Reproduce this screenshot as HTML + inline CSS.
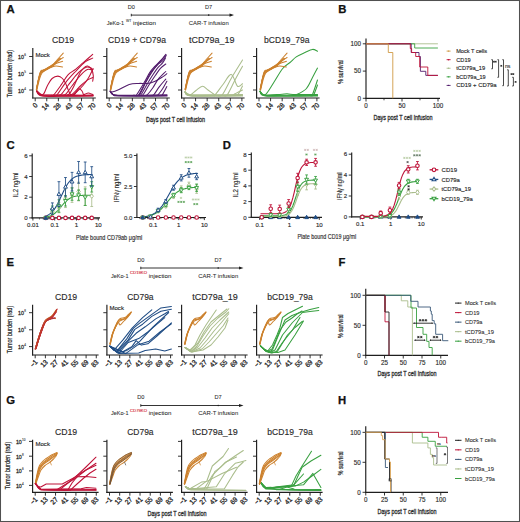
<!DOCTYPE html>
<html><head><meta charset="utf-8"><style>html,body{margin:0;padding:0;background:#fff;overflow:hidden;}svg{display:block;}text{font-family:"Liberation Sans",sans-serif;}</style></head><body>
<svg width="520" height="522" viewBox="0 0 520 522" font-family='"Liberation Sans", sans-serif'>
<rect x="0.5" y="0.5" width="519" height="521" fill="#fff" stroke="#505050" stroke-width="1.05"/>
<text x="6.4" y="13.3" font-size="11.3" fill="#111" stroke="#111" stroke-width="0.25" font-weight="bold">A</text>
<text x="338.3" y="13.4" font-size="11.3" fill="#111" stroke="#111" stroke-width="0.25" font-weight="bold">B</text>
<text x="6.5" y="149.4" font-size="11.3" fill="#111" stroke="#111" stroke-width="0.25" font-weight="bold">C</text>
<text x="222.7" y="149.4" font-size="11.3" fill="#111" stroke="#111" stroke-width="0.25" font-weight="bold">D</text>
<text x="6.5" y="266.4" font-size="11.3" fill="#111" stroke="#111" stroke-width="0.25" font-weight="bold">E</text>
<text x="338.5" y="266.4" font-size="11.3" fill="#111" stroke="#111" stroke-width="0.25" font-weight="bold">F</text>
<text x="6.3" y="403.6" font-size="11.3" fill="#111" stroke="#111" stroke-width="0.25" font-weight="bold">G</text>
<text x="338" y="403.8" font-size="11.3" fill="#111" stroke="#111" stroke-width="0.25" font-weight="bold">H</text>
<line x1="131.3" y1="15.1" x2="231" y2="15.1" stroke="#1e1e1e" stroke-width="0.9"/>
<line x1="131.3" y1="13.8" x2="131.3" y2="16.4" stroke="#1e1e1e" stroke-width="0.9"/>
<circle cx="208.7" cy="15.1" r="0.8" fill="#1e1e1e"/>
<path d="M229.5 13.5 L234 15.1 L229.5 16.7 Z" fill="#1e1e1e"/>
<text x="131.4" y="8.7" font-size="5.6" fill="#2a2a2a" stroke="#2a2a2a" stroke-width="0.06" text-anchor="middle" textLength="7.2" lengthAdjust="spacingAndGlyphs">D0</text>
<text x="208.6" y="8.7" font-size="5.6" fill="#2a2a2a" stroke="#2a2a2a" stroke-width="0.06" text-anchor="middle" textLength="7.2" lengthAdjust="spacingAndGlyphs">D7</text>
<text x="106.7" y="25" font-size="5.8" fill="#2a2a2a" stroke="#2a2a2a" stroke-width="0.06" textLength="17.5" lengthAdjust="spacingAndGlyphs">JeKo-1</text>
<text x="126" y="21.5" font-size="3.9" fill="#2a2a2a" stroke="#2a2a2a" stroke-width="0.06" textLength="5.4" lengthAdjust="spacingAndGlyphs">WT</text>
<text x="133" y="25" font-size="5.8" fill="#2a2a2a" stroke="#2a2a2a" stroke-width="0.06" textLength="22.9" lengthAdjust="spacingAndGlyphs">injection</text>
<text x="188.7" y="25" font-size="5.8" fill="#2a2a2a" stroke="#2a2a2a" stroke-width="0.06" textLength="40" lengthAdjust="spacingAndGlyphs">CAR-T infusion</text>
<line x1="140.8" y1="268" x2="240.5" y2="268" stroke="#1e1e1e" stroke-width="0.9"/>
<line x1="140.8" y1="266.7" x2="140.8" y2="269.3" stroke="#1e1e1e" stroke-width="0.9"/>
<circle cx="218.2" cy="268" r="0.8" fill="#1e1e1e"/>
<path d="M239 266.4 L243.5 268 L239 269.6 Z" fill="#1e1e1e"/>
<text x="140.9" y="261.6" font-size="5.6" fill="#2a2a2a" stroke="#2a2a2a" stroke-width="0.06" text-anchor="middle" textLength="7.2" lengthAdjust="spacingAndGlyphs">D0</text>
<text x="218.1" y="261.6" font-size="5.6" fill="#2a2a2a" stroke="#2a2a2a" stroke-width="0.06" text-anchor="middle" textLength="7.2" lengthAdjust="spacingAndGlyphs">D7</text>
<text x="111" y="277.9" font-size="5.8" fill="#2a2a2a" stroke="#2a2a2a" stroke-width="0.06" textLength="17.5" lengthAdjust="spacingAndGlyphs">JeKo-1</text>
<text x="130" y="274.4" font-size="4" fill="#D42A3A" stroke="#D42A3A" stroke-width="0.12" textLength="17" lengthAdjust="spacingAndGlyphs">CD19KO</text>
<text x="148.75" y="277.9" font-size="5.8" fill="#2a2a2a" stroke="#2a2a2a" stroke-width="0.06" textLength="22.6" lengthAdjust="spacingAndGlyphs">injection</text>
<text x="198.2" y="277.9" font-size="5.8" fill="#2a2a2a" stroke="#2a2a2a" stroke-width="0.06" textLength="40" lengthAdjust="spacingAndGlyphs">CAR-T infusion</text>
<line x1="140.8" y1="405.5" x2="240.5" y2="405.5" stroke="#1e1e1e" stroke-width="0.9"/>
<line x1="140.8" y1="404.2" x2="140.8" y2="406.8" stroke="#1e1e1e" stroke-width="0.9"/>
<circle cx="218.2" cy="405.5" r="0.8" fill="#1e1e1e"/>
<path d="M239 403.9 L243.5 405.5 L239 407.1 Z" fill="#1e1e1e"/>
<text x="140.9" y="399.1" font-size="5.6" fill="#2a2a2a" stroke="#2a2a2a" stroke-width="0.06" text-anchor="middle" textLength="7.2" lengthAdjust="spacingAndGlyphs">D0</text>
<text x="218.1" y="399.1" font-size="5.6" fill="#2a2a2a" stroke="#2a2a2a" stroke-width="0.06" text-anchor="middle" textLength="7.2" lengthAdjust="spacingAndGlyphs">D7</text>
<text x="111" y="415.4" font-size="5.8" fill="#2a2a2a" stroke="#2a2a2a" stroke-width="0.06" textLength="17.5" lengthAdjust="spacingAndGlyphs">JeKo-1</text>
<text x="130" y="411.9" font-size="4" fill="#D42A3A" stroke="#D42A3A" stroke-width="0.12" textLength="17" lengthAdjust="spacingAndGlyphs">CD79KO</text>
<text x="148.75" y="415.4" font-size="5.8" fill="#2a2a2a" stroke="#2a2a2a" stroke-width="0.06" textLength="22.6" lengthAdjust="spacingAndGlyphs">injection</text>
<text x="198.2" y="415.4" font-size="5.8" fill="#2a2a2a" stroke="#2a2a2a" stroke-width="0.06" textLength="40" lengthAdjust="spacingAndGlyphs">CAR-T infusion</text>
<line x1="32.8" y1="48" x2="32.8" y2="98.55" stroke="#1e1e1e" stroke-width="1.15"/>
<line x1="29.2" y1="56.5" x2="32.8" y2="56.5" stroke="#1e1e1e" stroke-width="0.9"/>
<line x1="29.2" y1="73.3" x2="32.8" y2="73.3" stroke="#1e1e1e" stroke-width="0.9"/>
<line x1="29.2" y1="90" x2="32.8" y2="90" stroke="#1e1e1e" stroke-width="0.9"/>
<line x1="32.25" y1="98" x2="95.8" y2="98" stroke="#1e1e1e" stroke-width="1.15"/>
<line x1="35.2" y1="98" x2="35.2" y2="101.3" stroke="#1e1e1e" stroke-width="0.9"/>
<text x="38.1" y="105.6" font-size="7" fill="#2a2a2a" stroke="#2a2a2a" stroke-width="0.3" text-anchor="end" textLength="3.6" lengthAdjust="spacingAndGlyphs" transform="rotate(-45 38.1 105.6)">0</text>
<line x1="46.78" y1="98" x2="46.78" y2="101.3" stroke="#1e1e1e" stroke-width="0.9"/>
<text x="49.68" y="105.6" font-size="7" fill="#2a2a2a" stroke="#2a2a2a" stroke-width="0.3" text-anchor="end" textLength="7.2" lengthAdjust="spacingAndGlyphs" transform="rotate(-45 49.68 105.6)">14</text>
<line x1="58.36" y1="98" x2="58.36" y2="101.3" stroke="#1e1e1e" stroke-width="0.9"/>
<text x="61.26" y="105.6" font-size="7" fill="#2a2a2a" stroke="#2a2a2a" stroke-width="0.3" text-anchor="end" textLength="7.2" lengthAdjust="spacingAndGlyphs" transform="rotate(-45 61.26 105.6)">28</text>
<line x1="69.94" y1="98" x2="69.94" y2="101.3" stroke="#1e1e1e" stroke-width="0.9"/>
<text x="72.84" y="105.6" font-size="7" fill="#2a2a2a" stroke="#2a2a2a" stroke-width="0.3" text-anchor="end" textLength="7.2" lengthAdjust="spacingAndGlyphs" transform="rotate(-45 72.84 105.6)">43</text>
<line x1="81.52" y1="98" x2="81.52" y2="101.3" stroke="#1e1e1e" stroke-width="0.9"/>
<text x="84.42" y="105.6" font-size="7" fill="#2a2a2a" stroke="#2a2a2a" stroke-width="0.3" text-anchor="end" textLength="7.2" lengthAdjust="spacingAndGlyphs" transform="rotate(-45 84.42 105.6)">57</text>
<line x1="93.1" y1="98" x2="93.1" y2="101.3" stroke="#1e1e1e" stroke-width="0.9"/>
<text x="96" y="105.6" font-size="7" fill="#2a2a2a" stroke="#2a2a2a" stroke-width="0.3" text-anchor="end" textLength="7.2" lengthAdjust="spacingAndGlyphs" transform="rotate(-45 96 105.6)">70</text>
<text x="63" y="43" font-size="8.5" fill="#2a2a2a" stroke="#2a2a2a" stroke-width="0.14" text-anchor="middle" textLength="22.2" lengthAdjust="spacingAndGlyphs">CD19</text>
<text x="18.1" y="59" font-size="6" fill="#2a2a2a" stroke="#2a2a2a" stroke-width="0.28" textLength="5.9" lengthAdjust="spacingAndGlyphs">10</text>
<text x="24.3" y="56" font-size="4" fill="#2a2a2a" stroke="#2a2a2a" stroke-width="0.1" textLength="1.7" lengthAdjust="spacingAndGlyphs">6</text>
<text x="18.1" y="75.8" font-size="6" fill="#2a2a2a" stroke="#2a2a2a" stroke-width="0.28" textLength="5.9" lengthAdjust="spacingAndGlyphs">10</text>
<text x="24.3" y="72.8" font-size="4" fill="#2a2a2a" stroke="#2a2a2a" stroke-width="0.1" textLength="1.7" lengthAdjust="spacingAndGlyphs">5</text>
<text x="18.1" y="92.5" font-size="6" fill="#2a2a2a" stroke="#2a2a2a" stroke-width="0.28" textLength="5.9" lengthAdjust="spacingAndGlyphs">10</text>
<text x="24.3" y="89.5" font-size="4" fill="#2a2a2a" stroke="#2a2a2a" stroke-width="0.1" textLength="1.7" lengthAdjust="spacingAndGlyphs">4</text>
<line x1="106.8" y1="48" x2="106.8" y2="98.55" stroke="#1e1e1e" stroke-width="1.15"/>
<line x1="103.2" y1="56.5" x2="106.8" y2="56.5" stroke="#1e1e1e" stroke-width="0.9"/>
<line x1="103.2" y1="73.3" x2="106.8" y2="73.3" stroke="#1e1e1e" stroke-width="0.9"/>
<line x1="103.2" y1="90" x2="106.8" y2="90" stroke="#1e1e1e" stroke-width="0.9"/>
<line x1="106.25" y1="98" x2="169.8" y2="98" stroke="#1e1e1e" stroke-width="1.15"/>
<line x1="109.2" y1="98" x2="109.2" y2="101.3" stroke="#1e1e1e" stroke-width="0.9"/>
<text x="112.1" y="105.6" font-size="7" fill="#2a2a2a" stroke="#2a2a2a" stroke-width="0.3" text-anchor="end" textLength="3.6" lengthAdjust="spacingAndGlyphs" transform="rotate(-45 112.1 105.6)">0</text>
<line x1="120.78" y1="98" x2="120.78" y2="101.3" stroke="#1e1e1e" stroke-width="0.9"/>
<text x="123.68" y="105.6" font-size="7" fill="#2a2a2a" stroke="#2a2a2a" stroke-width="0.3" text-anchor="end" textLength="7.2" lengthAdjust="spacingAndGlyphs" transform="rotate(-45 123.68 105.6)">14</text>
<line x1="132.36" y1="98" x2="132.36" y2="101.3" stroke="#1e1e1e" stroke-width="0.9"/>
<text x="135.26" y="105.6" font-size="7" fill="#2a2a2a" stroke="#2a2a2a" stroke-width="0.3" text-anchor="end" textLength="7.2" lengthAdjust="spacingAndGlyphs" transform="rotate(-45 135.26 105.6)">28</text>
<line x1="143.94" y1="98" x2="143.94" y2="101.3" stroke="#1e1e1e" stroke-width="0.9"/>
<text x="146.84" y="105.6" font-size="7" fill="#2a2a2a" stroke="#2a2a2a" stroke-width="0.3" text-anchor="end" textLength="7.2" lengthAdjust="spacingAndGlyphs" transform="rotate(-45 146.84 105.6)">43</text>
<line x1="155.52" y1="98" x2="155.52" y2="101.3" stroke="#1e1e1e" stroke-width="0.9"/>
<text x="158.42" y="105.6" font-size="7" fill="#2a2a2a" stroke="#2a2a2a" stroke-width="0.3" text-anchor="end" textLength="7.2" lengthAdjust="spacingAndGlyphs" transform="rotate(-45 158.42 105.6)">57</text>
<line x1="167.1" y1="98" x2="167.1" y2="101.3" stroke="#1e1e1e" stroke-width="0.9"/>
<text x="170" y="105.6" font-size="7" fill="#2a2a2a" stroke="#2a2a2a" stroke-width="0.3" text-anchor="end" textLength="7.2" lengthAdjust="spacingAndGlyphs" transform="rotate(-45 170 105.6)">70</text>
<text x="137" y="43" font-size="8.5" fill="#2a2a2a" stroke="#2a2a2a" stroke-width="0.14" text-anchor="middle" textLength="58" lengthAdjust="spacingAndGlyphs">CD19 + CD79a</text>
<line x1="181.6" y1="48" x2="181.6" y2="98.55" stroke="#1e1e1e" stroke-width="1.15"/>
<line x1="178" y1="56.5" x2="181.6" y2="56.5" stroke="#1e1e1e" stroke-width="0.9"/>
<line x1="178" y1="73.3" x2="181.6" y2="73.3" stroke="#1e1e1e" stroke-width="0.9"/>
<line x1="178" y1="90" x2="181.6" y2="90" stroke="#1e1e1e" stroke-width="0.9"/>
<line x1="181.05" y1="98" x2="244.6" y2="98" stroke="#1e1e1e" stroke-width="1.15"/>
<line x1="184" y1="98" x2="184" y2="101.3" stroke="#1e1e1e" stroke-width="0.9"/>
<text x="186.9" y="105.6" font-size="7" fill="#2a2a2a" stroke="#2a2a2a" stroke-width="0.3" text-anchor="end" textLength="3.6" lengthAdjust="spacingAndGlyphs" transform="rotate(-45 186.9 105.6)">0</text>
<line x1="195.58" y1="98" x2="195.58" y2="101.3" stroke="#1e1e1e" stroke-width="0.9"/>
<text x="198.48" y="105.6" font-size="7" fill="#2a2a2a" stroke="#2a2a2a" stroke-width="0.3" text-anchor="end" textLength="7.2" lengthAdjust="spacingAndGlyphs" transform="rotate(-45 198.48 105.6)">14</text>
<line x1="207.16" y1="98" x2="207.16" y2="101.3" stroke="#1e1e1e" stroke-width="0.9"/>
<text x="210.06" y="105.6" font-size="7" fill="#2a2a2a" stroke="#2a2a2a" stroke-width="0.3" text-anchor="end" textLength="7.2" lengthAdjust="spacingAndGlyphs" transform="rotate(-45 210.06 105.6)">28</text>
<line x1="218.74" y1="98" x2="218.74" y2="101.3" stroke="#1e1e1e" stroke-width="0.9"/>
<text x="221.64" y="105.6" font-size="7" fill="#2a2a2a" stroke="#2a2a2a" stroke-width="0.3" text-anchor="end" textLength="7.2" lengthAdjust="spacingAndGlyphs" transform="rotate(-45 221.64 105.6)">43</text>
<line x1="230.32" y1="98" x2="230.32" y2="101.3" stroke="#1e1e1e" stroke-width="0.9"/>
<text x="233.22" y="105.6" font-size="7" fill="#2a2a2a" stroke="#2a2a2a" stroke-width="0.3" text-anchor="end" textLength="7.2" lengthAdjust="spacingAndGlyphs" transform="rotate(-45 233.22 105.6)">57</text>
<line x1="241.9" y1="98" x2="241.9" y2="101.3" stroke="#1e1e1e" stroke-width="0.9"/>
<text x="244.8" y="105.6" font-size="7" fill="#2a2a2a" stroke="#2a2a2a" stroke-width="0.3" text-anchor="end" textLength="7.2" lengthAdjust="spacingAndGlyphs" transform="rotate(-45 244.8 105.6)">70</text>
<text x="211.8" y="43" font-size="8.5" fill="#2a2a2a" stroke="#2a2a2a" stroke-width="0.14" text-anchor="middle" textLength="45.5" lengthAdjust="spacingAndGlyphs">tCD79a_19</text>
<line x1="256.6" y1="48" x2="256.6" y2="98.55" stroke="#1e1e1e" stroke-width="1.15"/>
<line x1="253" y1="56.5" x2="256.6" y2="56.5" stroke="#1e1e1e" stroke-width="0.9"/>
<line x1="253" y1="73.3" x2="256.6" y2="73.3" stroke="#1e1e1e" stroke-width="0.9"/>
<line x1="253" y1="90" x2="256.6" y2="90" stroke="#1e1e1e" stroke-width="0.9"/>
<line x1="256.05" y1="98" x2="319.6" y2="98" stroke="#1e1e1e" stroke-width="1.15"/>
<line x1="259" y1="98" x2="259" y2="101.3" stroke="#1e1e1e" stroke-width="0.9"/>
<text x="261.9" y="105.6" font-size="7" fill="#2a2a2a" stroke="#2a2a2a" stroke-width="0.3" text-anchor="end" textLength="3.6" lengthAdjust="spacingAndGlyphs" transform="rotate(-45 261.9 105.6)">0</text>
<line x1="270.58" y1="98" x2="270.58" y2="101.3" stroke="#1e1e1e" stroke-width="0.9"/>
<text x="273.48" y="105.6" font-size="7" fill="#2a2a2a" stroke="#2a2a2a" stroke-width="0.3" text-anchor="end" textLength="7.2" lengthAdjust="spacingAndGlyphs" transform="rotate(-45 273.48 105.6)">14</text>
<line x1="282.16" y1="98" x2="282.16" y2="101.3" stroke="#1e1e1e" stroke-width="0.9"/>
<text x="285.06" y="105.6" font-size="7" fill="#2a2a2a" stroke="#2a2a2a" stroke-width="0.3" text-anchor="end" textLength="7.2" lengthAdjust="spacingAndGlyphs" transform="rotate(-45 285.06 105.6)">28</text>
<line x1="293.74" y1="98" x2="293.74" y2="101.3" stroke="#1e1e1e" stroke-width="0.9"/>
<text x="296.64" y="105.6" font-size="7" fill="#2a2a2a" stroke="#2a2a2a" stroke-width="0.3" text-anchor="end" textLength="7.2" lengthAdjust="spacingAndGlyphs" transform="rotate(-45 296.64 105.6)">43</text>
<line x1="305.32" y1="98" x2="305.32" y2="101.3" stroke="#1e1e1e" stroke-width="0.9"/>
<text x="308.22" y="105.6" font-size="7" fill="#2a2a2a" stroke="#2a2a2a" stroke-width="0.3" text-anchor="end" textLength="7.2" lengthAdjust="spacingAndGlyphs" transform="rotate(-45 308.22 105.6)">57</text>
<line x1="316.9" y1="98" x2="316.9" y2="101.3" stroke="#1e1e1e" stroke-width="0.9"/>
<text x="319.8" y="105.6" font-size="7" fill="#2a2a2a" stroke="#2a2a2a" stroke-width="0.3" text-anchor="end" textLength="7.2" lengthAdjust="spacingAndGlyphs" transform="rotate(-45 319.8 105.6)">70</text>
<text x="286.8" y="43" font-size="8.5" fill="#2a2a2a" stroke="#2a2a2a" stroke-width="0.14" text-anchor="middle" textLength="45.5" lengthAdjust="spacingAndGlyphs">bCD19_79a</text>
<text x="12.2" y="73.6" font-size="7.8" fill="#2a2a2a" stroke="#2a2a2a" stroke-width="0.25" text-anchor="middle" textLength="47.5" lengthAdjust="spacingAndGlyphs" transform="rotate(-90 12.2 73.6)">Tumor burden (rad)</text>
<text x="35.4" y="56.6" font-size="5.6" fill="#2a2a2a" stroke="#2a2a2a" stroke-width="0.14" textLength="14.4" lengthAdjust="spacingAndGlyphs">Mock</text>
<text x="146" y="122.3" font-size="7.4" fill="#2a2a2a" stroke="#2a2a2a" stroke-width="0.3" textLength="59" lengthAdjust="spacingAndGlyphs">Days post T cell infusion</text>
<line x1="32.6" y1="304.7" x2="32.6" y2="355.55" stroke="#1e1e1e" stroke-width="1.15"/>
<line x1="29" y1="312.7" x2="32.6" y2="312.7" stroke="#1e1e1e" stroke-width="0.9"/>
<line x1="29" y1="329.8" x2="32.6" y2="329.8" stroke="#1e1e1e" stroke-width="0.9"/>
<line x1="29" y1="346.6" x2="32.6" y2="346.6" stroke="#1e1e1e" stroke-width="0.9"/>
<line x1="32.05" y1="355" x2="98.6" y2="355" stroke="#1e1e1e" stroke-width="1.15"/>
<line x1="35.2" y1="355" x2="35.2" y2="358.3" stroke="#1e1e1e" stroke-width="0.9"/>
<text x="38.1" y="362.6" font-size="7" fill="#2a2a2a" stroke="#2a2a2a" stroke-width="0.3" text-anchor="end" textLength="7.2" lengthAdjust="spacingAndGlyphs" transform="rotate(-45 38.1 362.6)">−1</text>
<line x1="45.38" y1="355" x2="45.38" y2="358.3" stroke="#1e1e1e" stroke-width="0.9"/>
<text x="48.28" y="362.6" font-size="7" fill="#2a2a2a" stroke="#2a2a2a" stroke-width="0.3" text-anchor="end" textLength="7.2" lengthAdjust="spacingAndGlyphs" transform="rotate(-45 48.28 362.6)">13</text>
<line x1="55.56" y1="355" x2="55.56" y2="358.3" stroke="#1e1e1e" stroke-width="0.9"/>
<text x="58.46" y="362.6" font-size="7" fill="#2a2a2a" stroke="#2a2a2a" stroke-width="0.3" text-anchor="end" textLength="7.2" lengthAdjust="spacingAndGlyphs" transform="rotate(-45 58.46 362.6)">27</text>
<line x1="65.74" y1="355" x2="65.74" y2="358.3" stroke="#1e1e1e" stroke-width="0.9"/>
<text x="68.64" y="362.6" font-size="7" fill="#2a2a2a" stroke="#2a2a2a" stroke-width="0.3" text-anchor="end" textLength="7.2" lengthAdjust="spacingAndGlyphs" transform="rotate(-45 68.64 362.6)">41</text>
<line x1="75.92" y1="355" x2="75.92" y2="358.3" stroke="#1e1e1e" stroke-width="0.9"/>
<text x="78.82" y="362.6" font-size="7" fill="#2a2a2a" stroke="#2a2a2a" stroke-width="0.3" text-anchor="end" textLength="7.2" lengthAdjust="spacingAndGlyphs" transform="rotate(-45 78.82 362.6)">55</text>
<line x1="86.1" y1="355" x2="86.1" y2="358.3" stroke="#1e1e1e" stroke-width="0.9"/>
<text x="89" y="362.6" font-size="7" fill="#2a2a2a" stroke="#2a2a2a" stroke-width="0.3" text-anchor="end" textLength="7.2" lengthAdjust="spacingAndGlyphs" transform="rotate(-45 89 362.6)">69</text>
<line x1="96.28" y1="355" x2="96.28" y2="358.3" stroke="#1e1e1e" stroke-width="0.9"/>
<text x="99.18" y="362.6" font-size="7" fill="#2a2a2a" stroke="#2a2a2a" stroke-width="0.3" text-anchor="end" textLength="7.2" lengthAdjust="spacingAndGlyphs" transform="rotate(-45 99.18 362.6)">83</text>
<text x="66.1" y="299.7" font-size="8.5" fill="#2a2a2a" stroke="#2a2a2a" stroke-width="0.14" text-anchor="middle" textLength="22.2" lengthAdjust="spacingAndGlyphs">CD19</text>
<text x="18.1" y="315.2" font-size="6" fill="#2a2a2a" stroke="#2a2a2a" stroke-width="0.28" textLength="5.9" lengthAdjust="spacingAndGlyphs">10</text>
<text x="24.3" y="312.2" font-size="4" fill="#2a2a2a" stroke="#2a2a2a" stroke-width="0.1" textLength="1.7" lengthAdjust="spacingAndGlyphs">8</text>
<text x="18.1" y="332.3" font-size="6" fill="#2a2a2a" stroke="#2a2a2a" stroke-width="0.28" textLength="5.9" lengthAdjust="spacingAndGlyphs">10</text>
<text x="24.3" y="329.3" font-size="4" fill="#2a2a2a" stroke="#2a2a2a" stroke-width="0.1" textLength="1.7" lengthAdjust="spacingAndGlyphs">6</text>
<text x="18.1" y="349.1" font-size="6" fill="#2a2a2a" stroke="#2a2a2a" stroke-width="0.28" textLength="5.9" lengthAdjust="spacingAndGlyphs">10</text>
<text x="24.3" y="346.1" font-size="4" fill="#2a2a2a" stroke="#2a2a2a" stroke-width="0.1" textLength="1.7" lengthAdjust="spacingAndGlyphs">4</text>
<line x1="106.9" y1="304.7" x2="106.9" y2="355.55" stroke="#1e1e1e" stroke-width="1.15"/>
<line x1="103.3" y1="312.7" x2="106.9" y2="312.7" stroke="#1e1e1e" stroke-width="0.9"/>
<line x1="103.3" y1="329.8" x2="106.9" y2="329.8" stroke="#1e1e1e" stroke-width="0.9"/>
<line x1="103.3" y1="346.6" x2="106.9" y2="346.6" stroke="#1e1e1e" stroke-width="0.9"/>
<line x1="106.35" y1="355" x2="172.9" y2="355" stroke="#1e1e1e" stroke-width="1.15"/>
<line x1="109.5" y1="355" x2="109.5" y2="358.3" stroke="#1e1e1e" stroke-width="0.9"/>
<text x="112.4" y="362.6" font-size="7" fill="#2a2a2a" stroke="#2a2a2a" stroke-width="0.3" text-anchor="end" textLength="7.2" lengthAdjust="spacingAndGlyphs" transform="rotate(-45 112.4 362.6)">−1</text>
<line x1="119.68" y1="355" x2="119.68" y2="358.3" stroke="#1e1e1e" stroke-width="0.9"/>
<text x="122.58" y="362.6" font-size="7" fill="#2a2a2a" stroke="#2a2a2a" stroke-width="0.3" text-anchor="end" textLength="7.2" lengthAdjust="spacingAndGlyphs" transform="rotate(-45 122.58 362.6)">13</text>
<line x1="129.86" y1="355" x2="129.86" y2="358.3" stroke="#1e1e1e" stroke-width="0.9"/>
<text x="132.76" y="362.6" font-size="7" fill="#2a2a2a" stroke="#2a2a2a" stroke-width="0.3" text-anchor="end" textLength="7.2" lengthAdjust="spacingAndGlyphs" transform="rotate(-45 132.76 362.6)">27</text>
<line x1="140.04" y1="355" x2="140.04" y2="358.3" stroke="#1e1e1e" stroke-width="0.9"/>
<text x="142.94" y="362.6" font-size="7" fill="#2a2a2a" stroke="#2a2a2a" stroke-width="0.3" text-anchor="end" textLength="7.2" lengthAdjust="spacingAndGlyphs" transform="rotate(-45 142.94 362.6)">41</text>
<line x1="150.22" y1="355" x2="150.22" y2="358.3" stroke="#1e1e1e" stroke-width="0.9"/>
<text x="153.12" y="362.6" font-size="7" fill="#2a2a2a" stroke="#2a2a2a" stroke-width="0.3" text-anchor="end" textLength="7.2" lengthAdjust="spacingAndGlyphs" transform="rotate(-45 153.12 362.6)">55</text>
<line x1="160.4" y1="355" x2="160.4" y2="358.3" stroke="#1e1e1e" stroke-width="0.9"/>
<text x="163.3" y="362.6" font-size="7" fill="#2a2a2a" stroke="#2a2a2a" stroke-width="0.3" text-anchor="end" textLength="7.2" lengthAdjust="spacingAndGlyphs" transform="rotate(-45 163.3 362.6)">69</text>
<line x1="170.58" y1="355" x2="170.58" y2="358.3" stroke="#1e1e1e" stroke-width="0.9"/>
<text x="173.48" y="362.6" font-size="7" fill="#2a2a2a" stroke="#2a2a2a" stroke-width="0.3" text-anchor="end" textLength="7.2" lengthAdjust="spacingAndGlyphs" transform="rotate(-45 173.48 362.6)">83</text>
<text x="140.4" y="299.7" font-size="8.5" fill="#2a2a2a" stroke="#2a2a2a" stroke-width="0.14" text-anchor="middle" textLength="26.3" lengthAdjust="spacingAndGlyphs">CD79a</text>
<line x1="181.6" y1="304.7" x2="181.6" y2="355.55" stroke="#1e1e1e" stroke-width="1.15"/>
<line x1="178" y1="312.7" x2="181.6" y2="312.7" stroke="#1e1e1e" stroke-width="0.9"/>
<line x1="178" y1="329.8" x2="181.6" y2="329.8" stroke="#1e1e1e" stroke-width="0.9"/>
<line x1="178" y1="346.6" x2="181.6" y2="346.6" stroke="#1e1e1e" stroke-width="0.9"/>
<line x1="181.05" y1="355" x2="247.6" y2="355" stroke="#1e1e1e" stroke-width="1.15"/>
<line x1="184.2" y1="355" x2="184.2" y2="358.3" stroke="#1e1e1e" stroke-width="0.9"/>
<text x="187.1" y="362.6" font-size="7" fill="#2a2a2a" stroke="#2a2a2a" stroke-width="0.3" text-anchor="end" textLength="7.2" lengthAdjust="spacingAndGlyphs" transform="rotate(-45 187.1 362.6)">−1</text>
<line x1="194.38" y1="355" x2="194.38" y2="358.3" stroke="#1e1e1e" stroke-width="0.9"/>
<text x="197.28" y="362.6" font-size="7" fill="#2a2a2a" stroke="#2a2a2a" stroke-width="0.3" text-anchor="end" textLength="7.2" lengthAdjust="spacingAndGlyphs" transform="rotate(-45 197.28 362.6)">13</text>
<line x1="204.56" y1="355" x2="204.56" y2="358.3" stroke="#1e1e1e" stroke-width="0.9"/>
<text x="207.46" y="362.6" font-size="7" fill="#2a2a2a" stroke="#2a2a2a" stroke-width="0.3" text-anchor="end" textLength="7.2" lengthAdjust="spacingAndGlyphs" transform="rotate(-45 207.46 362.6)">27</text>
<line x1="214.74" y1="355" x2="214.74" y2="358.3" stroke="#1e1e1e" stroke-width="0.9"/>
<text x="217.64" y="362.6" font-size="7" fill="#2a2a2a" stroke="#2a2a2a" stroke-width="0.3" text-anchor="end" textLength="7.2" lengthAdjust="spacingAndGlyphs" transform="rotate(-45 217.64 362.6)">41</text>
<line x1="224.92" y1="355" x2="224.92" y2="358.3" stroke="#1e1e1e" stroke-width="0.9"/>
<text x="227.82" y="362.6" font-size="7" fill="#2a2a2a" stroke="#2a2a2a" stroke-width="0.3" text-anchor="end" textLength="7.2" lengthAdjust="spacingAndGlyphs" transform="rotate(-45 227.82 362.6)">55</text>
<line x1="235.1" y1="355" x2="235.1" y2="358.3" stroke="#1e1e1e" stroke-width="0.9"/>
<text x="238" y="362.6" font-size="7" fill="#2a2a2a" stroke="#2a2a2a" stroke-width="0.3" text-anchor="end" textLength="7.2" lengthAdjust="spacingAndGlyphs" transform="rotate(-45 238 362.6)">69</text>
<line x1="245.28" y1="355" x2="245.28" y2="358.3" stroke="#1e1e1e" stroke-width="0.9"/>
<text x="248.18" y="362.6" font-size="7" fill="#2a2a2a" stroke="#2a2a2a" stroke-width="0.3" text-anchor="end" textLength="7.2" lengthAdjust="spacingAndGlyphs" transform="rotate(-45 248.18 362.6)">83</text>
<text x="215.1" y="299.7" font-size="8.5" fill="#2a2a2a" stroke="#2a2a2a" stroke-width="0.14" text-anchor="middle" textLength="45.5" lengthAdjust="spacingAndGlyphs">tCD79a_19</text>
<line x1="256.6" y1="304.7" x2="256.6" y2="355.55" stroke="#1e1e1e" stroke-width="1.15"/>
<line x1="253" y1="312.7" x2="256.6" y2="312.7" stroke="#1e1e1e" stroke-width="0.9"/>
<line x1="253" y1="329.8" x2="256.6" y2="329.8" stroke="#1e1e1e" stroke-width="0.9"/>
<line x1="253" y1="346.6" x2="256.6" y2="346.6" stroke="#1e1e1e" stroke-width="0.9"/>
<line x1="256.05" y1="355" x2="322.6" y2="355" stroke="#1e1e1e" stroke-width="1.15"/>
<line x1="259.2" y1="355" x2="259.2" y2="358.3" stroke="#1e1e1e" stroke-width="0.9"/>
<text x="262.1" y="362.6" font-size="7" fill="#2a2a2a" stroke="#2a2a2a" stroke-width="0.3" text-anchor="end" textLength="7.2" lengthAdjust="spacingAndGlyphs" transform="rotate(-45 262.1 362.6)">−1</text>
<line x1="269.38" y1="355" x2="269.38" y2="358.3" stroke="#1e1e1e" stroke-width="0.9"/>
<text x="272.28" y="362.6" font-size="7" fill="#2a2a2a" stroke="#2a2a2a" stroke-width="0.3" text-anchor="end" textLength="7.2" lengthAdjust="spacingAndGlyphs" transform="rotate(-45 272.28 362.6)">13</text>
<line x1="279.56" y1="355" x2="279.56" y2="358.3" stroke="#1e1e1e" stroke-width="0.9"/>
<text x="282.46" y="362.6" font-size="7" fill="#2a2a2a" stroke="#2a2a2a" stroke-width="0.3" text-anchor="end" textLength="7.2" lengthAdjust="spacingAndGlyphs" transform="rotate(-45 282.46 362.6)">27</text>
<line x1="289.74" y1="355" x2="289.74" y2="358.3" stroke="#1e1e1e" stroke-width="0.9"/>
<text x="292.64" y="362.6" font-size="7" fill="#2a2a2a" stroke="#2a2a2a" stroke-width="0.3" text-anchor="end" textLength="7.2" lengthAdjust="spacingAndGlyphs" transform="rotate(-45 292.64 362.6)">41</text>
<line x1="299.92" y1="355" x2="299.92" y2="358.3" stroke="#1e1e1e" stroke-width="0.9"/>
<text x="302.82" y="362.6" font-size="7" fill="#2a2a2a" stroke="#2a2a2a" stroke-width="0.3" text-anchor="end" textLength="7.2" lengthAdjust="spacingAndGlyphs" transform="rotate(-45 302.82 362.6)">55</text>
<line x1="310.1" y1="355" x2="310.1" y2="358.3" stroke="#1e1e1e" stroke-width="0.9"/>
<text x="313" y="362.6" font-size="7" fill="#2a2a2a" stroke="#2a2a2a" stroke-width="0.3" text-anchor="end" textLength="7.2" lengthAdjust="spacingAndGlyphs" transform="rotate(-45 313 362.6)">69</text>
<line x1="320.28" y1="355" x2="320.28" y2="358.3" stroke="#1e1e1e" stroke-width="0.9"/>
<text x="323.18" y="362.6" font-size="7" fill="#2a2a2a" stroke="#2a2a2a" stroke-width="0.3" text-anchor="end" textLength="7.2" lengthAdjust="spacingAndGlyphs" transform="rotate(-45 323.18 362.6)">83</text>
<text x="290.1" y="299.7" font-size="8.5" fill="#2a2a2a" stroke="#2a2a2a" stroke-width="0.14" text-anchor="middle" textLength="45.5" lengthAdjust="spacingAndGlyphs">bCD19_79a</text>
<text x="12.4" y="329.5" font-size="7.8" fill="#2a2a2a" stroke="#2a2a2a" stroke-width="0.25" text-anchor="middle" textLength="47.5" lengthAdjust="spacingAndGlyphs" transform="rotate(-90 12.4 329.5)">Tumor burden (rad)</text>
<text x="109.5" y="309.8" font-size="5.6" fill="#2a2a2a" stroke="#2a2a2a" stroke-width="0.14" textLength="14.4" lengthAdjust="spacingAndGlyphs">Mock</text>
<line x1="32.6" y1="439.7" x2="32.6" y2="492.95" stroke="#1e1e1e" stroke-width="1.15"/>
<line x1="29" y1="441.4" x2="32.6" y2="441.4" stroke="#1e1e1e" stroke-width="0.9"/>
<line x1="29" y1="456.2" x2="32.6" y2="456.2" stroke="#1e1e1e" stroke-width="0.9"/>
<line x1="29" y1="470.9" x2="32.6" y2="470.9" stroke="#1e1e1e" stroke-width="0.9"/>
<line x1="29" y1="485.4" x2="32.6" y2="485.4" stroke="#1e1e1e" stroke-width="0.9"/>
<line x1="32.05" y1="492.4" x2="98.6" y2="492.4" stroke="#1e1e1e" stroke-width="1.15"/>
<line x1="35.2" y1="492.4" x2="35.2" y2="495.7" stroke="#1e1e1e" stroke-width="0.9"/>
<text x="38.1" y="500" font-size="7" fill="#2a2a2a" stroke="#2a2a2a" stroke-width="0.3" text-anchor="end" textLength="7.2" lengthAdjust="spacingAndGlyphs" transform="rotate(-45 38.1 500)">−1</text>
<line x1="45.38" y1="492.4" x2="45.38" y2="495.7" stroke="#1e1e1e" stroke-width="0.9"/>
<text x="48.28" y="500" font-size="7" fill="#2a2a2a" stroke="#2a2a2a" stroke-width="0.3" text-anchor="end" textLength="7.2" lengthAdjust="spacingAndGlyphs" transform="rotate(-45 48.28 500)">13</text>
<line x1="55.56" y1="492.4" x2="55.56" y2="495.7" stroke="#1e1e1e" stroke-width="0.9"/>
<text x="58.46" y="500" font-size="7" fill="#2a2a2a" stroke="#2a2a2a" stroke-width="0.3" text-anchor="end" textLength="7.2" lengthAdjust="spacingAndGlyphs" transform="rotate(-45 58.46 500)">27</text>
<line x1="65.74" y1="492.4" x2="65.74" y2="495.7" stroke="#1e1e1e" stroke-width="0.9"/>
<text x="68.64" y="500" font-size="7" fill="#2a2a2a" stroke="#2a2a2a" stroke-width="0.3" text-anchor="end" textLength="7.2" lengthAdjust="spacingAndGlyphs" transform="rotate(-45 68.64 500)">41</text>
<line x1="75.92" y1="492.4" x2="75.92" y2="495.7" stroke="#1e1e1e" stroke-width="0.9"/>
<text x="78.82" y="500" font-size="7" fill="#2a2a2a" stroke="#2a2a2a" stroke-width="0.3" text-anchor="end" textLength="7.2" lengthAdjust="spacingAndGlyphs" transform="rotate(-45 78.82 500)">55</text>
<line x1="86.1" y1="492.4" x2="86.1" y2="495.7" stroke="#1e1e1e" stroke-width="0.9"/>
<text x="89" y="500" font-size="7" fill="#2a2a2a" stroke="#2a2a2a" stroke-width="0.3" text-anchor="end" textLength="7.2" lengthAdjust="spacingAndGlyphs" transform="rotate(-45 89 500)">69</text>
<line x1="96.28" y1="492.4" x2="96.28" y2="495.7" stroke="#1e1e1e" stroke-width="0.9"/>
<text x="99.18" y="500" font-size="7" fill="#2a2a2a" stroke="#2a2a2a" stroke-width="0.3" text-anchor="end" textLength="7.2" lengthAdjust="spacingAndGlyphs" transform="rotate(-45 99.18 500)">83</text>
<text x="66.1" y="434.7" font-size="8.5" fill="#2a2a2a" stroke="#2a2a2a" stroke-width="0.14" text-anchor="middle" textLength="22.2" lengthAdjust="spacingAndGlyphs">CD19</text>
<text x="15.9" y="443.9" font-size="6" fill="#2a2a2a" stroke="#2a2a2a" stroke-width="0.28" textLength="5.9" lengthAdjust="spacingAndGlyphs">10</text>
<text x="22.1" y="440.9" font-size="4" fill="#2a2a2a" stroke="#2a2a2a" stroke-width="0.1" textLength="3.4" lengthAdjust="spacingAndGlyphs">10</text>
<text x="15.9" y="458.7" font-size="6" fill="#2a2a2a" stroke="#2a2a2a" stroke-width="0.28" textLength="5.9" lengthAdjust="spacingAndGlyphs">10</text>
<text x="22.1" y="455.7" font-size="4" fill="#2a2a2a" stroke="#2a2a2a" stroke-width="0.1" textLength="1.7" lengthAdjust="spacingAndGlyphs">8</text>
<text x="15.9" y="473.4" font-size="6" fill="#2a2a2a" stroke="#2a2a2a" stroke-width="0.28" textLength="5.9" lengthAdjust="spacingAndGlyphs">10</text>
<text x="22.1" y="470.4" font-size="4" fill="#2a2a2a" stroke="#2a2a2a" stroke-width="0.1" textLength="1.7" lengthAdjust="spacingAndGlyphs">6</text>
<text x="15.9" y="487.9" font-size="6" fill="#2a2a2a" stroke="#2a2a2a" stroke-width="0.28" textLength="5.9" lengthAdjust="spacingAndGlyphs">10</text>
<text x="22.1" y="484.9" font-size="4" fill="#2a2a2a" stroke="#2a2a2a" stroke-width="0.1" textLength="1.7" lengthAdjust="spacingAndGlyphs">4</text>
<line x1="106.9" y1="439.7" x2="106.9" y2="492.95" stroke="#1e1e1e" stroke-width="1.15"/>
<line x1="103.3" y1="441.4" x2="106.9" y2="441.4" stroke="#1e1e1e" stroke-width="0.9"/>
<line x1="103.3" y1="456.2" x2="106.9" y2="456.2" stroke="#1e1e1e" stroke-width="0.9"/>
<line x1="103.3" y1="470.9" x2="106.9" y2="470.9" stroke="#1e1e1e" stroke-width="0.9"/>
<line x1="103.3" y1="485.4" x2="106.9" y2="485.4" stroke="#1e1e1e" stroke-width="0.9"/>
<line x1="106.35" y1="492.4" x2="172.9" y2="492.4" stroke="#1e1e1e" stroke-width="1.15"/>
<line x1="109.5" y1="492.4" x2="109.5" y2="495.7" stroke="#1e1e1e" stroke-width="0.9"/>
<text x="112.4" y="500" font-size="7" fill="#2a2a2a" stroke="#2a2a2a" stroke-width="0.3" text-anchor="end" textLength="7.2" lengthAdjust="spacingAndGlyphs" transform="rotate(-45 112.4 500)">−1</text>
<line x1="119.68" y1="492.4" x2="119.68" y2="495.7" stroke="#1e1e1e" stroke-width="0.9"/>
<text x="122.58" y="500" font-size="7" fill="#2a2a2a" stroke="#2a2a2a" stroke-width="0.3" text-anchor="end" textLength="7.2" lengthAdjust="spacingAndGlyphs" transform="rotate(-45 122.58 500)">13</text>
<line x1="129.86" y1="492.4" x2="129.86" y2="495.7" stroke="#1e1e1e" stroke-width="0.9"/>
<text x="132.76" y="500" font-size="7" fill="#2a2a2a" stroke="#2a2a2a" stroke-width="0.3" text-anchor="end" textLength="7.2" lengthAdjust="spacingAndGlyphs" transform="rotate(-45 132.76 500)">27</text>
<line x1="140.04" y1="492.4" x2="140.04" y2="495.7" stroke="#1e1e1e" stroke-width="0.9"/>
<text x="142.94" y="500" font-size="7" fill="#2a2a2a" stroke="#2a2a2a" stroke-width="0.3" text-anchor="end" textLength="7.2" lengthAdjust="spacingAndGlyphs" transform="rotate(-45 142.94 500)">41</text>
<line x1="150.22" y1="492.4" x2="150.22" y2="495.7" stroke="#1e1e1e" stroke-width="0.9"/>
<text x="153.12" y="500" font-size="7" fill="#2a2a2a" stroke="#2a2a2a" stroke-width="0.3" text-anchor="end" textLength="7.2" lengthAdjust="spacingAndGlyphs" transform="rotate(-45 153.12 500)">55</text>
<line x1="160.4" y1="492.4" x2="160.4" y2="495.7" stroke="#1e1e1e" stroke-width="0.9"/>
<text x="163.3" y="500" font-size="7" fill="#2a2a2a" stroke="#2a2a2a" stroke-width="0.3" text-anchor="end" textLength="7.2" lengthAdjust="spacingAndGlyphs" transform="rotate(-45 163.3 500)">69</text>
<line x1="170.58" y1="492.4" x2="170.58" y2="495.7" stroke="#1e1e1e" stroke-width="0.9"/>
<text x="173.48" y="500" font-size="7" fill="#2a2a2a" stroke="#2a2a2a" stroke-width="0.3" text-anchor="end" textLength="7.2" lengthAdjust="spacingAndGlyphs" transform="rotate(-45 173.48 500)">83</text>
<text x="140.4" y="434.7" font-size="8.5" fill="#2a2a2a" stroke="#2a2a2a" stroke-width="0.14" text-anchor="middle" textLength="26.3" lengthAdjust="spacingAndGlyphs">CD79a</text>
<line x1="181.6" y1="439.7" x2="181.6" y2="492.95" stroke="#1e1e1e" stroke-width="1.15"/>
<line x1="178" y1="441.4" x2="181.6" y2="441.4" stroke="#1e1e1e" stroke-width="0.9"/>
<line x1="178" y1="456.2" x2="181.6" y2="456.2" stroke="#1e1e1e" stroke-width="0.9"/>
<line x1="178" y1="470.9" x2="181.6" y2="470.9" stroke="#1e1e1e" stroke-width="0.9"/>
<line x1="178" y1="485.4" x2="181.6" y2="485.4" stroke="#1e1e1e" stroke-width="0.9"/>
<line x1="181.05" y1="492.4" x2="247.6" y2="492.4" stroke="#1e1e1e" stroke-width="1.15"/>
<line x1="184.2" y1="492.4" x2="184.2" y2="495.7" stroke="#1e1e1e" stroke-width="0.9"/>
<text x="187.1" y="500" font-size="7" fill="#2a2a2a" stroke="#2a2a2a" stroke-width="0.3" text-anchor="end" textLength="7.2" lengthAdjust="spacingAndGlyphs" transform="rotate(-45 187.1 500)">−1</text>
<line x1="194.38" y1="492.4" x2="194.38" y2="495.7" stroke="#1e1e1e" stroke-width="0.9"/>
<text x="197.28" y="500" font-size="7" fill="#2a2a2a" stroke="#2a2a2a" stroke-width="0.3" text-anchor="end" textLength="7.2" lengthAdjust="spacingAndGlyphs" transform="rotate(-45 197.28 500)">13</text>
<line x1="204.56" y1="492.4" x2="204.56" y2="495.7" stroke="#1e1e1e" stroke-width="0.9"/>
<text x="207.46" y="500" font-size="7" fill="#2a2a2a" stroke="#2a2a2a" stroke-width="0.3" text-anchor="end" textLength="7.2" lengthAdjust="spacingAndGlyphs" transform="rotate(-45 207.46 500)">27</text>
<line x1="214.74" y1="492.4" x2="214.74" y2="495.7" stroke="#1e1e1e" stroke-width="0.9"/>
<text x="217.64" y="500" font-size="7" fill="#2a2a2a" stroke="#2a2a2a" stroke-width="0.3" text-anchor="end" textLength="7.2" lengthAdjust="spacingAndGlyphs" transform="rotate(-45 217.64 500)">41</text>
<line x1="224.92" y1="492.4" x2="224.92" y2="495.7" stroke="#1e1e1e" stroke-width="0.9"/>
<text x="227.82" y="500" font-size="7" fill="#2a2a2a" stroke="#2a2a2a" stroke-width="0.3" text-anchor="end" textLength="7.2" lengthAdjust="spacingAndGlyphs" transform="rotate(-45 227.82 500)">55</text>
<line x1="235.1" y1="492.4" x2="235.1" y2="495.7" stroke="#1e1e1e" stroke-width="0.9"/>
<text x="238" y="500" font-size="7" fill="#2a2a2a" stroke="#2a2a2a" stroke-width="0.3" text-anchor="end" textLength="7.2" lengthAdjust="spacingAndGlyphs" transform="rotate(-45 238 500)">69</text>
<line x1="245.28" y1="492.4" x2="245.28" y2="495.7" stroke="#1e1e1e" stroke-width="0.9"/>
<text x="248.18" y="500" font-size="7" fill="#2a2a2a" stroke="#2a2a2a" stroke-width="0.3" text-anchor="end" textLength="7.2" lengthAdjust="spacingAndGlyphs" transform="rotate(-45 248.18 500)">83</text>
<text x="215.1" y="434.7" font-size="8.5" fill="#2a2a2a" stroke="#2a2a2a" stroke-width="0.14" text-anchor="middle" textLength="45.5" lengthAdjust="spacingAndGlyphs">tCD79a_19</text>
<line x1="256.6" y1="439.7" x2="256.6" y2="492.95" stroke="#1e1e1e" stroke-width="1.15"/>
<line x1="253" y1="441.4" x2="256.6" y2="441.4" stroke="#1e1e1e" stroke-width="0.9"/>
<line x1="253" y1="456.2" x2="256.6" y2="456.2" stroke="#1e1e1e" stroke-width="0.9"/>
<line x1="253" y1="470.9" x2="256.6" y2="470.9" stroke="#1e1e1e" stroke-width="0.9"/>
<line x1="253" y1="485.4" x2="256.6" y2="485.4" stroke="#1e1e1e" stroke-width="0.9"/>
<line x1="256.05" y1="492.4" x2="322.6" y2="492.4" stroke="#1e1e1e" stroke-width="1.15"/>
<line x1="259.2" y1="492.4" x2="259.2" y2="495.7" stroke="#1e1e1e" stroke-width="0.9"/>
<text x="262.1" y="500" font-size="7" fill="#2a2a2a" stroke="#2a2a2a" stroke-width="0.3" text-anchor="end" textLength="7.2" lengthAdjust="spacingAndGlyphs" transform="rotate(-45 262.1 500)">−1</text>
<line x1="269.38" y1="492.4" x2="269.38" y2="495.7" stroke="#1e1e1e" stroke-width="0.9"/>
<text x="272.28" y="500" font-size="7" fill="#2a2a2a" stroke="#2a2a2a" stroke-width="0.3" text-anchor="end" textLength="7.2" lengthAdjust="spacingAndGlyphs" transform="rotate(-45 272.28 500)">13</text>
<line x1="279.56" y1="492.4" x2="279.56" y2="495.7" stroke="#1e1e1e" stroke-width="0.9"/>
<text x="282.46" y="500" font-size="7" fill="#2a2a2a" stroke="#2a2a2a" stroke-width="0.3" text-anchor="end" textLength="7.2" lengthAdjust="spacingAndGlyphs" transform="rotate(-45 282.46 500)">27</text>
<line x1="289.74" y1="492.4" x2="289.74" y2="495.7" stroke="#1e1e1e" stroke-width="0.9"/>
<text x="292.64" y="500" font-size="7" fill="#2a2a2a" stroke="#2a2a2a" stroke-width="0.3" text-anchor="end" textLength="7.2" lengthAdjust="spacingAndGlyphs" transform="rotate(-45 292.64 500)">41</text>
<line x1="299.92" y1="492.4" x2="299.92" y2="495.7" stroke="#1e1e1e" stroke-width="0.9"/>
<text x="302.82" y="500" font-size="7" fill="#2a2a2a" stroke="#2a2a2a" stroke-width="0.3" text-anchor="end" textLength="7.2" lengthAdjust="spacingAndGlyphs" transform="rotate(-45 302.82 500)">55</text>
<line x1="310.1" y1="492.4" x2="310.1" y2="495.7" stroke="#1e1e1e" stroke-width="0.9"/>
<text x="313" y="500" font-size="7" fill="#2a2a2a" stroke="#2a2a2a" stroke-width="0.3" text-anchor="end" textLength="7.2" lengthAdjust="spacingAndGlyphs" transform="rotate(-45 313 500)">69</text>
<line x1="320.28" y1="492.4" x2="320.28" y2="495.7" stroke="#1e1e1e" stroke-width="0.9"/>
<text x="323.18" y="500" font-size="7" fill="#2a2a2a" stroke="#2a2a2a" stroke-width="0.3" text-anchor="end" textLength="7.2" lengthAdjust="spacingAndGlyphs" transform="rotate(-45 323.18 500)">83</text>
<text x="290.1" y="434.7" font-size="8.5" fill="#2a2a2a" stroke="#2a2a2a" stroke-width="0.14" text-anchor="middle" textLength="45.5" lengthAdjust="spacingAndGlyphs">bCD19_79a</text>
<text x="9.9" y="465.5" font-size="7.8" fill="#2a2a2a" stroke="#2a2a2a" stroke-width="0.25" text-anchor="middle" textLength="47.5" lengthAdjust="spacingAndGlyphs" transform="rotate(-90 9.9 465.5)">Tumor burden (rad)</text>
<text x="35.5" y="446.4" font-size="5.6" fill="#2a2a2a" stroke="#2a2a2a" stroke-width="0.14" textLength="14.4" lengthAdjust="spacingAndGlyphs">Mock</text>
<text x="147.5" y="515.6" font-size="7.4" fill="#2a2a2a" stroke="#2a2a2a" stroke-width="0.3" textLength="59" lengthAdjust="spacingAndGlyphs">Days post T cell infusion</text>
<path d="M36.5 90.5C37.25 91.25 39.42 94.2 41 95C42.58 95.8 37.33 95.23 46 95.3C54.67 95.37 85.17 95.38 93 95.4" fill="none" stroke="#BE1238" stroke-width="1.05" stroke-linejoin="round" stroke-linecap="round"/>
<path d="M36.5 90.8C37.33 91.6 37.58 94.75 41.5 95.6C45.42 96.45 51.42 95.87 60 95.9C68.58 95.93 87.5 95.82 93 95.8" fill="none" stroke="#BE1238" stroke-width="1.05" stroke-linejoin="round" stroke-linecap="round"/>
<path d="M36.5 91C37.42 91.83 36.42 95.13 42 96C47.58 96.87 61.5 96.18 70 96.2C78.5 96.22 89.17 96.12 93 96.1" fill="none" stroke="#BE1238" stroke-width="1.05" stroke-linejoin="round" stroke-linecap="round"/>
<path d="M36.5 90.5C37.25 91.22 37.92 94.05 41 94.8C44.08 95.55 48.5 94.93 55 95C61.5 95.07 73.67 95.22 80 95.2C86.33 95.18 90.83 94.95 93 94.9" fill="none" stroke="#BE1238" stroke-width="1.05" stroke-linejoin="round" stroke-linecap="round"/>
<path d="M36.5 90.5C37.57 91.18 41.07 95.45 42.9 94.6C44.73 93.75 45.97 88.08 47.5 85.4C49.03 82.72 50.37 80.05 52.1 78.5C53.83 76.95 56.17 76.1 57.9 76.1C59.63 76.1 61.15 77.15 62.5 78.5C63.85 79.85 65.03 82.28 66 84.2C66.97 86.12 67.53 88.27 68.3 90C69.07 91.73 69.48 93.73 70.6 94.6C71.72 95.47 74.27 95.1 75 95.2" fill="none" stroke="#BE1238" stroke-width="1.05" stroke-linejoin="round" stroke-linecap="round"/>
<path d="M51 95.4C51.5 95.25 52.25 96.33 54 94.5C55.75 92.67 59.17 87.68 61.5 84.4C63.83 81.12 65.67 77.3 68 74.8C70.33 72.3 73 71.38 75.5 69.4C78 67.42 80.13 65.42 83 62.9C85.87 60.38 91.08 55.73 92.7 54.3" fill="none" stroke="#BE1238" stroke-width="1.05" stroke-linejoin="round" stroke-linecap="round"/>
<path d="M54 95.4C54.53 95.25 55.23 96.68 57.2 94.5C59.17 92.32 62.75 86.13 65.8 82.3C68.85 78.47 72.27 74.92 75.5 71.5C78.73 68.08 82.33 64.03 85.2 61.8C88.07 59.57 91.45 58.72 92.7 58.1" fill="none" stroke="#BE1238" stroke-width="1.05" stroke-linejoin="round" stroke-linecap="round"/>
<path d="M58 95.4C58.58 95.18 59.83 95.75 61.5 94.1C63.17 92.45 65.67 88.55 68 85.5C70.33 82.45 73.35 78.3 75.5 75.8C77.65 73.3 79.1 71.93 80.9 70.5C82.7 69.07 84.68 67.65 86.3 67.2C87.92 66.75 89.53 67.43 90.6 67.8C91.67 68.17 92.35 69.13 92.7 69.4" fill="none" stroke="#BE1238" stroke-width="1.05" stroke-linejoin="round" stroke-linecap="round"/>
<path d="M62 95.4C62.63 95.18 64.08 95.75 65.8 94.1C67.52 92.45 69.78 88.72 72.3 85.5C74.82 82.28 78.4 77.48 80.9 74.8C83.4 72.12 85.52 70.22 87.3 69.4C89.08 68.58 90.6 70 91.6 69.9C92.6 69.8 93.02 68.98 93.3 68.8" fill="none" stroke="#BE1238" stroke-width="1.05" stroke-linejoin="round" stroke-linecap="round"/>
<path d="M72 95.4C72.58 95.02 73.67 94.75 75.5 93.1C77.33 91.45 80.85 88.02 83 85.5C85.15 82.98 86.78 80.68 88.4 78C90.02 75.32 91.98 70.83 92.7 69.4" fill="none" stroke="#BE1238" stroke-width="1.05" stroke-linejoin="round" stroke-linecap="round"/>
<path d="M69 95.4C69.55 95.18 70.32 95.75 72.3 94.1C74.28 92.45 78.4 87.83 80.9 85.5C83.4 83.17 85.33 81.43 87.3 80.1C89.27 78.77 91.8 77.93 92.7 77.5" fill="none" stroke="#BE1238" stroke-width="1.05" stroke-linejoin="round" stroke-linecap="round"/>
<path d="M73 95.4C73.42 95.02 74.53 94.2 75.5 93.1C76.47 92 77.72 89.15 78.8 88.8C79.88 88.45 81.22 89.97 82 91C82.78 92.03 83.25 94.33 83.5 95" fill="none" stroke="#BE1238" stroke-width="1.05" stroke-linejoin="round" stroke-linecap="round"/>
<path d="M83 95.4C83.37 95.18 84.3 94.5 85.2 94.1C86.1 93.7 87.33 93 88.4 93C89.47 93 90.83 93.77 91.6 94.1C92.37 94.43 92.77 94.85 93 95" fill="none" stroke="#BE1238" stroke-width="1.05" stroke-linejoin="round" stroke-linecap="round"/>
<path d="M67 95.4C67.5 95 68.83 94.57 70 93C71.17 91.43 72.18 89.58 74 86C75.82 82.42 78.68 74.82 80.9 71.5C83.12 68.18 85.52 66.45 87.3 66.1C89.08 65.75 90.6 67.78 91.6 69.4C92.6 71.02 93.12 73.83 93.3 75.8C93.48 77.77 92.8 80.3 92.7 81.2" fill="none" stroke="#BE1238" stroke-width="1.05" stroke-linejoin="round" stroke-linecap="round"/>
<path d="M36.4 89.4C36.75 87.83 37.77 83.03 38.5 80C39.23 76.97 40 72.88 40.75 71.25C41.5 69.62 41.96 70.73 43 70.2C44.04 69.67 45.4 68.97 47 68.1C48.6 67.23 50.93 66.35 52.6 65C54.27 63.65 55.23 61.98 57 60C58.77 58.02 62.21 54.25 63.25 53.1" fill="none" stroke="#CC812D" stroke-width="1.05" stroke-linejoin="round" stroke-linecap="round"/>
<path d="M36.4 89.6C36.8 87.83 38.03 81.93 38.8 79C39.57 76.07 39.97 73.58 41 72C42.03 70.42 43.5 70.42 45 69.5C46.5 68.58 48.33 67.58 50 66.5C51.67 65.42 53.58 64 55 63C56.42 62 57.12 61.42 58.5 60.5C59.88 59.58 62.46 58 63.25 57.5" fill="none" stroke="#CC812D" stroke-width="1.05" stroke-linejoin="round" stroke-linecap="round"/>
<path d="M36.6 89.8C37 87.83 38.18 80.88 39 78C39.82 75.12 40.33 73.92 41.5 72.5C42.67 71.08 44.42 70.5 46 69.5C47.58 68.5 49.33 67.5 51 66.5C52.67 65.5 54.07 64.37 56 63.5C57.93 62.63 61.5 61.67 62.6 61.3" fill="none" stroke="#CC812D" stroke-width="1.05" stroke-linejoin="round" stroke-linecap="round"/>
<path d="M36.8 90C37.25 88.17 38.63 81.83 39.5 79C40.37 76.17 40.75 74.58 42 73C43.25 71.42 45.33 70.5 47 69.5C48.67 68.5 50.5 67.58 52 67C53.5 66.42 54.23 66.02 56 66C57.77 65.98 61.5 66.75 62.6 66.9" fill="none" stroke="#CC812D" stroke-width="1.05" stroke-linejoin="round" stroke-linecap="round"/>
<path d="M36.4 89C36.67 87.67 37.32 83.83 38 81C38.68 78.17 39.42 73.87 40.5 72C41.58 70.13 43.25 70.38 44.5 69.8C45.75 69.22 46.58 69.22 48 68.5C49.42 67.78 51.5 66.75 53 65.5C54.5 64.25 55.83 62.25 57 61C58.17 59.75 59.5 58.5 60 58" fill="none" stroke="#CC812D" stroke-width="1.05" stroke-linejoin="round" stroke-linecap="round"/>
<path d="M36.6 89.2C36.93 87.58 37.95 82.2 38.6 79.5C39.25 76.8 39.77 74.33 40.5 73C41.23 71.67 41.83 72.2 43 71.5C44.17 70.8 45.83 69.75 47.5 68.8C49.17 67.85 51.33 67.02 53 65.8C54.67 64.58 56.17 62.72 57.5 61.5C58.83 60.28 60.42 59 61 58.5" fill="none" stroke="#CC812D" stroke-width="1.05" stroke-linejoin="round" stroke-linecap="round"/>
<path d="M110.2 91.2C110.67 91.75 111.78 93.77 113 94.5C114.22 95.23 113 95.38 117.5 95.6C122 95.82 131.75 95.82 140 95.8C148.25 95.78 162.5 95.55 167 95.5" fill="none" stroke="#521C6C" stroke-width="1.05" stroke-linejoin="round" stroke-linecap="round"/>
<path d="M110.2 91.4C110.75 92 112.2 94.23 113.5 95C114.8 95.77 111.92 95.82 118 96C124.08 96.18 141.83 96.1 150 96.1C158.17 96.1 164.17 96.02 167 96" fill="none" stroke="#521C6C" stroke-width="1.05" stroke-linejoin="round" stroke-linecap="round"/>
<path d="M110.2 91C110.58 91.53 111.2 93.48 112.5 94.2C113.8 94.92 112.58 95.13 118 95.3C123.42 95.47 136.83 95.28 145 95.2C153.17 95.12 163.33 94.87 167 94.8" fill="none" stroke="#521C6C" stroke-width="1.05" stroke-linejoin="round" stroke-linecap="round"/>
<path d="M110.2 91.2C110.5 91.33 110.62 92.23 112 92C113.38 91.77 115.63 91.07 118.5 89.8C121.37 88.53 125.8 85.47 129.2 84.4C132.6 83.33 135.85 83.57 138.9 83.4C141.95 83.23 144.8 83.77 147.5 83.4C150.2 83.03 152.58 82.28 155.1 81.2C157.62 80.12 160.63 78.15 162.6 76.9C164.57 75.65 166.18 74.23 166.9 73.7" fill="none" stroke="#521C6C" stroke-width="1.05" stroke-linejoin="round" stroke-linecap="round"/>
<path d="M110.2 91.2C110.83 91.83 110.7 94.28 114 95C117.3 95.72 126.58 95.47 130 95.5C133.42 95.53 133.37 95.37 134.5 95.2C135.63 95.03 135.17 96.65 136.8 94.5C138.43 92.35 142.15 85.95 144.3 82.3C146.45 78.65 147.9 75.3 149.7 72.6C151.5 69.9 153.13 68.25 155.1 66.1C157.07 63.95 159.72 61.67 161.5 59.7C163.28 57.73 165.08 55.2 165.8 54.3" fill="none" stroke="#521C6C" stroke-width="1.05" stroke-linejoin="round" stroke-linecap="round"/>
<path d="M136 95.5C136.48 95.33 137.33 96.7 138.9 94.5C140.47 92.3 143.42 85.95 145.4 82.3C147.38 78.65 148.83 75.47 150.8 72.6C152.77 69.73 155.23 67.07 157.2 65.1C159.17 63.13 161.17 62.23 162.6 60.8C164.03 59.37 165.27 57.22 165.8 56.5" fill="none" stroke="#521C6C" stroke-width="1.05" stroke-linejoin="round" stroke-linecap="round"/>
<path d="M138 95.5C138.52 95.33 139.52 96.52 141.1 94.5C142.68 92.48 145.53 86.68 147.5 83.4C149.47 80.12 151.1 77.5 152.9 74.8C154.7 72.1 156.68 69.18 158.3 67.2C159.92 65.22 161.4 64.43 162.6 62.9C163.8 61.37 165.02 58.82 165.5 58" fill="none" stroke="#521C6C" stroke-width="1.05" stroke-linejoin="round" stroke-linecap="round"/>
<path d="M140 95.5C140.53 95.33 141.77 96.17 143.2 94.5C144.63 92.83 146.62 88.62 148.6 85.5C150.58 82.38 153.13 78.67 155.1 75.8C157.07 72.93 158.62 70.27 160.4 68.3C162.18 66.33 164.9 64.72 165.8 64" fill="none" stroke="#521C6C" stroke-width="1.05" stroke-linejoin="round" stroke-linecap="round"/>
<path d="M137 95.5C137.5 95.25 138.5 96.25 140 94C141.5 91.75 144 85.67 146 82C148 78.33 150 75 152 72C154 69 156.17 66.25 158 64C159.83 61.75 161.58 60 163 58.5C164.42 57 165.92 55.58 166.5 55" fill="none" stroke="#521C6C" stroke-width="1.05" stroke-linejoin="round" stroke-linecap="round"/>
<path d="M145 95.5C145.42 95.33 146.18 95.8 147.5 94.5C148.82 93.2 151.1 90.27 152.9 87.7C154.7 85.13 156.15 81.8 158.3 79.1C160.45 76.4 164.55 72.77 165.8 71.5" fill="none" stroke="#521C6C" stroke-width="1.05" stroke-linejoin="round" stroke-linecap="round"/>
<path d="M152 95.5C152.33 95.33 152.77 95.98 154 94.5C155.23 93.02 157.43 89.17 159.4 86.6C161.37 84.03 164.73 80.35 165.8 79.1" fill="none" stroke="#521C6C" stroke-width="1.05" stroke-linejoin="round" stroke-linecap="round"/>
<path d="M156.5 95.5C156.8 95.33 157.28 95.62 158.3 94.5C159.32 93.38 161.17 91.02 162.6 88.8C164.03 86.58 166.18 82.47 166.9 81.2" fill="none" stroke="#521C6C" stroke-width="1.05" stroke-linejoin="round" stroke-linecap="round"/>
<path d="M161 95.5C161.27 95.33 161.62 95.98 162.6 94.5C163.58 93.02 166.18 87.92 166.9 86.6" fill="none" stroke="#521C6C" stroke-width="1.05" stroke-linejoin="round" stroke-linecap="round"/>
<path d="M110.4 89.4C110.75 87.83 111.78 83.03 112.5 80C113.22 76.97 114 72.88 114.75 71.25C115.5 69.62 115.96 70.73 117 70.2C118.04 69.67 119.4 68.97 121 68.1C122.6 67.23 124.93 66.35 126.6 65C128.27 63.65 129.22 61.98 131 60C132.78 58.02 136.21 54.25 137.25 53.1" fill="none" stroke="#CC812D" stroke-width="1.05" stroke-linejoin="round" stroke-linecap="round"/>
<path d="M110.4 89.6C110.8 87.83 112.03 81.93 112.8 79C113.57 76.07 113.97 73.58 115 72C116.03 70.42 117.5 70.42 119 69.5C120.5 68.58 122.33 67.58 124 66.5C125.67 65.42 127.58 64 129 63C130.42 62 131.12 61.42 132.5 60.5C133.88 59.58 136.46 58 137.25 57.5" fill="none" stroke="#CC812D" stroke-width="1.05" stroke-linejoin="round" stroke-linecap="round"/>
<path d="M110.6 89.8C111 87.83 112.18 80.88 113 78C113.82 75.12 114.33 73.92 115.5 72.5C116.67 71.08 118.42 70.5 120 69.5C121.58 68.5 123.33 67.5 125 66.5C126.67 65.5 128.07 64.37 130 63.5C131.93 62.63 135.5 61.67 136.6 61.3" fill="none" stroke="#CC812D" stroke-width="1.05" stroke-linejoin="round" stroke-linecap="round"/>
<path d="M110.8 90C111.25 88.17 112.63 81.83 113.5 79C114.37 76.17 114.75 74.58 116 73C117.25 71.42 119.33 70.5 121 69.5C122.67 68.5 124.5 67.58 126 67C127.5 66.42 128.23 66.02 130 66C131.77 65.98 135.5 66.75 136.6 66.9" fill="none" stroke="#CC812D" stroke-width="1.05" stroke-linejoin="round" stroke-linecap="round"/>
<path d="M110.4 89C110.67 87.67 111.32 83.83 112 81C112.68 78.17 113.42 73.87 114.5 72C115.58 70.13 117.25 70.38 118.5 69.8C119.75 69.22 120.58 69.22 122 68.5C123.42 67.78 125.5 66.75 127 65.5C128.5 64.25 129.83 62.25 131 61C132.17 59.75 133.5 58.5 134 58" fill="none" stroke="#CC812D" stroke-width="1.05" stroke-linejoin="round" stroke-linecap="round"/>
<path d="M110.6 89.2C110.93 87.58 111.95 82.2 112.6 79.5C113.25 76.8 113.77 74.33 114.5 73C115.23 71.67 115.83 72.2 117 71.5C118.17 70.8 119.83 69.75 121.5 68.8C123.17 67.85 125.33 67.02 127 65.8C128.67 64.58 130.17 62.72 131.5 61.5C132.83 60.28 134.42 59 135 58.5" fill="none" stroke="#CC812D" stroke-width="1.05" stroke-linejoin="round" stroke-linecap="round"/>
<path d="M185 91.9C185.83 92.52 185 94.95 190 95.6C195 96.25 206.25 95.8 215 95.8C223.75 95.8 237.92 95.63 242.5 95.6" fill="none" stroke="#AABD8C" stroke-width="1.05" stroke-linejoin="round" stroke-linecap="round"/>
<path d="M185 92.1C185.83 92.62 184.17 94.68 190 95.2C195.83 95.72 211.25 95.22 220 95.2C228.75 95.18 238.75 95.12 242.5 95.1" fill="none" stroke="#AABD8C" stroke-width="1.05" stroke-linejoin="round" stroke-linecap="round"/>
<path d="M185 91.9C185.92 92.58 183.83 95.3 190.5 96C197.17 96.7 216.33 96.1 225 96.1C233.67 96.1 239.58 96.02 242.5 96" fill="none" stroke="#AABD8C" stroke-width="1.05" stroke-linejoin="round" stroke-linecap="round"/>
<path d="M185 91.7C185.75 92.18 185.33 94.08 189.5 94.6C193.67 95.12 201.17 94.8 210 94.8C218.83 94.8 237.08 94.63 242.5 94.6" fill="none" stroke="#AABD8C" stroke-width="1.05" stroke-linejoin="round" stroke-linecap="round"/>
<path d="M185 92C185.83 92.5 188.17 95.25 190 95C191.83 94.75 193.92 91.96 196 90.5C198.08 89.04 200.5 86.33 202.5 86.25C204.5 86.17 205.92 88.54 208 90C210.08 91.46 213.83 94.17 215 95" fill="none" stroke="#AABD8C" stroke-width="1.05" stroke-linejoin="round" stroke-linecap="round"/>
<path d="M185 92C185.83 92.58 185.5 94.92 190 95.5C194.5 96.08 207.83 95.58 212 95.5C216.17 95.42 213.17 96.83 215 95C216.83 93.17 220.29 87.93 223 84.5C225.71 81.07 228.83 74.11 231.25 74.4C233.67 74.69 235.62 84.69 237.5 86.25C239.38 87.81 241.67 84.17 242.5 83.75" fill="none" stroke="#AABD8C" stroke-width="1.05" stroke-linejoin="round" stroke-linecap="round"/>
<path d="M218 95.5C218.75 95.33 220.17 97.58 222.5 94.5C224.83 91.42 228.67 82.75 232 77C235.33 71.25 240.75 62.83 242.5 60" fill="none" stroke="#AABD8C" stroke-width="1.05" stroke-linejoin="round" stroke-linecap="round"/>
<path d="M224 95.5C224.58 95.33 225.67 97.08 227.5 94.5C229.33 91.92 232.5 84.71 235 80C237.5 75.29 241.25 68.54 242.5 66.25" fill="none" stroke="#AABD8C" stroke-width="1.05" stroke-linejoin="round" stroke-linecap="round"/>
<path d="M233 95.5C233.33 95.21 233.42 94.67 235 93.75C236.58 92.83 241.25 90.62 242.5 90" fill="none" stroke="#AABD8C" stroke-width="1.05" stroke-linejoin="round" stroke-linecap="round"/>
<path d="M237 95.5C237.33 95.08 238.08 94.58 239 93C239.92 91.42 241.92 87.17 242.5 86" fill="none" stroke="#AABD8C" stroke-width="1.05" stroke-linejoin="round" stroke-linecap="round"/>
<path d="M185.2 89.4C185.55 87.83 186.58 83.03 187.3 80C188.03 76.97 188.8 72.88 189.55 71.25C190.3 69.62 190.76 70.73 191.8 70.2C192.84 69.67 194.2 68.97 195.8 68.1C197.4 67.23 199.73 66.35 201.4 65C203.07 63.65 204.03 61.98 205.8 60C207.58 58.02 211.01 54.25 212.05 53.1" fill="none" stroke="#CC812D" stroke-width="1.05" stroke-linejoin="round" stroke-linecap="round"/>
<path d="M185.2 89.6C185.6 87.83 186.83 81.93 187.6 79C188.37 76.07 188.77 73.58 189.8 72C190.83 70.42 192.3 70.42 193.8 69.5C195.3 68.58 197.13 67.58 198.8 66.5C200.47 65.42 202.38 64 203.8 63C205.22 62 205.93 61.42 207.3 60.5C208.68 59.58 211.26 58 212.05 57.5" fill="none" stroke="#CC812D" stroke-width="1.05" stroke-linejoin="round" stroke-linecap="round"/>
<path d="M185.4 89.8C185.8 87.83 186.98 80.88 187.8 78C188.62 75.12 189.13 73.92 190.3 72.5C191.47 71.08 193.22 70.5 194.8 69.5C196.38 68.5 198.13 67.5 199.8 66.5C201.47 65.5 202.87 64.37 204.8 63.5C206.73 62.63 210.3 61.67 211.4 61.3" fill="none" stroke="#CC812D" stroke-width="1.05" stroke-linejoin="round" stroke-linecap="round"/>
<path d="M185.6 90C186.05 88.17 187.43 81.83 188.3 79C189.17 76.17 189.55 74.58 190.8 73C192.05 71.42 194.13 70.5 195.8 69.5C197.47 68.5 199.3 67.58 200.8 67C202.3 66.42 203.03 66.02 204.8 66C206.57 65.98 210.3 66.75 211.4 66.9" fill="none" stroke="#CC812D" stroke-width="1.05" stroke-linejoin="round" stroke-linecap="round"/>
<path d="M185.2 89C185.47 87.67 186.12 83.83 186.8 81C187.48 78.17 188.22 73.87 189.3 72C190.38 70.13 192.05 70.38 193.3 69.8C194.55 69.22 195.38 69.22 196.8 68.5C198.22 67.78 200.3 66.75 201.8 65.5C203.3 64.25 204.63 62.25 205.8 61C206.97 59.75 208.3 58.5 208.8 58" fill="none" stroke="#CC812D" stroke-width="1.05" stroke-linejoin="round" stroke-linecap="round"/>
<path d="M185.4 89.2C185.73 87.58 186.75 82.2 187.4 79.5C188.05 76.8 188.57 74.33 189.3 73C190.03 71.67 190.63 72.2 191.8 71.5C192.97 70.8 194.63 69.75 196.3 68.8C197.97 67.85 200.13 67.02 201.8 65.8C203.47 64.58 204.97 62.72 206.3 61.5C207.63 60.28 209.22 59 209.8 58.5" fill="none" stroke="#CC812D" stroke-width="1.05" stroke-linejoin="round" stroke-linecap="round"/>
<path d="M260 91.25C260.83 91.97 260 94.86 265 95.6C270 96.34 281.25 95.7 290 95.7C298.75 95.7 312.92 95.62 317.5 95.6" fill="none" stroke="#38A040" stroke-width="1.05" stroke-linejoin="round" stroke-linecap="round"/>
<path d="M260 91.5C260.92 92.25 258.83 95.23 265.5 96C272.17 96.77 291.33 96.1 300 96.1C308.67 96.1 314.58 96.02 317.5 96" fill="none" stroke="#38A040" stroke-width="1.05" stroke-linejoin="round" stroke-linecap="round"/>
<path d="M260 91C260.75 91.7 260.33 94.5 264.5 95.2C268.67 95.9 276.17 95.23 285 95.2C293.83 95.17 312.08 95.03 317.5 95" fill="none" stroke="#38A040" stroke-width="1.05" stroke-linejoin="round" stroke-linecap="round"/>
<path d="M260 91.3C260.67 91.88 260.67 94.27 264 94.8C267.33 95.33 276.17 94.67 280 94.5C283.83 94.33 284.83 93.8 287 93.8C289.17 93.8 287.92 94.37 293 94.5C298.08 94.63 313.42 94.58 317.5 94.6" fill="none" stroke="#38A040" stroke-width="1.05" stroke-linejoin="round" stroke-linecap="round"/>
<path d="M260 91.25C260.83 91.88 262.71 96.46 265 95C267.29 93.54 270.83 86.88 273.75 82.5C276.67 78.12 279.79 72.08 282.5 68.75C285.21 65.42 287.71 64.47 290 62.5C292.29 60.52 293.75 58.57 296.25 56.9C298.75 55.23 302.29 53.75 305 52.5C307.71 51.25 310.42 49.61 312.5 49.4C314.58 49.19 316.67 50.94 317.5 51.25" fill="none" stroke="#38A040" stroke-width="1.05" stroke-linejoin="round" stroke-linecap="round"/>
<path d="M292 95.5C292.71 95.38 293.88 95.92 296.25 94.8C298.62 93.67 303.54 91.63 306.25 88.75C308.96 85.87 310.62 80.94 312.5 77.5C314.38 74.06 316.67 69.67 317.5 68.1" fill="none" stroke="#38A040" stroke-width="1.05" stroke-linejoin="round" stroke-linecap="round"/>
<path d="M310 95.5C310.42 95.32 311.25 96.98 312.5 94.4C313.75 91.82 316.67 82.4 317.5 80" fill="none" stroke="#38A040" stroke-width="1.05" stroke-linejoin="round" stroke-linecap="round"/>
<path d="M311.5 95.5C311.88 95.38 312.75 96.55 313.75 94.8C314.75 93.05 316.88 86.63 317.5 85" fill="none" stroke="#38A040" stroke-width="1.05" stroke-linejoin="round" stroke-linecap="round"/>
<path d="M260.2 89.4C260.55 87.83 261.57 83.03 262.3 80C263.03 76.97 263.8 72.88 264.55 71.25C265.3 69.62 265.76 70.73 266.8 70.2C267.84 69.67 269.2 68.97 270.8 68.1C272.4 67.23 274.73 66.35 276.4 65C278.07 63.65 279.03 61.98 280.8 60C282.57 58.02 286.01 54.25 287.05 53.1" fill="none" stroke="#CC812D" stroke-width="1.05" stroke-linejoin="round" stroke-linecap="round"/>
<path d="M260.2 89.6C260.6 87.83 261.83 81.93 262.6 79C263.37 76.07 263.77 73.58 264.8 72C265.83 70.42 267.3 70.42 268.8 69.5C270.3 68.58 272.13 67.58 273.8 66.5C275.47 65.42 277.38 64 278.8 63C280.22 62 280.93 61.42 282.3 60.5C283.68 59.58 286.26 58 287.05 57.5" fill="none" stroke="#CC812D" stroke-width="1.05" stroke-linejoin="round" stroke-linecap="round"/>
<path d="M260.4 89.8C260.8 87.83 261.98 80.88 262.8 78C263.62 75.12 264.13 73.92 265.3 72.5C266.47 71.08 268.22 70.5 269.8 69.5C271.38 68.5 273.13 67.5 274.8 66.5C276.47 65.5 277.87 64.37 279.8 63.5C281.73 62.63 285.3 61.67 286.4 61.3" fill="none" stroke="#CC812D" stroke-width="1.05" stroke-linejoin="round" stroke-linecap="round"/>
<path d="M260.6 90C261.05 88.17 262.43 81.83 263.3 79C264.17 76.17 264.55 74.58 265.8 73C267.05 71.42 269.13 70.5 270.8 69.5C272.47 68.5 274.3 67.58 275.8 67C277.3 66.42 278.03 66.02 279.8 66C281.57 65.98 285.3 66.75 286.4 66.9" fill="none" stroke="#CC812D" stroke-width="1.05" stroke-linejoin="round" stroke-linecap="round"/>
<path d="M260.2 89C260.47 87.67 261.12 83.83 261.8 81C262.48 78.17 263.22 73.87 264.3 72C265.38 70.13 267.05 70.38 268.3 69.8C269.55 69.22 270.38 69.22 271.8 68.5C273.22 67.78 275.3 66.75 276.8 65.5C278.3 64.25 279.63 62.25 280.8 61C281.97 59.75 283.3 58.5 283.8 58" fill="none" stroke="#CC812D" stroke-width="1.05" stroke-linejoin="round" stroke-linecap="round"/>
<path d="M260.4 89.2C260.73 87.58 261.75 82.2 262.4 79.5C263.05 76.8 263.57 74.33 264.3 73C265.03 71.67 265.63 72.2 266.8 71.5C267.97 70.8 269.63 69.75 271.3 68.8C272.97 67.85 275.13 67.02 276.8 65.8C278.47 64.58 279.97 62.72 281.3 61.5C282.63 60.28 284.22 59 284.8 58.5" fill="none" stroke="#CC812D" stroke-width="1.05" stroke-linejoin="round" stroke-linecap="round"/>
<path d="M35.4 348.6C35.92 346.83 37.47 341.27 38.5 338C39.53 334.73 40.45 331.95 41.6 329C42.75 326.05 43.8 322.22 45.4 320.3C47 318.38 49.43 319.08 51.2 317.5C52.97 315.92 55.2 311.92 56 310.8" fill="none" stroke="#BE1238" stroke-width="1.1" stroke-linejoin="round" stroke-linecap="round"/>
<path d="M35.9 348.8C36.42 347.03 37.97 341.47 39 338.2C40.03 334.93 40.95 332.15 42.1 329.2C43.25 326.25 44.3 322.42 45.9 320.5C47.5 318.58 49.93 319.28 51.7 317.7C53.47 316.12 55.7 312.12 56.5 311" fill="none" stroke="#CC812D" stroke-width="1" stroke-linejoin="round" stroke-linecap="round"/>
<path d="M35.6 348.2C36.13 346.42 37.73 340.78 38.8 337.5C39.87 334.22 40.83 331.25 42 328.5C43.17 325.75 44.3 322.72 45.8 321C47.3 319.28 49.33 319.7 51 318.2C52.67 316.7 55 313.03 55.8 312" fill="none" stroke="#CC812D" stroke-width="1.1" stroke-linejoin="round" stroke-linecap="round"/>
<path d="M36.1 348.4C36.63 346.62 38.23 340.98 39.3 337.7C40.37 334.42 41.33 331.45 42.5 328.7C43.67 325.95 44.8 322.92 46.3 321.2C47.8 319.48 49.83 319.9 51.5 318.4C53.17 316.9 55.5 313.23 56.3 312.2" fill="none" stroke="#BE1238" stroke-width="1" stroke-linejoin="round" stroke-linecap="round"/>
<path d="M35.3 349C35.8 347.33 37.3 342.17 38.3 339C39.3 335.83 40.22 332.83 41.3 330C42.38 327.17 43.35 323.92 44.8 322C46.25 320.08 48.3 319.1 50 318.5C51.7 317.9 54.17 318.42 55 318.4" fill="none" stroke="#BE1238" stroke-width="1.1" stroke-linejoin="round" stroke-linecap="round"/>
<path d="M35.8 349.2C36.3 347.53 37.8 342.37 38.8 339.2C39.8 336.03 40.72 333.03 41.8 330.2C42.88 327.37 43.85 324.12 45.3 322.2C46.75 320.28 48.8 319.3 50.5 318.7C52.2 318.1 54.67 318.62 55.5 318.6" fill="none" stroke="#CC812D" stroke-width="1" stroke-linejoin="round" stroke-linecap="round"/>
<path d="M35.5 348.5C36.02 346.83 37.55 341.67 38.6 338.5C39.65 335.33 40.65 332.5 41.8 329.5C42.95 326.5 43.88 322.67 45.5 320.5C47.12 318.33 49.67 318.33 51.5 316.5C53.33 314.67 55.67 310.67 56.5 309.5" fill="none" stroke="#CC812D" stroke-width="1.1" stroke-linejoin="round" stroke-linecap="round"/>
<path d="M36 348.7C36.52 347.03 38.05 341.87 39.1 338.7C40.15 335.53 41.15 332.7 42.3 329.7C43.45 326.7 44.38 322.87 46 320.7C47.62 318.53 50.17 318.53 52 316.7C53.83 314.87 56.17 310.87 57 309.7" fill="none" stroke="#BE1238" stroke-width="1" stroke-linejoin="round" stroke-linecap="round"/>
<path d="M35.2 349.2C35.7 347.58 37.23 342.57 38.2 339.5C39.17 336.43 39.95 333.63 41 330.8C42.05 327.97 43.17 324.37 44.5 322.5C45.83 320.63 47.22 320.38 49 319.6C50.78 318.82 54.17 318.1 55.2 317.8" fill="none" stroke="#B0303A" stroke-width="1.1" stroke-linejoin="round" stroke-linecap="round"/>
<path d="M35.7 348C36.25 346.17 37.9 340.33 39 337C40.1 333.67 41.13 330.83 42.3 328C43.47 325.17 44.38 322 46 320C47.62 318 50.28 317.5 52 316C53.72 314.5 55.58 311.83 56.3 311" fill="none" stroke="#C35A2A" stroke-width="1.1" stroke-linejoin="round" stroke-linecap="round"/>
<path d="M36 348C36.58 346 38.33 339.58 39.5 336C40.67 332.42 41.83 329.08 43 326.5C44.17 323.92 45.33 321.92 46.5 320.5C47.67 319.08 48.92 318.83 50 318C51.08 317.17 51.83 317 53 315.5C54.17 314 56.33 310.08 57 309" fill="none" stroke="#C0302A" stroke-width="1" stroke-linejoin="round" stroke-linecap="round"/>
<path d="M109.8 346.2L113.8 350.4L123 339.9L132.1 328.1L142.6 317.7L151.8 309.8" fill="none" stroke="#1F4C84" stroke-width="1.05" stroke-linejoin="round" stroke-linecap="round"/>
<path d="M109.8 346.2L116.5 351.7L126.9 338.6L133.5 328.1L140 322.9L149.1 316.4L160.9 307.9L171.4 306.6" fill="none" stroke="#1F4C84" stroke-width="1.05" stroke-linejoin="round" stroke-linecap="round"/>
<path d="M109.8 346.2L116.5 352.2L128.2 339.9L134.8 329.4L142.6 324.2L151.8 316.4L160.9 311.2L171.4 309.2" fill="none" stroke="#1F4C84" stroke-width="1.05" stroke-linejoin="round" stroke-linecap="round"/>
<path d="M109.8 346.2L117.8 352.5L128.2 341.2L136.1 333.3L145.2 326.8L155.7 318.9L164.8 313.8L168.5 311.5" fill="none" stroke="#1F4C84" stroke-width="1.05" stroke-linejoin="round" stroke-linecap="round"/>
<path d="M109.8 346.2L119 353L128.2 342.5L138.7 338.6L147.8 332L157 324.2L164.8 317.7" fill="none" stroke="#1F4C84" stroke-width="1.05" stroke-linejoin="round" stroke-linecap="round"/>
<path d="M109.8 346.2L123 351.7L132.1 346.4L136.1 340.6L141.3 345.1L147.8 343.8L157 336L171.4 322.9" fill="none" stroke="#1F4C84" stroke-width="1.05" stroke-linejoin="round" stroke-linecap="round"/>
<path d="M109.8 346.2L117.8 353L126.9 350.4L133.5 346.4L140 341.2L153.1 326.8L168.7 312.5" fill="none" stroke="#1F4C84" stroke-width="1.05" stroke-linejoin="round" stroke-linecap="round"/>
<path d="M109.8 346.2L119 353.6L138.7 353L145.2 350.4L155.7 349.1L164.8 351L171.4 349.1" fill="none" stroke="#1F4C84" stroke-width="1.05" stroke-linejoin="round" stroke-linecap="round"/>
<path d="M109.8 346.2L125.6 353.6L137.4 345.1L149.1 341.2L160 332L171.4 323.8" fill="none" stroke="#1F4C84" stroke-width="1.05" stroke-linejoin="round" stroke-linecap="round"/>
<path d="M110 343.75C110.33 342.29 111.17 337.81 112 335C112.83 332.19 114.08 329.07 115 326.9C115.92 324.73 116.67 323.36 117.5 322C118.33 320.64 118.75 319.5 120 318.75C121.25 318 123.67 318.12 125 317.5C126.33 316.88 126.96 315.93 128 315C129.04 314.07 130.71 312.42 131.25 311.9" fill="none" stroke="#CC812D" stroke-width="1.05" stroke-linejoin="round" stroke-linecap="round"/>
<path d="M110 344C110.42 342.33 111.58 336.83 112.5 334C113.42 331.17 114.58 329.17 115.5 327C116.42 324.83 117.08 322.25 118 321C118.92 319.75 119.75 319.92 121 319.5C122.25 319.08 124.25 319.17 125.5 318.5C126.75 317.83 127.54 316.53 128.5 315.5C129.46 314.47 130.79 312.83 131.25 312.3" fill="none" stroke="#CC812D" stroke-width="1.05" stroke-linejoin="round" stroke-linecap="round"/>
<path d="M110.2 344.2C110.63 342.42 111.87 336.45 112.8 333.5C113.73 330.55 114.85 328.33 115.8 326.5C116.75 324.67 117.8 322.75 118.5 322.5C119.2 322.25 119.08 325.25 120 325C120.92 324.75 122.75 322.25 124 321C125.25 319.75 126.33 318.87 127.5 317.5C128.67 316.13 130.42 313.58 131 312.8" fill="none" stroke="#CC812D" stroke-width="1.05" stroke-linejoin="round" stroke-linecap="round"/>
<path d="M110.3 344.5C110.75 342.58 112.05 336.08 113 333C113.95 329.92 115 327.92 116 326C117 324.08 118 322.5 119 321.5C120 320.5 120.83 320.58 122 320C123.17 319.42 124.58 319.08 126 318C127.42 316.92 129.75 314.25 130.5 313.5" fill="none" stroke="#CC812D" stroke-width="1.05" stroke-linejoin="round" stroke-linecap="round"/>
<path d="M185 347.5L190 351L195 345L200 335L206 325L216.25 310" fill="none" stroke="#AABD8C" stroke-width="1.05" stroke-linejoin="round" stroke-linecap="round"/>
<path d="M185 347.5L191 351.5L197 346L203 336L210 326L218 318L226 312L228.75 308.75" fill="none" stroke="#AABD8C" stroke-width="1.05" stroke-linejoin="round" stroke-linecap="round"/>
<path d="M185 347.5L191 351.5L198 347L205 338L212 328L220 320L228.75 312" fill="none" stroke="#AABD8C" stroke-width="1.05" stroke-linejoin="round" stroke-linecap="round"/>
<path d="M185 347.5L191 352L200 348L207 340L214 331L221 323L228.75 313.75" fill="none" stroke="#AABD8C" stroke-width="1.05" stroke-linejoin="round" stroke-linecap="round"/>
<path d="M185 347.5L192 352L202 349L209 342L216 334L223 326L228 318" fill="none" stroke="#AABD8C" stroke-width="1.05" stroke-linejoin="round" stroke-linecap="round"/>
<path d="M185 347.5L192 352L203 350L211 345L218 337L225 328L228 320" fill="none" stroke="#AABD8C" stroke-width="1.05" stroke-linejoin="round" stroke-linecap="round"/>
<path d="M185 347.5L190 350L198 343L204 332L211 322L222 313L227 309" fill="none" stroke="#AABD8C" stroke-width="1.05" stroke-linejoin="round" stroke-linecap="round"/>
<path d="M184.7 343.75C185.03 342.29 185.87 337.81 186.7 335C187.53 332.19 188.78 329.07 189.7 326.9C190.62 324.73 191.37 323.36 192.2 322C193.03 320.64 193.45 319.5 194.7 318.75C195.95 318 198.37 318.12 199.7 317.5C201.03 316.88 201.66 315.93 202.7 315C203.74 314.07 205.41 312.42 205.95 311.9" fill="none" stroke="#CC812D" stroke-width="1.05" stroke-linejoin="round" stroke-linecap="round"/>
<path d="M184.7 344C185.12 342.33 186.28 336.83 187.2 334C188.12 331.17 189.28 329.17 190.2 327C191.12 324.83 191.78 322.25 192.7 321C193.62 319.75 194.45 319.92 195.7 319.5C196.95 319.08 198.95 319.17 200.2 318.5C201.45 317.83 202.24 316.53 203.2 315.5C204.16 314.47 205.49 312.83 205.95 312.3" fill="none" stroke="#CC812D" stroke-width="1.05" stroke-linejoin="round" stroke-linecap="round"/>
<path d="M184.9 344.2C185.33 342.42 186.57 336.45 187.5 333.5C188.43 330.55 189.55 328.33 190.5 326.5C191.45 324.67 192.5 322.75 193.2 322.5C193.9 322.25 193.78 325.25 194.7 325C195.62 324.75 197.45 322.25 198.7 321C199.95 319.75 201.03 318.87 202.2 317.5C203.37 316.13 205.12 313.58 205.7 312.8" fill="none" stroke="#CC812D" stroke-width="1.05" stroke-linejoin="round" stroke-linecap="round"/>
<path d="M185 344.5C185.45 342.58 186.75 336.08 187.7 333C188.65 329.92 189.7 327.92 190.7 326C191.7 324.08 192.7 322.5 193.7 321.5C194.7 320.5 195.53 320.58 196.7 320C197.87 319.42 199.28 319.08 200.7 318C202.12 316.92 204.45 314.25 205.2 313.5" fill="none" stroke="#CC812D" stroke-width="1.05" stroke-linejoin="round" stroke-linecap="round"/>
<path d="M260.4 345.8L264 349.5L267.5 351.25L272.5 345L277 335L280 327.5L282.5 317.5L288 313.5L295 310L302.5 306.25" fill="none" stroke="#38A040" stroke-width="1.05" stroke-linejoin="round" stroke-linecap="round"/>
<path d="M260.4 345.8L265 350.5L269 352L272.5 350L277.5 337.5L285 320L292 315.5L300 312.5L310 309.5L318.75 307.5" fill="none" stroke="#38A040" stroke-width="1.05" stroke-linejoin="round" stroke-linecap="round"/>
<path d="M260.4 345.8L265 350.5L270 352.5L275 350L282.5 335L292.5 322.5L302.5 312.5L310 311.5L318.75 310.5" fill="none" stroke="#38A040" stroke-width="1.05" stroke-linejoin="round" stroke-linecap="round"/>
<path d="M260.4 345.8L266 351L271 352.8L276 352L282.5 342.5L292.5 330L300 317.5" fill="none" stroke="#38A040" stroke-width="1.05" stroke-linejoin="round" stroke-linecap="round"/>
<path d="M260.4 345.8L266 351.5L272 353L277.5 351.25L287.5 335L295 327.5L302.5 321.25" fill="none" stroke="#38A040" stroke-width="1.05" stroke-linejoin="round" stroke-linecap="round"/>
<path d="M260.4 345.8L265 350L270 352L278 352.5L285 350L295 335L303.5 321" fill="none" stroke="#38A040" stroke-width="1.05" stroke-linejoin="round" stroke-linecap="round"/>
<path d="M260.4 345.8L264 349L268 351L272 349L276 340L280 330L286 322L292 318L297 314L302 311" fill="none" stroke="#38A040" stroke-width="1.05" stroke-linejoin="round" stroke-linecap="round"/>
<path d="M259.7 343.75C260.03 342.29 260.87 337.81 261.7 335C262.53 332.19 263.78 329.07 264.7 326.9C265.62 324.73 266.37 323.36 267.2 322C268.03 320.64 268.45 319.5 269.7 318.75C270.95 318 273.37 318.12 274.7 317.5C276.03 316.88 276.66 315.93 277.7 315C278.74 314.07 280.41 312.42 280.95 311.9" fill="none" stroke="#CC812D" stroke-width="1.05" stroke-linejoin="round" stroke-linecap="round"/>
<path d="M259.7 344C260.12 342.33 261.28 336.83 262.2 334C263.12 331.17 264.28 329.17 265.2 327C266.12 324.83 266.78 322.25 267.7 321C268.62 319.75 269.45 319.92 270.7 319.5C271.95 319.08 273.95 319.17 275.2 318.5C276.45 317.83 277.24 316.53 278.2 315.5C279.16 314.47 280.49 312.83 280.95 312.3" fill="none" stroke="#CC812D" stroke-width="1.05" stroke-linejoin="round" stroke-linecap="round"/>
<path d="M259.9 344.2C260.33 342.42 261.57 336.45 262.5 333.5C263.43 330.55 264.55 328.33 265.5 326.5C266.45 324.67 267.5 322.75 268.2 322.5C268.9 322.25 268.78 325.25 269.7 325C270.62 324.75 272.45 322.25 273.7 321C274.95 319.75 276.03 318.87 277.2 317.5C278.37 316.13 280.12 313.58 280.7 312.8" fill="none" stroke="#CC812D" stroke-width="1.05" stroke-linejoin="round" stroke-linecap="round"/>
<path d="M260 344.5C260.45 342.58 261.75 336.08 262.7 333C263.65 329.92 264.7 327.92 265.7 326C266.7 324.08 267.7 322.5 268.7 321.5C269.7 320.5 270.53 320.58 271.7 320C272.87 319.42 274.28 319.08 275.7 318C277.12 316.92 279.45 314.25 280.2 313.5" fill="none" stroke="#CC812D" stroke-width="1.05" stroke-linejoin="round" stroke-linecap="round"/>
<path d="M35.3 483.5C35.67 481.58 36.8 475 37.5 472C38.2 469 38.58 467.33 39.5 465.5C40.42 463.67 41.83 462.2 43 461C44.17 459.8 45.08 459.3 46.5 458.3C47.92 457.3 49.75 455.95 51.5 455C53.25 454.05 56.08 453 57 452.6" fill="none" stroke="#CC812D" stroke-width="1.05" stroke-linejoin="round" stroke-linecap="round"/>
<path d="M35.4 483.8C35.8 482 37.03 475.88 37.8 473C38.57 470.12 39.05 468.33 40 466.5C40.95 464.67 42.33 463.17 43.5 462C44.67 460.83 45.58 460.5 47 459.5C48.42 458.5 50.33 457.03 52 456C53.67 454.97 56.17 453.75 57 453.3" fill="none" stroke="#CC812D" stroke-width="1.05" stroke-linejoin="round" stroke-linecap="round"/>
<path d="M35.5 484.1C35.95 482.5 37.35 477.18 38.2 474.5C39.05 471.82 39.63 469.78 40.6 468C41.57 466.22 42.77 464.97 44 463.8C45.23 462.63 46.58 462 48 461C49.42 460 51 458.93 52.5 457.8C54 456.67 56.25 454.8 57 454.2" fill="none" stroke="#CC812D" stroke-width="1.05" stroke-linejoin="round" stroke-linecap="round"/>
<path d="M35.6 484.4C36.1 483 37.7 478.4 38.6 476C39.5 473.6 39.93 471.75 41 470C42.07 468.25 43.67 466.7 45 465.5C46.33 464.3 47.67 463.8 49 462.8C50.33 461.8 51.75 460.72 53 459.5C54.25 458.28 55.92 456.17 56.5 455.5" fill="none" stroke="#CC812D" stroke-width="1.05" stroke-linejoin="round" stroke-linecap="round"/>
<path d="M35.4 483.9C35.83 482.17 37.18 476.32 38 473.5C38.82 470.68 39.3 468.83 40.3 467C41.3 465.17 42.72 463.67 44 462.5C45.28 461.33 46.33 461.05 48 460C49.67 458.95 52.45 457.33 54 456.2C55.55 455.07 56.75 453.7 57.3 453.2" fill="none" stroke="#CC812D" stroke-width="1.05" stroke-linejoin="round" stroke-linecap="round"/>
<line x1="50.2" y1="461.9" x2="51.5" y2="465.3" stroke="#CC812D" stroke-width="0.7"/>
<path d="M35.4 483.5L38 487.5L40.8 489.5L60 489.8L96 490.3" fill="none" stroke="#BE1238" stroke-width="1.05" stroke-linejoin="round" stroke-linecap="round"/>
<path d="M35.4 483.8L38.5 488.2L41.2 490L70 490.2L96 489.9" fill="none" stroke="#BE1238" stroke-width="1.05" stroke-linejoin="round" stroke-linecap="round"/>
<path d="M35.4 483.2L38.2 487L41 489L80 489.3L96 489.5" fill="none" stroke="#BE1238" stroke-width="1.05" stroke-linejoin="round" stroke-linecap="round"/>
<path d="M35.4 483.5L38 486.5L40.8 487L46.2 484L62.3 484L75.8 476.7L86 467L96 457.2" fill="none" stroke="#BE1238" stroke-width="1.05" stroke-linejoin="round" stroke-linecap="round"/>
<path d="M35.4 483.5L40.8 489.5L56.9 489.8L66 484L75.8 478L86 470L96 463.3" fill="none" stroke="#BE1238" stroke-width="1.05" stroke-linejoin="round" stroke-linecap="round"/>
<path d="M35.4 483.5L40.8 489.5L59.6 489.8L68 483L77.1 475.4L86 470L96 465.3" fill="none" stroke="#BE1238" stroke-width="1.05" stroke-linejoin="round" stroke-linecap="round"/>
<path d="M35.4 483.5L40.8 489.5L67.7 490.2L72 483L77.1 476.7L86 476.5L96 477.4" fill="none" stroke="#BE1238" stroke-width="1.05" stroke-linejoin="round" stroke-linecap="round"/>
<path d="M35.4 483.5L40.8 489.5L70.4 490.2L77 484L83.8 478L90 473L96 469.3" fill="none" stroke="#BE1238" stroke-width="1.05" stroke-linejoin="round" stroke-linecap="round"/>
<path d="M35.4 483.5L40.8 489.5L81.1 488.8L86.5 487.5L96 488.2" fill="none" stroke="#BE1238" stroke-width="1.05" stroke-linejoin="round" stroke-linecap="round"/>
<path d="M109.6 483.5C109.97 481.58 111.1 475 111.8 472C112.5 469 112.88 467.33 113.8 465.5C114.72 463.67 116.13 462.2 117.3 461C118.47 459.8 119.38 459.3 120.8 458.3C122.22 457.3 124.05 455.95 125.8 455C127.55 454.05 130.38 453 131.3 452.6" fill="none" stroke="#CC812D" stroke-width="1.05" stroke-linejoin="round" stroke-linecap="round"/>
<path d="M109.7 483.8C110.1 482 111.33 475.88 112.1 473C112.87 470.12 113.35 468.33 114.3 466.5C115.25 464.67 116.63 463.17 117.8 462C118.97 460.83 119.88 460.5 121.3 459.5C122.72 458.5 124.63 457.03 126.3 456C127.97 454.97 130.47 453.75 131.3 453.3" fill="none" stroke="#CC812D" stroke-width="1.05" stroke-linejoin="round" stroke-linecap="round"/>
<path d="M109.8 484.1C110.25 482.5 111.65 477.18 112.5 474.5C113.35 471.82 113.93 469.78 114.9 468C115.87 466.22 117.07 464.97 118.3 463.8C119.53 462.63 120.88 462 122.3 461C123.72 460 125.3 458.93 126.8 457.8C128.3 456.67 130.55 454.8 131.3 454.2" fill="none" stroke="#CC812D" stroke-width="1.05" stroke-linejoin="round" stroke-linecap="round"/>
<path d="M109.9 484.4C110.4 483 112 478.4 112.9 476C113.8 473.6 114.23 471.75 115.3 470C116.37 468.25 117.97 466.7 119.3 465.5C120.63 464.3 121.97 463.8 123.3 462.8C124.63 461.8 126.05 460.72 127.3 459.5C128.55 458.28 130.22 456.17 130.8 455.5" fill="none" stroke="#CC812D" stroke-width="1.05" stroke-linejoin="round" stroke-linecap="round"/>
<path d="M109.7 483.9C110.13 482.17 111.48 476.32 112.3 473.5C113.12 470.68 113.6 468.83 114.6 467C115.6 465.17 117.02 463.67 118.3 462.5C119.58 461.33 120.63 461.05 122.3 460C123.97 458.95 126.75 457.33 128.3 456.2C129.85 455.07 131.05 453.7 131.6 453.2" fill="none" stroke="#CC812D" stroke-width="1.05" stroke-linejoin="round" stroke-linecap="round"/>
<path d="M109.9 483.3C110.27 481.38 111.4 474.8 112.1 471.8C112.8 468.8 113.18 467.13 114.1 465.3C115.02 463.47 116.43 462 117.6 460.8C118.77 459.6 119.68 459.1 121.1 458.1C122.52 457.1 124.35 455.75 126.1 454.8C127.85 453.85 130.68 452.8 131.6 452.4" fill="none" stroke="#5A4A40" stroke-width="0.6" stroke-linejoin="round" stroke-linecap="round"/>
<path d="M110 484.3C110.4 482.5 111.63 476.38 112.4 473.5C113.17 470.62 113.65 468.83 114.6 467C115.55 465.17 116.93 463.67 118.1 462.5C119.27 461.33 120.18 461 121.6 460C123.02 459 124.93 457.53 126.6 456.5C128.27 455.47 130.77 454.25 131.6 453.8" fill="none" stroke="#5A4A40" stroke-width="0.6" stroke-linejoin="round" stroke-linecap="round"/>
<path d="M110.1 483.9C110.55 482.3 111.95 476.98 112.8 474.3C113.65 471.62 114.23 469.58 115.2 467.8C116.17 466.02 117.37 464.77 118.6 463.6C119.83 462.43 121.18 461.8 122.6 460.8C124.02 459.8 125.6 458.73 127.1 457.6C128.6 456.47 130.85 454.6 131.6 454" fill="none" stroke="#5A4A40" stroke-width="0.6" stroke-linejoin="round" stroke-linecap="round"/>
<line x1="124.5" y1="461.9" x2="125.8" y2="465.3" stroke="#555" stroke-width="0.7"/>
<path d="M185.4 486.8L188 489L190.8 489.5L245.9 490.2" fill="none" stroke="#AABD8C" stroke-width="1.05" stroke-linejoin="round" stroke-linecap="round"/>
<path d="M185.4 486.8L188 489.2L191 490L245.9 490.6" fill="none" stroke="#AABD8C" stroke-width="1.05" stroke-linejoin="round" stroke-linecap="round"/>
<path d="M185.4 486.8L188 488.8L190.8 488.2L201.5 482.1L206.9 481.4L222 473.5L236.5 467.3" fill="none" stroke="#AABD8C" stroke-width="1.05" stroke-linejoin="round" stroke-linecap="round"/>
<path d="M185.4 486.8L190 489L196.2 488.8L206.9 480.8L212.3 466L223.1 456.5L228.5 448.5" fill="none" stroke="#AABD8C" stroke-width="1.05" stroke-linejoin="round" stroke-linecap="round"/>
<path d="M185.4 486.8L190 489L204.2 488.8L212.3 475.4L224.4 463.3L235 456L243.3 450.5" fill="none" stroke="#AABD8C" stroke-width="1.05" stroke-linejoin="round" stroke-linecap="round"/>
<path d="M185.4 486.8L190 489L206.9 488.8L215 471.3L220.4 467.3L226 462L236.5 457" fill="none" stroke="#AABD8C" stroke-width="1.05" stroke-linejoin="round" stroke-linecap="round"/>
<path d="M185.4 486.8L190 489L216.3 486.8L224.4 474L235.2 463.3L240.6 461.9L245.9 460.6" fill="none" stroke="#AABD8C" stroke-width="1.05" stroke-linejoin="round" stroke-linecap="round"/>
<path d="M185.4 486.8L190 489L224.4 488.8L232.5 475.4L238 467L243.3 462" fill="none" stroke="#AABD8C" stroke-width="1.05" stroke-linejoin="round" stroke-linecap="round"/>
<path d="M184.3 483.5C184.67 481.58 185.8 475 186.5 472C187.2 469 187.58 467.33 188.5 465.5C189.42 463.67 190.83 462.2 192 461C193.17 459.8 194.08 459.3 195.5 458.3C196.92 457.3 198.75 455.95 200.5 455C202.25 454.05 205.08 453 206 452.6" fill="none" stroke="#CC812D" stroke-width="1.05" stroke-linejoin="round" stroke-linecap="round"/>
<path d="M184.4 483.8C184.8 482 186.03 475.88 186.8 473C187.57 470.12 188.05 468.33 189 466.5C189.95 464.67 191.33 463.17 192.5 462C193.67 460.83 194.58 460.5 196 459.5C197.42 458.5 199.33 457.03 201 456C202.67 454.97 205.17 453.75 206 453.3" fill="none" stroke="#CC812D" stroke-width="1.05" stroke-linejoin="round" stroke-linecap="round"/>
<path d="M184.5 484.1C184.95 482.5 186.35 477.18 187.2 474.5C188.05 471.82 188.63 469.78 189.6 468C190.57 466.22 191.77 464.97 193 463.8C194.23 462.63 195.58 462 197 461C198.42 460 200 458.93 201.5 457.8C203 456.67 205.25 454.8 206 454.2" fill="none" stroke="#CC812D" stroke-width="1.05" stroke-linejoin="round" stroke-linecap="round"/>
<path d="M184.6 484.4C185.1 483 186.7 478.4 187.6 476C188.5 473.6 188.93 471.75 190 470C191.07 468.25 192.67 466.7 194 465.5C195.33 464.3 196.67 463.8 198 462.8C199.33 461.8 200.75 460.72 202 459.5C203.25 458.28 204.92 456.17 205.5 455.5" fill="none" stroke="#CC812D" stroke-width="1.05" stroke-linejoin="round" stroke-linecap="round"/>
<path d="M184.4 483.9C184.83 482.17 186.18 476.32 187 473.5C187.82 470.68 188.3 468.83 189.3 467C190.3 465.17 191.72 463.67 193 462.5C194.28 461.33 195.33 461.05 197 460C198.67 458.95 201.45 457.33 203 456.2C204.55 455.07 205.75 453.7 206.3 453.2" fill="none" stroke="#CC812D" stroke-width="1.05" stroke-linejoin="round" stroke-linecap="round"/>
<line x1="199.2" y1="461.9" x2="200.5" y2="465.3" stroke="#CC812D" stroke-width="0.7"/>
<path d="M260.4 482.1L263 486L265.8 488.2L290 489.8L320.9 490.2" fill="none" stroke="#38A040" stroke-width="1.05" stroke-linejoin="round" stroke-linecap="round"/>
<path d="M260.4 482.4L263 486.5L266 489L300 490.3L320.9 490.6" fill="none" stroke="#38A040" stroke-width="1.05" stroke-linejoin="round" stroke-linecap="round"/>
<path d="M260.4 481.8L263 485.5L265.8 487.5L271 487.3L276.5 489.8L320.9 489.6" fill="none" stroke="#38A040" stroke-width="1.05" stroke-linejoin="round" stroke-linecap="round"/>
<path d="M260.4 482.1L265.8 488.2L291.3 486.1L296 476L302.1 466L311.5 451.2" fill="none" stroke="#38A040" stroke-width="1.05" stroke-linejoin="round" stroke-linecap="round"/>
<path d="M260.4 482.1L265.8 488.2L294 484.8L298 476L302.1 467.3L311 461L320.9 455.2" fill="none" stroke="#38A040" stroke-width="1.05" stroke-linejoin="round" stroke-linecap="round"/>
<path d="M260.4 482.1L265.8 488.2L292.7 486.1L303.5 474" fill="none" stroke="#38A040" stroke-width="1.05" stroke-linejoin="round" stroke-linecap="round"/>
<path d="M260.4 482.1L265.8 488.2L295.4 486.1L303.5 482.1L312 476L320.9 469.3" fill="none" stroke="#38A040" stroke-width="1.05" stroke-linejoin="round" stroke-linecap="round"/>
<path d="M260.4 482.1L265.8 488.2L303.5 484.8L312.9 473.4L320.9 487.5" fill="none" stroke="#38A040" stroke-width="1.05" stroke-linejoin="round" stroke-linecap="round"/>
<path d="M280 489.3L287 486.9L294 489" fill="none" stroke="#38A040" stroke-width="1.05" stroke-linejoin="round" stroke-linecap="round"/>
<path d="M259.3 483.5C259.67 481.58 260.8 475 261.5 472C262.2 469 262.58 467.33 263.5 465.5C264.42 463.67 265.83 462.2 267 461C268.17 459.8 269.08 459.3 270.5 458.3C271.92 457.3 273.75 455.95 275.5 455C277.25 454.05 280.08 453 281 452.6" fill="none" stroke="#CC812D" stroke-width="1.05" stroke-linejoin="round" stroke-linecap="round"/>
<path d="M259.4 483.8C259.8 482 261.03 475.88 261.8 473C262.57 470.12 263.05 468.33 264 466.5C264.95 464.67 266.33 463.17 267.5 462C268.67 460.83 269.58 460.5 271 459.5C272.42 458.5 274.33 457.03 276 456C277.67 454.97 280.17 453.75 281 453.3" fill="none" stroke="#CC812D" stroke-width="1.05" stroke-linejoin="round" stroke-linecap="round"/>
<path d="M259.5 484.1C259.95 482.5 261.35 477.18 262.2 474.5C263.05 471.82 263.63 469.78 264.6 468C265.57 466.22 266.77 464.97 268 463.8C269.23 462.63 270.58 462 272 461C273.42 460 275 458.93 276.5 457.8C278 456.67 280.25 454.8 281 454.2" fill="none" stroke="#CC812D" stroke-width="1.05" stroke-linejoin="round" stroke-linecap="round"/>
<path d="M259.6 484.4C260.1 483 261.7 478.4 262.6 476C263.5 473.6 263.93 471.75 265 470C266.07 468.25 267.67 466.7 269 465.5C270.33 464.3 271.67 463.8 273 462.8C274.33 461.8 275.75 460.72 277 459.5C278.25 458.28 279.92 456.17 280.5 455.5" fill="none" stroke="#CC812D" stroke-width="1.05" stroke-linejoin="round" stroke-linecap="round"/>
<path d="M259.4 483.9C259.83 482.17 261.18 476.32 262 473.5C262.82 470.68 263.3 468.83 264.3 467C265.3 465.17 266.72 463.67 268 462.5C269.28 461.33 270.33 461.05 272 460C273.67 458.95 276.45 457.33 278 456.2C279.55 455.07 280.75 453.7 281.3 453.2" fill="none" stroke="#CC812D" stroke-width="1.05" stroke-linejoin="round" stroke-linecap="round"/>
<line x1="274.2" y1="461.9" x2="275.5" y2="465.3" stroke="#CC812D" stroke-width="0.7"/>
<line x1="366" y1="38.5" x2="366" y2="98.85" stroke="#1e1e1e" stroke-width="1.15"/>
<line x1="362.8" y1="43.8" x2="366" y2="43.8" stroke="#1e1e1e" stroke-width="0.9"/>
<text x="361.1" y="46.1" font-size="6.4" fill="#2a2a2a" stroke="#2a2a2a" stroke-width="0.14" text-anchor="end" textLength="10.5" lengthAdjust="spacingAndGlyphs">100</text>
<line x1="362.8" y1="71.1" x2="366" y2="71.1" stroke="#1e1e1e" stroke-width="0.9"/>
<text x="361.1" y="73.4" font-size="6.4" fill="#2a2a2a" stroke="#2a2a2a" stroke-width="0.14" text-anchor="end" textLength="7" lengthAdjust="spacingAndGlyphs">50</text>
<line x1="362.8" y1="98.3" x2="366" y2="98.3" stroke="#1e1e1e" stroke-width="0.9"/>
<text x="361.1" y="100.6" font-size="6.4" fill="#2a2a2a" stroke="#2a2a2a" stroke-width="0.14" text-anchor="end" textLength="3.5" lengthAdjust="spacingAndGlyphs">0</text>
<line x1="365.45" y1="98.3" x2="440" y2="98.3" stroke="#1e1e1e" stroke-width="1.15"/>
<line x1="366" y1="98.3" x2="366" y2="101.5" stroke="#1e1e1e" stroke-width="0.9"/>
<text x="366" y="107.9" font-size="6.4" fill="#2a2a2a" stroke="#2a2a2a" stroke-width="0.14" text-anchor="middle" textLength="3.5" lengthAdjust="spacingAndGlyphs">0</text>
<line x1="402" y1="98.3" x2="402" y2="101.5" stroke="#1e1e1e" stroke-width="0.9"/>
<text x="402" y="107.9" font-size="6.4" fill="#2a2a2a" stroke="#2a2a2a" stroke-width="0.14" text-anchor="middle" textLength="7" lengthAdjust="spacingAndGlyphs">50</text>
<line x1="438" y1="98.3" x2="438" y2="101.5" stroke="#1e1e1e" stroke-width="0.9"/>
<text x="438" y="107.9" font-size="6.4" fill="#2a2a2a" stroke="#2a2a2a" stroke-width="0.14" text-anchor="middle" textLength="10.5" lengthAdjust="spacingAndGlyphs">100</text>
<line x1="384" y1="98.3" x2="384" y2="100.3" stroke="#1e1e1e" stroke-width="0.8"/>
<line x1="420" y1="98.3" x2="420" y2="100.3" stroke="#1e1e1e" stroke-width="0.8"/>
<text x="343.4" y="72.05" font-size="7.8" fill="#2a2a2a" stroke="#2a2a2a" stroke-width="0.25" text-anchor="middle" textLength="23.6" lengthAdjust="spacingAndGlyphs" transform="rotate(-90 343.4 72.05)">% survival</text>
<text x="373.5" y="119.6" font-size="7.4" fill="#2a2a2a" stroke="#2a2a2a" stroke-width="0.3" textLength="59" lengthAdjust="spacingAndGlyphs">Days post T cell infusion</text>
<path d="M366 43.8H437.9V43.8" fill="none" stroke="#AABD8C" stroke-width="0.9"/>
<path d="M366 43.8H414.7V48H437.9V48" fill="none" stroke="#38A040" stroke-width="0.9"/>
<path d="M366 43.8H411.2V52.5H419V56.5H420.4V71.3H425.8V75.4H437.9V75.4" fill="none" stroke="#521C6C" stroke-width="0.9"/>
<path d="M366 43.8H410.3V48.5H411.6V52.5H415.7V56.5H419.7V67H427.8V75.4H437.9V75.4" fill="none" stroke="#BE1238" stroke-width="0.9"/>
<path d="M366 43.8H388.3V52.5H392.8V98.3" fill="none" stroke="#D09A45" stroke-width="0.9"/>
<line x1="446.6" y1="51.1" x2="450.6" y2="51.1" stroke="#D09A45" stroke-width="0.9"/>
<circle cx="448.6" cy="51.1" r="0.7" fill="#D09A45"/>
<text x="456.2" y="53.1" font-size="5.7" fill="#2a2a2a" stroke="#2a2a2a" stroke-width="0.14" textLength="31" lengthAdjust="spacingAndGlyphs">Mock T cells</text>
<line x1="446.6" y1="59.68" x2="450.6" y2="59.68" stroke="#BE1238" stroke-width="0.9"/>
<circle cx="448.6" cy="59.68" r="0.7" fill="#BE1238"/>
<text x="456.2" y="61.68" font-size="5.7" fill="#2a2a2a" stroke="#2a2a2a" stroke-width="0.14" textLength="14.5" lengthAdjust="spacingAndGlyphs">CD19</text>
<line x1="446.6" y1="68.26" x2="450.6" y2="68.26" stroke="#AABD8C" stroke-width="0.9"/>
<circle cx="448.6" cy="68.26" r="0.7" fill="#AABD8C"/>
<text x="456.2" y="70.26" font-size="5.7" fill="#2a2a2a" stroke="#2a2a2a" stroke-width="0.14" textLength="29" lengthAdjust="spacingAndGlyphs">tCD79a_19</text>
<line x1="446.6" y1="76.84" x2="450.6" y2="76.84" stroke="#38A040" stroke-width="0.9"/>
<circle cx="448.6" cy="76.84" r="0.7" fill="#38A040"/>
<text x="456.2" y="78.84" font-size="5.7" fill="#2a2a2a" stroke="#2a2a2a" stroke-width="0.14" textLength="29.5" lengthAdjust="spacingAndGlyphs">bCD79a_19</text>
<line x1="446.6" y1="85.42" x2="450.6" y2="85.42" stroke="#521C6C" stroke-width="0.9"/>
<circle cx="448.6" cy="85.42" r="0.7" fill="#521C6C"/>
<text x="456.2" y="87.42" font-size="5.7" fill="#2a2a2a" stroke="#2a2a2a" stroke-width="0.14" textLength="40.5" lengthAdjust="spacingAndGlyphs">CD19 + CD79a</text>
<path d="M491.3 59.7 H492.5 V68.8 H491.3" fill="none" stroke="#1e1e1e" stroke-width="0.8"/>
<path d="M497.4 59.7 H498.6 V77.3 H497.4" fill="none" stroke="#1e1e1e" stroke-width="0.8"/>
<path d="M502.3 59.7 H503.5 V85.7 H502.3" fill="none" stroke="#1e1e1e" stroke-width="0.8"/>
<path d="M507.1 69.8 H508.3 V86 H507.1" fill="none" stroke="#1e1e1e" stroke-width="0.8"/>
<path d="M512.2 77.3 H513.4 V86 H512.2" fill="none" stroke="#1e1e1e" stroke-width="0.8"/>
<text x="504.9" y="67.6" font-size="5.6" fill="#2a2a2a" stroke="#2a2a2a" stroke-width="0.1" textLength="5.6" lengthAdjust="spacingAndGlyphs">ns</text>
<line x1="365.75" y1="288.75" x2="365.75" y2="355.85" stroke="#1e1e1e" stroke-width="1.15"/>
<line x1="362.55" y1="295.3" x2="365.75" y2="295.3" stroke="#1e1e1e" stroke-width="0.9"/>
<text x="360.85" y="297.6" font-size="6.4" fill="#2a2a2a" stroke="#2a2a2a" stroke-width="0.14" text-anchor="end" textLength="10.5" lengthAdjust="spacingAndGlyphs">100</text>
<line x1="362.55" y1="325.3" x2="365.75" y2="325.3" stroke="#1e1e1e" stroke-width="0.9"/>
<text x="360.85" y="327.6" font-size="6.4" fill="#2a2a2a" stroke="#2a2a2a" stroke-width="0.14" text-anchor="end" textLength="7" lengthAdjust="spacingAndGlyphs">50</text>
<line x1="362.55" y1="355.3" x2="365.75" y2="355.3" stroke="#1e1e1e" stroke-width="0.9"/>
<text x="360.85" y="357.6" font-size="6.4" fill="#2a2a2a" stroke="#2a2a2a" stroke-width="0.14" text-anchor="end" textLength="3.5" lengthAdjust="spacingAndGlyphs">0</text>
<line x1="365.2" y1="355.3" x2="448" y2="355.3" stroke="#1e1e1e" stroke-width="1.15"/>
<line x1="365.75" y1="355.3" x2="365.75" y2="358.5" stroke="#1e1e1e" stroke-width="0.9"/>
<text x="365.75" y="364.9" font-size="6.4" fill="#2a2a2a" stroke="#2a2a2a" stroke-width="0.14" text-anchor="middle" textLength="3.5" lengthAdjust="spacingAndGlyphs">0</text>
<line x1="384.5" y1="355.3" x2="384.5" y2="358.5" stroke="#1e1e1e" stroke-width="0.9"/>
<text x="384.5" y="364.9" font-size="6.4" fill="#2a2a2a" stroke="#2a2a2a" stroke-width="0.14" text-anchor="middle" textLength="7" lengthAdjust="spacingAndGlyphs">25</text>
<line x1="403.25" y1="355.3" x2="403.25" y2="358.5" stroke="#1e1e1e" stroke-width="0.9"/>
<text x="403.25" y="364.9" font-size="6.4" fill="#2a2a2a" stroke="#2a2a2a" stroke-width="0.14" text-anchor="middle" textLength="7" lengthAdjust="spacingAndGlyphs">50</text>
<line x1="422" y1="355.3" x2="422" y2="358.5" stroke="#1e1e1e" stroke-width="0.9"/>
<text x="422" y="364.9" font-size="6.4" fill="#2a2a2a" stroke="#2a2a2a" stroke-width="0.14" text-anchor="middle" textLength="7" lengthAdjust="spacingAndGlyphs">75</text>
<line x1="440.75" y1="355.3" x2="440.75" y2="358.5" stroke="#1e1e1e" stroke-width="0.9"/>
<text x="440.75" y="364.9" font-size="6.4" fill="#2a2a2a" stroke="#2a2a2a" stroke-width="0.14" text-anchor="middle" textLength="10.5" lengthAdjust="spacingAndGlyphs">100</text>
<text x="343.4" y="326.3" font-size="7.8" fill="#2a2a2a" stroke="#2a2a2a" stroke-width="0.25" text-anchor="middle" textLength="23.6" lengthAdjust="spacingAndGlyphs" transform="rotate(-90 343.4 326.3)">% survival</text>
<text x="377.5" y="376.3" font-size="7.4" fill="#2a2a2a" stroke="#2a2a2a" stroke-width="0.3" textLength="59" lengthAdjust="spacingAndGlyphs">Days post T cell infusion</text>
<path d="M365.75 295.3H401.3V300.8H407.8V307H412.4V355.3" fill="none" stroke="#AABD8C" stroke-width="0.9"/>
<path d="M365.75 295.3H411V308H416.5V327.5H423V334.3H426.7V341.4H429V347.5H432.2V355.3" fill="none" stroke="#38A040" stroke-width="0.9"/>
<path d="M365.75 295.3H385V321.8H389V355.3" fill="none" stroke="#BE1238" stroke-width="0.9"/>
<path d="M365.75 295.3H410.75V301.3H418V307H430.4V311H431.3V314.2H432.2V320.6H434.2V323.8H435.7V334.3H442.6V340.7H448.3V340.7" fill="none" stroke="#3A5878" stroke-width="0.9"/>
<path d="M365.75 295.3H385V312H389V355.3" fill="none" stroke="#222" stroke-width="0.9"/>
<line x1="385" y1="295.3" x2="385" y2="312" stroke="#8A1A2A" stroke-width="0.9"/>
<line x1="413.7" y1="323.2" x2="432.5" y2="323.2" stroke="#111" stroke-width="0.85"/>
<path d="M412.9 323.2 l1.6 -0.9 v1.8z M433.3 323.2 l-1.6 -0.9 v1.8z" fill="#1e1e1e"/>
<line x1="414.8" y1="340.2" x2="424.9" y2="340.2" stroke="#111" stroke-width="0.85"/>
<path d="M414 340.2 l1.6 -0.9 v1.8z M425.7 340.2 l-1.6 -0.9 v1.8z" fill="#1e1e1e"/>
<line x1="430.2" y1="340.2" x2="440.8" y2="340.2" stroke="#111" stroke-width="0.85"/>
<path d="M429.4 340.2 l1.6 -0.9 v1.8z M441.6 340.2 l-1.6 -0.9 v1.8z" fill="#1e1e1e"/>
<line x1="455" y1="303.1" x2="461.5" y2="303.1" stroke="#222" stroke-width="1"/>
<circle cx="458.25" cy="303.1" r="0.6" fill="#222"/>
<text x="465" y="305.1" font-size="5.7" fill="#2a2a2a" stroke="#2a2a2a" stroke-width="0.08" textLength="31" lengthAdjust="spacingAndGlyphs">Mock T cells</text>
<line x1="455" y1="312.62" x2="461.5" y2="312.62" stroke="#BE1238" stroke-width="1"/>
<circle cx="458.25" cy="312.62" r="0.6" fill="#BE1238"/>
<text x="465" y="314.62" font-size="5.7" fill="#2a2a2a" stroke="#2a2a2a" stroke-width="0.08" textLength="14.5" lengthAdjust="spacingAndGlyphs">CD19</text>
<line x1="455" y1="322.14" x2="461.5" y2="322.14" stroke="#3A5878" stroke-width="1"/>
<circle cx="458.25" cy="322.14" r="0.6" fill="#3A5878"/>
<text x="465" y="324.14" font-size="5.7" fill="#2a2a2a" stroke="#2a2a2a" stroke-width="0.08" textLength="17.5" lengthAdjust="spacingAndGlyphs">CD79a</text>
<line x1="455" y1="331.66" x2="461.5" y2="331.66" stroke="#AABD8C" stroke-width="1"/>
<circle cx="458.25" cy="331.66" r="0.6" fill="#AABD8C"/>
<text x="465" y="333.66" font-size="5.7" fill="#2a2a2a" stroke="#2a2a2a" stroke-width="0.08" textLength="29" lengthAdjust="spacingAndGlyphs">tCD79a_19</text>
<line x1="455" y1="341.18" x2="461.5" y2="341.18" stroke="#38A040" stroke-width="1"/>
<circle cx="458.25" cy="341.18" r="0.6" fill="#38A040"/>
<text x="465" y="343.18" font-size="5.7" fill="#2a2a2a" stroke="#2a2a2a" stroke-width="0.08" textLength="30" lengthAdjust="spacingAndGlyphs">bCD19_79a</text>
<line x1="365.75" y1="426.25" x2="365.75" y2="492.85" stroke="#1e1e1e" stroke-width="1.15"/>
<line x1="362.55" y1="432.35" x2="365.75" y2="432.35" stroke="#1e1e1e" stroke-width="0.9"/>
<text x="360.85" y="434.65" font-size="6.4" fill="#2a2a2a" stroke="#2a2a2a" stroke-width="0.14" text-anchor="end" textLength="10.5" lengthAdjust="spacingAndGlyphs">100</text>
<line x1="362.55" y1="462.3" x2="365.75" y2="462.3" stroke="#1e1e1e" stroke-width="0.9"/>
<text x="360.85" y="464.6" font-size="6.4" fill="#2a2a2a" stroke="#2a2a2a" stroke-width="0.14" text-anchor="end" textLength="7" lengthAdjust="spacingAndGlyphs">50</text>
<line x1="362.55" y1="492.3" x2="365.75" y2="492.3" stroke="#1e1e1e" stroke-width="0.9"/>
<text x="360.85" y="494.6" font-size="6.4" fill="#2a2a2a" stroke="#2a2a2a" stroke-width="0.14" text-anchor="end" textLength="3.5" lengthAdjust="spacingAndGlyphs">0</text>
<line x1="365.2" y1="492.3" x2="448" y2="492.3" stroke="#1e1e1e" stroke-width="1.15"/>
<line x1="365.75" y1="492.3" x2="365.75" y2="495.5" stroke="#1e1e1e" stroke-width="0.9"/>
<text x="365.75" y="501.9" font-size="6.4" fill="#2a2a2a" stroke="#2a2a2a" stroke-width="0.14" text-anchor="middle" textLength="3.5" lengthAdjust="spacingAndGlyphs">0</text>
<line x1="384.5" y1="492.3" x2="384.5" y2="495.5" stroke="#1e1e1e" stroke-width="0.9"/>
<text x="384.5" y="501.9" font-size="6.4" fill="#2a2a2a" stroke="#2a2a2a" stroke-width="0.14" text-anchor="middle" textLength="7" lengthAdjust="spacingAndGlyphs">25</text>
<line x1="403.25" y1="492.3" x2="403.25" y2="495.5" stroke="#1e1e1e" stroke-width="0.9"/>
<text x="403.25" y="501.9" font-size="6.4" fill="#2a2a2a" stroke="#2a2a2a" stroke-width="0.14" text-anchor="middle" textLength="7" lengthAdjust="spacingAndGlyphs">50</text>
<line x1="422" y1="492.3" x2="422" y2="495.5" stroke="#1e1e1e" stroke-width="0.9"/>
<text x="422" y="501.9" font-size="6.4" fill="#2a2a2a" stroke="#2a2a2a" stroke-width="0.14" text-anchor="middle" textLength="7" lengthAdjust="spacingAndGlyphs">75</text>
<line x1="440.75" y1="492.3" x2="440.75" y2="495.5" stroke="#1e1e1e" stroke-width="0.9"/>
<text x="440.75" y="501.9" font-size="6.4" fill="#2a2a2a" stroke="#2a2a2a" stroke-width="0.14" text-anchor="middle" textLength="10.5" lengthAdjust="spacingAndGlyphs">100</text>
<text x="343.4" y="463.33" font-size="7.8" fill="#2a2a2a" stroke="#2a2a2a" stroke-width="0.25" text-anchor="middle" textLength="23.6" lengthAdjust="spacingAndGlyphs" transform="rotate(-90 343.4 463.33)">% survival</text>
<text x="377.5" y="513.6" font-size="7.4" fill="#2a2a2a" stroke="#2a2a2a" stroke-width="0.3" textLength="59" lengthAdjust="spacingAndGlyphs">Days post T cell infusion</text>
<path d="M365.75 432.35H412.4V443H427.9V447.9H430.4V454.4H432.3V457.7H433.6V465H447V465" fill="none" stroke="#AABD8C" stroke-width="0.9"/>
<path d="M365.75 432.35H422.2V437.25H427.9V441.3H435.25V446.25H447V446.25" fill="none" stroke="#38A040" stroke-width="0.9"/>
<path d="M365.75 432.35H438.5V437.25H441.8V437.25H446.7V443H447.5V443" fill="none" stroke="#BE1238" stroke-width="0.9"/>
<path d="M365.75 432.35H385.4V467.5H388V467.5" fill="none" stroke="#3A5878" stroke-width="0.9"/>
<path d="M365.75 432.35H384.6V459H389.5V480.5H391V492.2" fill="none" stroke="#222" stroke-width="0.9"/>
<path d="M365.75 432.35H381.3V435.6H382.6V439.7H385.2V459H389.5V462H390.5V492.2" fill="none" stroke="#D8A458" stroke-width="0.9"/>
<rect x="389" y="478.8" width="2.2" height="2.2" fill="none" stroke="#222" stroke-width="0.6"/>
<path d="M435.8 447.9 H437 V463.4 H435.8" fill="none" stroke="#1e1e1e" stroke-width="0.6"/>
<path d="M446.3 447 H447.5 V463.4 H446.3" fill="none" stroke="#1e1e1e" stroke-width="0.6"/>
<text x="433.8" y="456.6" font-size="3.6" fill="#2a2a2a" stroke="#2a2a2a" stroke-width="0.14" text-anchor="middle">ns</text>
<text x="439" y="445" font-size="3.2" fill="#2a2a2a" stroke="#2a2a2a" stroke-width="0.14" text-anchor="middle">ns</text>
<line x1="455" y1="440.3" x2="461.5" y2="440.3" stroke="#222" stroke-width="1"/>
<circle cx="458.25" cy="440.3" r="0.6" fill="#222"/>
<text x="465" y="442.3" font-size="5.7" fill="#2a2a2a" stroke="#2a2a2a" stroke-width="0.08" textLength="31" lengthAdjust="spacingAndGlyphs">Mock T cells</text>
<line x1="455" y1="449.85" x2="461.5" y2="449.85" stroke="#BE1238" stroke-width="1"/>
<circle cx="458.25" cy="449.85" r="0.6" fill="#BE1238"/>
<text x="465" y="451.85" font-size="5.7" fill="#2a2a2a" stroke="#2a2a2a" stroke-width="0.08" textLength="14.5" lengthAdjust="spacingAndGlyphs">CD19</text>
<line x1="455" y1="459.4" x2="461.5" y2="459.4" stroke="#3A5878" stroke-width="1"/>
<circle cx="458.25" cy="459.4" r="0.6" fill="#3A5878"/>
<text x="465" y="461.4" font-size="5.7" fill="#2a2a2a" stroke="#2a2a2a" stroke-width="0.08" textLength="17.5" lengthAdjust="spacingAndGlyphs">CD79a</text>
<line x1="455" y1="468.95" x2="461.5" y2="468.95" stroke="#AABD8C" stroke-width="1"/>
<circle cx="458.25" cy="468.95" r="0.6" fill="#AABD8C"/>
<text x="465" y="470.95" font-size="5.7" fill="#2a2a2a" stroke="#2a2a2a" stroke-width="0.08" textLength="29" lengthAdjust="spacingAndGlyphs">tCD79a_19</text>
<line x1="455" y1="478.5" x2="461.5" y2="478.5" stroke="#38A040" stroke-width="1"/>
<circle cx="458.25" cy="478.5" r="0.6" fill="#38A040"/>
<text x="465" y="480.5" font-size="5.7" fill="#2a2a2a" stroke="#2a2a2a" stroke-width="0.08" textLength="30" lengthAdjust="spacingAndGlyphs">bCD19_79a</text>
<line x1="32.2" y1="153.5" x2="32.2" y2="218.45" stroke="#1e1e1e" stroke-width="1.15"/>
<line x1="29.2" y1="217.9" x2="32.2" y2="217.9" stroke="#1e1e1e" stroke-width="0.9"/>
<text x="27.6" y="220.1" font-size="6.2" fill="#2a2a2a" stroke="#2a2a2a" stroke-width="0.14" text-anchor="end" textLength="3.4" lengthAdjust="spacingAndGlyphs">0</text>
<line x1="29.2" y1="197.2" x2="32.2" y2="197.2" stroke="#1e1e1e" stroke-width="0.9"/>
<text x="27.6" y="199.4" font-size="6.2" fill="#2a2a2a" stroke="#2a2a2a" stroke-width="0.14" text-anchor="end" textLength="3.4" lengthAdjust="spacingAndGlyphs">2</text>
<line x1="29.2" y1="176.5" x2="32.2" y2="176.5" stroke="#1e1e1e" stroke-width="0.9"/>
<text x="27.6" y="178.7" font-size="6.2" fill="#2a2a2a" stroke="#2a2a2a" stroke-width="0.14" text-anchor="end" textLength="3.4" lengthAdjust="spacingAndGlyphs">4</text>
<line x1="29.2" y1="155.8" x2="32.2" y2="155.8" stroke="#1e1e1e" stroke-width="0.9"/>
<text x="27.6" y="158" font-size="6.2" fill="#2a2a2a" stroke="#2a2a2a" stroke-width="0.14" text-anchor="end" textLength="3.4" lengthAdjust="spacingAndGlyphs">6</text>
<line x1="31.65" y1="217.9" x2="100" y2="217.9" stroke="#1e1e1e" stroke-width="1.15"/>
<line x1="32.9" y1="217.9" x2="32.9" y2="220.5" stroke="#1e1e1e" stroke-width="0.9"/>
<text x="32.9" y="227.3" font-size="6.2" fill="#2a2a2a" stroke="#2a2a2a" stroke-width="0.14" text-anchor="middle" textLength="11.7" lengthAdjust="spacingAndGlyphs">0.01</text>
<line x1="54.7" y1="217.9" x2="54.7" y2="220.5" stroke="#1e1e1e" stroke-width="0.9"/>
<text x="54.7" y="227.3" font-size="6.2" fill="#2a2a2a" stroke="#2a2a2a" stroke-width="0.14" text-anchor="middle" textLength="8.3" lengthAdjust="spacingAndGlyphs">0.1</text>
<line x1="76.5" y1="217.9" x2="76.5" y2="220.5" stroke="#1e1e1e" stroke-width="0.9"/>
<text x="76.5" y="227.3" font-size="6.2" fill="#2a2a2a" stroke="#2a2a2a" stroke-width="0.14" text-anchor="middle" textLength="3.4" lengthAdjust="spacingAndGlyphs">1</text>
<line x1="98.3" y1="217.9" x2="98.3" y2="220.5" stroke="#1e1e1e" stroke-width="0.9"/>
<text x="98.3" y="227.3" font-size="6.2" fill="#2a2a2a" stroke="#2a2a2a" stroke-width="0.14" text-anchor="middle" textLength="6.8" lengthAdjust="spacingAndGlyphs">10</text>
<line x1="39.46" y1="217.9" x2="39.46" y2="219.5" stroke="#1e1e1e" stroke-width="0.6"/>
<line x1="43.3" y1="217.9" x2="43.3" y2="219.5" stroke="#1e1e1e" stroke-width="0.6"/>
<line x1="46.02" y1="217.9" x2="46.02" y2="219.5" stroke="#1e1e1e" stroke-width="0.6"/>
<line x1="48.14" y1="217.9" x2="48.14" y2="219.5" stroke="#1e1e1e" stroke-width="0.6"/>
<line x1="49.86" y1="217.9" x2="49.86" y2="219.5" stroke="#1e1e1e" stroke-width="0.6"/>
<line x1="51.32" y1="217.9" x2="51.32" y2="219.5" stroke="#1e1e1e" stroke-width="0.6"/>
<line x1="52.59" y1="217.9" x2="52.59" y2="219.5" stroke="#1e1e1e" stroke-width="0.6"/>
<line x1="53.7" y1="217.9" x2="53.7" y2="219.5" stroke="#1e1e1e" stroke-width="0.6"/>
<line x1="61.26" y1="217.9" x2="61.26" y2="219.5" stroke="#1e1e1e" stroke-width="0.6"/>
<line x1="65.1" y1="217.9" x2="65.1" y2="219.5" stroke="#1e1e1e" stroke-width="0.6"/>
<line x1="67.82" y1="217.9" x2="67.82" y2="219.5" stroke="#1e1e1e" stroke-width="0.6"/>
<line x1="69.94" y1="217.9" x2="69.94" y2="219.5" stroke="#1e1e1e" stroke-width="0.6"/>
<line x1="71.66" y1="217.9" x2="71.66" y2="219.5" stroke="#1e1e1e" stroke-width="0.6"/>
<line x1="73.12" y1="217.9" x2="73.12" y2="219.5" stroke="#1e1e1e" stroke-width="0.6"/>
<line x1="74.39" y1="217.9" x2="74.39" y2="219.5" stroke="#1e1e1e" stroke-width="0.6"/>
<line x1="75.5" y1="217.9" x2="75.5" y2="219.5" stroke="#1e1e1e" stroke-width="0.6"/>
<line x1="83.06" y1="217.9" x2="83.06" y2="219.5" stroke="#1e1e1e" stroke-width="0.6"/>
<line x1="86.9" y1="217.9" x2="86.9" y2="219.5" stroke="#1e1e1e" stroke-width="0.6"/>
<line x1="89.62" y1="217.9" x2="89.62" y2="219.5" stroke="#1e1e1e" stroke-width="0.6"/>
<line x1="91.74" y1="217.9" x2="91.74" y2="219.5" stroke="#1e1e1e" stroke-width="0.6"/>
<line x1="93.46" y1="217.9" x2="93.46" y2="219.5" stroke="#1e1e1e" stroke-width="0.6"/>
<line x1="94.92" y1="217.9" x2="94.92" y2="219.5" stroke="#1e1e1e" stroke-width="0.6"/>
<line x1="96.19" y1="217.9" x2="96.19" y2="219.5" stroke="#1e1e1e" stroke-width="0.6"/>
<line x1="97.3" y1="217.9" x2="97.3" y2="219.5" stroke="#1e1e1e" stroke-width="0.6"/>
<text x="17.9" y="185" font-size="7" fill="#2a2a2a" stroke="#2a2a2a" stroke-width="0.12" text-anchor="middle" textLength="24.8" lengthAdjust="spacingAndGlyphs" transform="rotate(-90 17.9 185)">IL2 ng/ml</text>
<path d="M44.76 217.22L45.94 217.04L47.13 216.81L48.31 216.51L49.5 216.15L50.68 215.7L51.86 215.15L53.05 214.49L54.23 213.7L55.41 212.77L56.6 211.71L57.78 210.52L58.97 209.22L60.15 207.85L61.33 206.43L62.52 205.02L63.7 203.65L64.88 202.36L66.07 201.19L67.25 200.14L68.43 199.23L69.62 198.46L70.8 197.81L71.99 197.27L73.17 196.83L74.35 196.48L75.54 196.19L76.72 195.97L77.9 195.79L79.09 195.65L80.27 195.53L81.46 195.45L82.64 195.38L83.82 195.32L85.01 195.28L86.19 195.25L87.37 195.22L88.56 195.2L89.74 195.19L90.93 195.17L92.11 195.16" fill="none" stroke="#38A040" stroke-width="1.1" stroke-linejoin="round" stroke-linecap="round"/>
<path d="M44.76 216.37L45.94 215.98L47.13 215.49L48.31 214.89L49.5 214.15L50.68 213.26L51.86 212.18L53.05 210.89L54.23 209.38L55.41 207.63L56.6 205.66L57.78 203.46L58.97 201.09L60.15 198.58L61.33 196.01L62.52 193.44L63.7 190.95L64.88 188.6L66.07 186.43L67.25 184.48L68.43 182.76L69.62 181.28L70.8 180.01L71.99 178.96L73.17 178.08L74.35 177.36L75.54 176.77L76.72 176.3L77.9 175.92L79.09 175.61L80.27 175.37L81.46 175.17L82.64 175.02L83.82 174.89L85.01 174.8L86.19 174.72L87.37 174.66L88.56 174.61L89.74 174.57L90.93 174.54L92.11 174.52" fill="none" stroke="#1F4C84" stroke-width="1.1" stroke-linejoin="round" stroke-linecap="round"/>
<circle cx="45.8" cy="217.9" r="1.75" fill="#fff" stroke="#BE1238" stroke-width="1.09"/>
<circle cx="52.36" cy="217.9" r="1.75" fill="#fff" stroke="#BE1238" stroke-width="1.09"/>
<circle cx="58.93" cy="217.9" r="1.75" fill="#fff" stroke="#BE1238" stroke-width="1.09"/>
<circle cx="65.49" cy="217.9" r="1.75" fill="#fff" stroke="#BE1238" stroke-width="1.09"/>
<circle cx="72.05" cy="217.9" r="1.75" fill="#fff" stroke="#BE1238" stroke-width="1.09"/>
<circle cx="78.61" cy="217.9" r="1.75" fill="#fff" stroke="#BE1238" stroke-width="1.09"/>
<circle cx="85.18" cy="217.9" r="1.75" fill="#fff" stroke="#BE1238" stroke-width="1.09"/>
<circle cx="91.74" cy="217.9" r="1.75" fill="#fff" stroke="#BE1238" stroke-width="1.09"/>
<line x1="52.36" y1="208.59" x2="52.36" y2="214.8" stroke="#AABD8C" stroke-width="0.85"/>
<line x1="50.96" y1="208.59" x2="53.76" y2="208.59" stroke="#AABD8C" stroke-width="0.85"/>
<line x1="50.96" y1="214.8" x2="53.76" y2="214.8" stroke="#AABD8C" stroke-width="0.85"/>
<line x1="58.93" y1="202.38" x2="58.93" y2="212.72" stroke="#AABD8C" stroke-width="0.85"/>
<line x1="57.53" y1="202.38" x2="60.33" y2="202.38" stroke="#AABD8C" stroke-width="0.85"/>
<line x1="57.53" y1="212.72" x2="60.33" y2="212.72" stroke="#AABD8C" stroke-width="0.85"/>
<line x1="65.49" y1="188.92" x2="65.49" y2="207.55" stroke="#AABD8C" stroke-width="0.85"/>
<line x1="64.09" y1="188.92" x2="66.89" y2="188.92" stroke="#AABD8C" stroke-width="0.85"/>
<line x1="64.09" y1="207.55" x2="66.89" y2="207.55" stroke="#AABD8C" stroke-width="0.85"/>
<line x1="72.05" y1="187.88" x2="72.05" y2="202.38" stroke="#AABD8C" stroke-width="0.85"/>
<line x1="70.65" y1="187.88" x2="73.45" y2="187.88" stroke="#AABD8C" stroke-width="0.85"/>
<line x1="70.65" y1="202.38" x2="73.45" y2="202.38" stroke="#AABD8C" stroke-width="0.85"/>
<line x1="78.61" y1="182.19" x2="78.61" y2="200.82" stroke="#AABD8C" stroke-width="0.85"/>
<line x1="77.21" y1="182.19" x2="80.01" y2="182.19" stroke="#AABD8C" stroke-width="0.85"/>
<line x1="77.21" y1="200.82" x2="80.01" y2="200.82" stroke="#AABD8C" stroke-width="0.85"/>
<line x1="85.18" y1="186.85" x2="85.18" y2="205.48" stroke="#AABD8C" stroke-width="0.85"/>
<line x1="83.78" y1="186.85" x2="86.58" y2="186.85" stroke="#AABD8C" stroke-width="0.85"/>
<line x1="83.78" y1="205.48" x2="86.58" y2="205.48" stroke="#AABD8C" stroke-width="0.85"/>
<line x1="91.74" y1="185.81" x2="91.74" y2="206.52" stroke="#AABD8C" stroke-width="0.85"/>
<line x1="90.34" y1="185.81" x2="93.14" y2="185.81" stroke="#AABD8C" stroke-width="0.85"/>
<line x1="90.34" y1="206.52" x2="93.14" y2="206.52" stroke="#AABD8C" stroke-width="0.85"/>
<path d="M45.8 215.8L47.55 217.9L45.8 220L44.05 217.9Z" fill="#fff" stroke="#AABD8C" stroke-width="0.95"/>
<path d="M52.36 209.59L54.11 211.69L52.36 213.79L50.61 211.69Z" fill="#fff" stroke="#AABD8C" stroke-width="0.95"/>
<path d="M58.93 205.45L60.68 207.55L58.93 209.65L57.18 207.55Z" fill="#fff" stroke="#AABD8C" stroke-width="0.95"/>
<path d="M65.49 196.14L67.24 198.24L65.49 200.34L63.74 198.24Z" fill="#fff" stroke="#AABD8C" stroke-width="0.95"/>
<path d="M72.05 193.03L73.8 195.13L72.05 197.23L70.3 195.13Z" fill="#fff" stroke="#AABD8C" stroke-width="0.95"/>
<path d="M78.61 189.41L80.36 191.51L78.61 193.61L76.86 191.51Z" fill="#fff" stroke="#AABD8C" stroke-width="0.95"/>
<path d="M85.18 194.07L86.93 196.17L85.18 198.27L83.43 196.17Z" fill="#fff" stroke="#AABD8C" stroke-width="0.95"/>
<path d="M91.74 194.07L93.49 196.17L91.74 198.27L89.99 196.17Z" fill="#fff" stroke="#AABD8C" stroke-width="0.95"/>
<line x1="52.36" y1="206" x2="52.36" y2="214.28" stroke="#38A040" stroke-width="0.85"/>
<line x1="50.96" y1="206" x2="53.76" y2="206" stroke="#38A040" stroke-width="0.85"/>
<line x1="50.96" y1="214.28" x2="53.76" y2="214.28" stroke="#38A040" stroke-width="0.85"/>
<line x1="58.93" y1="199.79" x2="58.93" y2="212.21" stroke="#38A040" stroke-width="0.85"/>
<line x1="57.53" y1="199.79" x2="60.33" y2="199.79" stroke="#38A040" stroke-width="0.85"/>
<line x1="57.53" y1="212.21" x2="60.33" y2="212.21" stroke="#38A040" stroke-width="0.85"/>
<line x1="65.49" y1="195.65" x2="65.49" y2="206" stroke="#38A040" stroke-width="0.85"/>
<line x1="64.09" y1="195.65" x2="66.89" y2="195.65" stroke="#38A040" stroke-width="0.85"/>
<line x1="64.09" y1="206" x2="66.89" y2="206" stroke="#38A040" stroke-width="0.85"/>
<line x1="72.05" y1="187.89" x2="72.05" y2="200.31" stroke="#38A040" stroke-width="0.85"/>
<line x1="70.65" y1="187.89" x2="73.45" y2="187.89" stroke="#38A040" stroke-width="0.85"/>
<line x1="70.65" y1="200.31" x2="73.45" y2="200.31" stroke="#38A040" stroke-width="0.85"/>
<line x1="78.61" y1="189.96" x2="78.61" y2="200.31" stroke="#38A040" stroke-width="0.85"/>
<line x1="77.21" y1="189.96" x2="80.01" y2="189.96" stroke="#38A040" stroke-width="0.85"/>
<line x1="77.21" y1="200.31" x2="80.01" y2="200.31" stroke="#38A040" stroke-width="0.85"/>
<line x1="85.18" y1="188.92" x2="85.18" y2="205.48" stroke="#38A040" stroke-width="0.85"/>
<line x1="83.78" y1="188.92" x2="86.58" y2="188.92" stroke="#38A040" stroke-width="0.85"/>
<line x1="83.78" y1="205.48" x2="86.58" y2="205.48" stroke="#38A040" stroke-width="0.85"/>
<line x1="91.74" y1="181.68" x2="91.74" y2="192.03" stroke="#38A040" stroke-width="0.85"/>
<line x1="90.34" y1="181.68" x2="93.14" y2="181.68" stroke="#38A040" stroke-width="0.85"/>
<line x1="90.34" y1="192.03" x2="93.14" y2="192.03" stroke="#38A040" stroke-width="0.85"/>
<path d="M45.8 219.91L47.73 216.59L43.88 216.59Z" fill="#fff" stroke="#38A040" stroke-width="0.95"/>
<path d="M52.36 212.15L54.29 208.83L50.44 208.83Z" fill="#fff" stroke="#38A040" stroke-width="0.95"/>
<path d="M58.93 208.01L60.85 204.69L57 204.69Z" fill="#fff" stroke="#38A040" stroke-width="0.95"/>
<path d="M65.49 202.84L67.41 199.51L63.56 199.51Z" fill="#fff" stroke="#38A040" stroke-width="0.95"/>
<path d="M72.05 196.11L73.98 192.78L70.13 192.78Z" fill="#fff" stroke="#38A040" stroke-width="0.95"/>
<path d="M78.61 197.14L80.54 193.82L76.69 193.82Z" fill="#fff" stroke="#38A040" stroke-width="0.95"/>
<path d="M85.18 199.21L87.1 195.89L83.25 195.89Z" fill="#fff" stroke="#38A040" stroke-width="0.95"/>
<path d="M91.74 188.86L93.66 185.54L89.81 185.54Z" fill="#fff" stroke="#38A040" stroke-width="0.95"/>
<line x1="52.36" y1="202.89" x2="52.36" y2="214.28" stroke="#1F4C84" stroke-width="0.85"/>
<line x1="50.96" y1="202.89" x2="53.76" y2="202.89" stroke="#1F4C84" stroke-width="0.85"/>
<line x1="50.96" y1="214.28" x2="53.76" y2="214.28" stroke="#1F4C84" stroke-width="0.85"/>
<line x1="58.93" y1="181.68" x2="58.93" y2="206.52" stroke="#1F4C84" stroke-width="0.85"/>
<line x1="57.53" y1="181.68" x2="60.33" y2="181.68" stroke="#1F4C84" stroke-width="0.85"/>
<line x1="57.53" y1="206.52" x2="60.33" y2="206.52" stroke="#1F4C84" stroke-width="0.85"/>
<line x1="65.49" y1="177.54" x2="65.49" y2="196.17" stroke="#1F4C84" stroke-width="0.85"/>
<line x1="64.09" y1="177.54" x2="66.89" y2="177.54" stroke="#1F4C84" stroke-width="0.85"/>
<line x1="64.09" y1="196.17" x2="66.89" y2="196.17" stroke="#1F4C84" stroke-width="0.85"/>
<line x1="72.05" y1="172.36" x2="72.05" y2="190.99" stroke="#1F4C84" stroke-width="0.85"/>
<line x1="70.65" y1="172.36" x2="73.45" y2="172.36" stroke="#1F4C84" stroke-width="0.85"/>
<line x1="70.65" y1="190.99" x2="73.45" y2="190.99" stroke="#1F4C84" stroke-width="0.85"/>
<line x1="78.61" y1="161.49" x2="78.61" y2="183.23" stroke="#1F4C84" stroke-width="0.85"/>
<line x1="77.21" y1="161.49" x2="80.01" y2="161.49" stroke="#1F4C84" stroke-width="0.85"/>
<line x1="77.21" y1="183.23" x2="80.01" y2="183.23" stroke="#1F4C84" stroke-width="0.85"/>
<line x1="85.18" y1="162.01" x2="85.18" y2="182.71" stroke="#1F4C84" stroke-width="0.85"/>
<line x1="83.78" y1="162.01" x2="86.58" y2="162.01" stroke="#1F4C84" stroke-width="0.85"/>
<line x1="83.78" y1="182.71" x2="86.58" y2="182.71" stroke="#1F4C84" stroke-width="0.85"/>
<line x1="91.74" y1="166.67" x2="91.74" y2="186.33" stroke="#1F4C84" stroke-width="0.85"/>
<line x1="90.34" y1="166.67" x2="93.14" y2="166.67" stroke="#1F4C84" stroke-width="0.85"/>
<line x1="90.34" y1="186.33" x2="93.14" y2="186.33" stroke="#1F4C84" stroke-width="0.85"/>
<path d="M45.8 215.89L47.73 219.21L43.88 219.21Z" fill="#1F4C84" stroke="#1F4C84" stroke-width="0.95"/>
<path d="M52.36 206.57L54.29 209.9L50.44 209.9Z" fill="#fff" stroke="#1F4C84" stroke-width="0.95"/>
<path d="M58.93 192.08L60.85 195.41L57 195.41Z" fill="#fff" stroke="#1F4C84" stroke-width="0.95"/>
<path d="M65.49 184.84L67.41 188.16L63.56 188.16Z" fill="#fff" stroke="#1F4C84" stroke-width="0.95"/>
<path d="M72.05 179.66L73.98 182.99L70.13 182.99Z" fill="#fff" stroke="#1F4C84" stroke-width="0.95"/>
<path d="M78.61 170.35L80.54 173.67L76.69 173.67Z" fill="#fff" stroke="#1F4C84" stroke-width="0.95"/>
<path d="M85.18 170.35L87.1 173.67L83.25 173.67Z" fill="#fff" stroke="#1F4C84" stroke-width="0.95"/>
<path d="M91.74 174.49L93.66 177.81L89.81 177.81Z" fill="#fff" stroke="#1F4C84" stroke-width="0.95"/>
<line x1="136.9" y1="153.5" x2="136.9" y2="218.05" stroke="#1e1e1e" stroke-width="1.15"/>
<line x1="133.9" y1="217.5" x2="136.9" y2="217.5" stroke="#1e1e1e" stroke-width="0.9"/>
<text x="132.3" y="219.7" font-size="6.2" fill="#2a2a2a" stroke="#2a2a2a" stroke-width="0.14" text-anchor="end" textLength="8.3" lengthAdjust="spacingAndGlyphs">0.0</text>
<line x1="133.9" y1="186.5" x2="136.9" y2="186.5" stroke="#1e1e1e" stroke-width="0.9"/>
<text x="132.3" y="188.7" font-size="6.2" fill="#2a2a2a" stroke="#2a2a2a" stroke-width="0.14" text-anchor="end" textLength="8.3" lengthAdjust="spacingAndGlyphs">2.5</text>
<line x1="133.9" y1="155.5" x2="136.9" y2="155.5" stroke="#1e1e1e" stroke-width="0.9"/>
<text x="132.3" y="157.7" font-size="6.2" fill="#2a2a2a" stroke="#2a2a2a" stroke-width="0.14" text-anchor="end" textLength="8.3" lengthAdjust="spacingAndGlyphs">5.0</text>
<line x1="136.35" y1="217.5" x2="206" y2="217.5" stroke="#1e1e1e" stroke-width="1.15"/>
<line x1="153.15" y1="217.5" x2="153.15" y2="220.1" stroke="#1e1e1e" stroke-width="0.9"/>
<text x="153.15" y="226.9" font-size="6.2" fill="#2a2a2a" stroke="#2a2a2a" stroke-width="0.14" text-anchor="middle" textLength="8.3" lengthAdjust="spacingAndGlyphs">0.1</text>
<line x1="178.75" y1="217.5" x2="178.75" y2="220.1" stroke="#1e1e1e" stroke-width="0.9"/>
<text x="178.75" y="226.9" font-size="6.2" fill="#2a2a2a" stroke="#2a2a2a" stroke-width="0.14" text-anchor="middle" textLength="3.4" lengthAdjust="spacingAndGlyphs">1</text>
<line x1="204.35" y1="217.5" x2="204.35" y2="220.1" stroke="#1e1e1e" stroke-width="0.9"/>
<text x="204.35" y="226.9" font-size="6.2" fill="#2a2a2a" stroke="#2a2a2a" stroke-width="0.14" text-anchor="middle" textLength="6.8" lengthAdjust="spacingAndGlyphs">10</text>
<line x1="139.76" y1="217.5" x2="139.76" y2="219.1" stroke="#1e1e1e" stroke-width="0.6"/>
<line x1="142.96" y1="217.5" x2="142.96" y2="219.1" stroke="#1e1e1e" stroke-width="0.6"/>
<line x1="145.44" y1="217.5" x2="145.44" y2="219.1" stroke="#1e1e1e" stroke-width="0.6"/>
<line x1="147.47" y1="217.5" x2="147.47" y2="219.1" stroke="#1e1e1e" stroke-width="0.6"/>
<line x1="149.18" y1="217.5" x2="149.18" y2="219.1" stroke="#1e1e1e" stroke-width="0.6"/>
<line x1="150.67" y1="217.5" x2="150.67" y2="219.1" stroke="#1e1e1e" stroke-width="0.6"/>
<line x1="151.98" y1="217.5" x2="151.98" y2="219.1" stroke="#1e1e1e" stroke-width="0.6"/>
<line x1="160.86" y1="217.5" x2="160.86" y2="219.1" stroke="#1e1e1e" stroke-width="0.6"/>
<line x1="165.36" y1="217.5" x2="165.36" y2="219.1" stroke="#1e1e1e" stroke-width="0.6"/>
<line x1="168.56" y1="217.5" x2="168.56" y2="219.1" stroke="#1e1e1e" stroke-width="0.6"/>
<line x1="171.04" y1="217.5" x2="171.04" y2="219.1" stroke="#1e1e1e" stroke-width="0.6"/>
<line x1="173.07" y1="217.5" x2="173.07" y2="219.1" stroke="#1e1e1e" stroke-width="0.6"/>
<line x1="174.78" y1="217.5" x2="174.78" y2="219.1" stroke="#1e1e1e" stroke-width="0.6"/>
<line x1="176.27" y1="217.5" x2="176.27" y2="219.1" stroke="#1e1e1e" stroke-width="0.6"/>
<line x1="177.58" y1="217.5" x2="177.58" y2="219.1" stroke="#1e1e1e" stroke-width="0.6"/>
<line x1="186.46" y1="217.5" x2="186.46" y2="219.1" stroke="#1e1e1e" stroke-width="0.6"/>
<line x1="190.96" y1="217.5" x2="190.96" y2="219.1" stroke="#1e1e1e" stroke-width="0.6"/>
<line x1="194.16" y1="217.5" x2="194.16" y2="219.1" stroke="#1e1e1e" stroke-width="0.6"/>
<line x1="196.64" y1="217.5" x2="196.64" y2="219.1" stroke="#1e1e1e" stroke-width="0.6"/>
<line x1="198.67" y1="217.5" x2="198.67" y2="219.1" stroke="#1e1e1e" stroke-width="0.6"/>
<line x1="200.38" y1="217.5" x2="200.38" y2="219.1" stroke="#1e1e1e" stroke-width="0.6"/>
<line x1="201.87" y1="217.5" x2="201.87" y2="219.1" stroke="#1e1e1e" stroke-width="0.6"/>
<line x1="203.18" y1="217.5" x2="203.18" y2="219.1" stroke="#1e1e1e" stroke-width="0.6"/>
<text x="118.5" y="188" font-size="7" fill="#2a2a2a" stroke="#2a2a2a" stroke-width="0.12" text-anchor="middle" textLength="28.5" lengthAdjust="spacingAndGlyphs" transform="rotate(-90 118.5 188)">IFNγ ng/ml</text>
<path d="M145.44 216.61L146.73 216.41L148.03 216.17L149.32 215.88L150.61 215.53L151.9 215.1L153.19 214.6L154.48 214L155.77 213.3L157.06 212.49L158.35 211.55L159.64 210.49L160.93 209.3L162.23 207.99L163.52 206.57L164.81 205.07L166.1 203.51L167.39 201.93L168.68 200.35L169.97 198.82L171.26 197.35L172.55 195.99L173.84 194.73L175.13 193.6L176.43 192.6L177.72 191.72L179.01 190.97L180.3 190.32L181.59 189.77L182.88 189.3L184.17 188.92L185.46 188.59L186.75 188.33L188.04 188.11L189.33 187.93L190.63 187.78L191.92 187.66L193.21 187.56L194.5 187.47L195.79 187.41L197.08 187.35" fill="none" stroke="#38A040" stroke-width="1.1" stroke-linejoin="round" stroke-linecap="round"/>
<path d="M145.44 216.47L146.73 216.23L148.03 215.95L149.32 215.6L150.61 215.19L151.9 214.68L153.19 214.08L154.48 213.36L155.77 212.5L157.06 211.5L158.35 210.33L159.64 208.98L160.93 207.44L162.23 205.72L163.52 203.82L164.81 201.76L166.1 199.58L167.39 197.29L168.68 194.97L169.97 192.65L171.26 190.38L172.55 188.21L173.84 186.18L175.13 184.31L176.43 182.63L177.72 181.12L179.01 179.81L180.3 178.67L181.59 177.69L182.88 176.86L184.17 176.16L185.46 175.58L186.75 175.09L188.04 174.69L189.33 174.35L190.63 174.08L191.92 173.86L193.21 173.67L194.5 173.52L195.79 173.4L197.08 173.3" fill="none" stroke="#1F4C84" stroke-width="1.1" stroke-linejoin="round" stroke-linecap="round"/>
<circle cx="142.7" cy="217.5" r="1.75" fill="#fff" stroke="#BE1238" stroke-width="1.09"/>
<circle cx="150.41" cy="217.5" r="1.75" fill="#fff" stroke="#BE1238" stroke-width="1.09"/>
<circle cx="158.11" cy="217.5" r="1.75" fill="#fff" stroke="#BE1238" stroke-width="1.09"/>
<circle cx="165.82" cy="217.5" r="1.75" fill="#fff" stroke="#BE1238" stroke-width="1.09"/>
<circle cx="173.52" cy="217.5" r="1.75" fill="#fff" stroke="#BE1238" stroke-width="1.09"/>
<circle cx="181.23" cy="217.5" r="1.75" fill="#fff" stroke="#BE1238" stroke-width="1.09"/>
<circle cx="188.94" cy="217.5" r="1.75" fill="#fff" stroke="#BE1238" stroke-width="1.09"/>
<circle cx="196.64" cy="217.5" r="1.75" fill="#fff" stroke="#BE1238" stroke-width="1.09"/>
<line x1="150.41" y1="215.64" x2="150.41" y2="216.88" stroke="#AABD8C" stroke-width="0.85"/>
<line x1="149.01" y1="215.64" x2="151.81" y2="215.64" stroke="#AABD8C" stroke-width="0.85"/>
<line x1="149.01" y1="216.88" x2="151.81" y2="216.88" stroke="#AABD8C" stroke-width="0.85"/>
<line x1="158.11" y1="210.06" x2="158.11" y2="212.54" stroke="#AABD8C" stroke-width="0.85"/>
<line x1="156.71" y1="210.06" x2="159.51" y2="210.06" stroke="#AABD8C" stroke-width="0.85"/>
<line x1="156.71" y1="212.54" x2="159.51" y2="212.54" stroke="#AABD8C" stroke-width="0.85"/>
<line x1="165.82" y1="205.1" x2="165.82" y2="207.58" stroke="#AABD8C" stroke-width="0.85"/>
<line x1="164.42" y1="205.1" x2="167.22" y2="205.1" stroke="#AABD8C" stroke-width="0.85"/>
<line x1="164.42" y1="207.58" x2="167.22" y2="207.58" stroke="#AABD8C" stroke-width="0.85"/>
<line x1="173.52" y1="194.56" x2="173.52" y2="198.28" stroke="#AABD8C" stroke-width="0.85"/>
<line x1="172.12" y1="194.56" x2="174.92" y2="194.56" stroke="#AABD8C" stroke-width="0.85"/>
<line x1="172.12" y1="198.28" x2="174.92" y2="198.28" stroke="#AABD8C" stroke-width="0.85"/>
<line x1="181.23" y1="185.88" x2="181.23" y2="192.08" stroke="#AABD8C" stroke-width="0.85"/>
<line x1="179.83" y1="185.88" x2="182.63" y2="185.88" stroke="#AABD8C" stroke-width="0.85"/>
<line x1="179.83" y1="192.08" x2="182.63" y2="192.08" stroke="#AABD8C" stroke-width="0.85"/>
<line x1="188.94" y1="182.16" x2="188.94" y2="188.36" stroke="#AABD8C" stroke-width="0.85"/>
<line x1="187.54" y1="182.16" x2="190.34" y2="182.16" stroke="#AABD8C" stroke-width="0.85"/>
<line x1="187.54" y1="188.36" x2="190.34" y2="188.36" stroke="#AABD8C" stroke-width="0.85"/>
<line x1="196.64" y1="184.64" x2="196.64" y2="193.32" stroke="#AABD8C" stroke-width="0.85"/>
<line x1="195.24" y1="184.64" x2="198.04" y2="184.64" stroke="#AABD8C" stroke-width="0.85"/>
<line x1="195.24" y1="193.32" x2="198.04" y2="193.32" stroke="#AABD8C" stroke-width="0.85"/>
<path d="M142.7 215.4L144.45 217.5L142.7 219.6L140.95 217.5Z" fill="#fff" stroke="#AABD8C" stroke-width="0.95"/>
<path d="M150.41 214.16L152.16 216.26L150.41 218.36L148.66 216.26Z" fill="#fff" stroke="#AABD8C" stroke-width="0.95"/>
<path d="M158.11 209.2L159.86 211.3L158.11 213.4L156.36 211.3Z" fill="#fff" stroke="#AABD8C" stroke-width="0.95"/>
<path d="M165.82 204.24L167.57 206.34L165.82 208.44L164.07 206.34Z" fill="#fff" stroke="#AABD8C" stroke-width="0.95"/>
<path d="M173.52 194.32L175.27 196.42L173.52 198.52L171.77 196.42Z" fill="#fff" stroke="#AABD8C" stroke-width="0.95"/>
<path d="M181.23 186.88L182.98 188.98L181.23 191.08L179.48 188.98Z" fill="#fff" stroke="#AABD8C" stroke-width="0.95"/>
<path d="M188.94 183.16L190.69 185.26L188.94 187.36L187.19 185.26Z" fill="#fff" stroke="#AABD8C" stroke-width="0.95"/>
<path d="M196.64 186.88L198.39 188.98L196.64 191.08L194.89 188.98Z" fill="#fff" stroke="#AABD8C" stroke-width="0.95"/>
<line x1="150.41" y1="215.64" x2="150.41" y2="216.88" stroke="#38A040" stroke-width="0.85"/>
<line x1="149.01" y1="215.64" x2="151.81" y2="215.64" stroke="#38A040" stroke-width="0.85"/>
<line x1="149.01" y1="216.88" x2="151.81" y2="216.88" stroke="#38A040" stroke-width="0.85"/>
<line x1="158.11" y1="209.44" x2="158.11" y2="211.92" stroke="#38A040" stroke-width="0.85"/>
<line x1="156.71" y1="209.44" x2="159.51" y2="209.44" stroke="#38A040" stroke-width="0.85"/>
<line x1="156.71" y1="211.92" x2="159.51" y2="211.92" stroke="#38A040" stroke-width="0.85"/>
<line x1="165.82" y1="203.86" x2="165.82" y2="206.34" stroke="#38A040" stroke-width="0.85"/>
<line x1="164.42" y1="203.86" x2="167.22" y2="203.86" stroke="#38A040" stroke-width="0.85"/>
<line x1="164.42" y1="206.34" x2="167.22" y2="206.34" stroke="#38A040" stroke-width="0.85"/>
<line x1="173.52" y1="193.32" x2="173.52" y2="197.04" stroke="#38A040" stroke-width="0.85"/>
<line x1="172.12" y1="193.32" x2="174.92" y2="193.32" stroke="#38A040" stroke-width="0.85"/>
<line x1="172.12" y1="197.04" x2="174.92" y2="197.04" stroke="#38A040" stroke-width="0.85"/>
<line x1="181.23" y1="187.74" x2="181.23" y2="192.7" stroke="#38A040" stroke-width="0.85"/>
<line x1="179.83" y1="187.74" x2="182.63" y2="187.74" stroke="#38A040" stroke-width="0.85"/>
<line x1="179.83" y1="192.7" x2="182.63" y2="192.7" stroke="#38A040" stroke-width="0.85"/>
<line x1="188.94" y1="185.88" x2="188.94" y2="189.6" stroke="#38A040" stroke-width="0.85"/>
<line x1="187.54" y1="185.88" x2="190.34" y2="185.88" stroke="#38A040" stroke-width="0.85"/>
<line x1="187.54" y1="189.6" x2="190.34" y2="189.6" stroke="#38A040" stroke-width="0.85"/>
<line x1="196.64" y1="184.02" x2="196.64" y2="191.46" stroke="#38A040" stroke-width="0.85"/>
<line x1="195.24" y1="184.02" x2="198.04" y2="184.02" stroke="#38A040" stroke-width="0.85"/>
<line x1="195.24" y1="191.46" x2="198.04" y2="191.46" stroke="#38A040" stroke-width="0.85"/>
<path d="M142.7 219.51L144.62 216.19L140.77 216.19Z" fill="#fff" stroke="#38A040" stroke-width="0.95"/>
<path d="M150.41 218.27L152.33 214.95L148.48 214.95Z" fill="#fff" stroke="#38A040" stroke-width="0.95"/>
<path d="M158.11 212.69L160.04 209.37L156.19 209.37Z" fill="#fff" stroke="#38A040" stroke-width="0.95"/>
<path d="M165.82 207.11L167.74 203.79L163.89 203.79Z" fill="#fff" stroke="#38A040" stroke-width="0.95"/>
<path d="M173.52 197.19L175.45 193.87L171.6 193.87Z" fill="#fff" stroke="#38A040" stroke-width="0.95"/>
<path d="M181.23 192.23L183.16 188.91L179.31 188.91Z" fill="#fff" stroke="#38A040" stroke-width="0.95"/>
<path d="M188.94 189.75L190.86 186.43L187.01 186.43Z" fill="#fff" stroke="#38A040" stroke-width="0.95"/>
<path d="M196.64 189.75L198.57 186.43L194.72 186.43Z" fill="#fff" stroke="#38A040" stroke-width="0.95"/>
<line x1="150.41" y1="216.26" x2="150.41" y2="217.5" stroke="#1F4C84" stroke-width="0.85"/>
<line x1="149.01" y1="216.26" x2="151.81" y2="216.26" stroke="#1F4C84" stroke-width="0.85"/>
<line x1="149.01" y1="217.5" x2="151.81" y2="217.5" stroke="#1F4C84" stroke-width="0.85"/>
<line x1="158.11" y1="208.2" x2="158.11" y2="211.92" stroke="#1F4C84" stroke-width="0.85"/>
<line x1="156.71" y1="208.2" x2="159.51" y2="208.2" stroke="#1F4C84" stroke-width="0.85"/>
<line x1="156.71" y1="211.92" x2="159.51" y2="211.92" stroke="#1F4C84" stroke-width="0.85"/>
<line x1="165.82" y1="199.52" x2="165.82" y2="203.24" stroke="#1F4C84" stroke-width="0.85"/>
<line x1="164.42" y1="199.52" x2="167.22" y2="199.52" stroke="#1F4C84" stroke-width="0.85"/>
<line x1="164.42" y1="203.24" x2="167.22" y2="203.24" stroke="#1F4C84" stroke-width="0.85"/>
<line x1="173.52" y1="185.26" x2="173.52" y2="190.22" stroke="#1F4C84" stroke-width="0.85"/>
<line x1="172.12" y1="185.26" x2="174.92" y2="185.26" stroke="#1F4C84" stroke-width="0.85"/>
<line x1="172.12" y1="190.22" x2="174.92" y2="190.22" stroke="#1F4C84" stroke-width="0.85"/>
<line x1="181.23" y1="174.72" x2="181.23" y2="180.92" stroke="#1F4C84" stroke-width="0.85"/>
<line x1="179.83" y1="174.72" x2="182.63" y2="174.72" stroke="#1F4C84" stroke-width="0.85"/>
<line x1="179.83" y1="180.92" x2="182.63" y2="180.92" stroke="#1F4C84" stroke-width="0.85"/>
<line x1="188.94" y1="168.52" x2="188.94" y2="177.2" stroke="#1F4C84" stroke-width="0.85"/>
<line x1="187.54" y1="168.52" x2="190.34" y2="168.52" stroke="#1F4C84" stroke-width="0.85"/>
<line x1="187.54" y1="177.2" x2="190.34" y2="177.2" stroke="#1F4C84" stroke-width="0.85"/>
<line x1="196.64" y1="173.48" x2="196.64" y2="179.68" stroke="#1F4C84" stroke-width="0.85"/>
<line x1="195.24" y1="173.48" x2="198.04" y2="173.48" stroke="#1F4C84" stroke-width="0.85"/>
<line x1="195.24" y1="179.68" x2="198.04" y2="179.68" stroke="#1F4C84" stroke-width="0.85"/>
<path d="M142.7 215.49L144.62 218.81L140.77 218.81Z" fill="#1F4C84" stroke="#1F4C84" stroke-width="0.95"/>
<path d="M150.41 214.87L152.33 218.19L148.48 218.19Z" fill="#fff" stroke="#1F4C84" stroke-width="0.95"/>
<path d="M158.11 208.05L160.04 211.37L156.19 211.37Z" fill="#fff" stroke="#1F4C84" stroke-width="0.95"/>
<path d="M165.82 199.37L167.74 202.69L163.89 202.69Z" fill="#fff" stroke="#1F4C84" stroke-width="0.95"/>
<path d="M173.52 185.73L175.45 189.05L171.6 189.05Z" fill="#fff" stroke="#1F4C84" stroke-width="0.95"/>
<path d="M181.23 175.81L183.16 179.13L179.31 179.13Z" fill="#fff" stroke="#1F4C84" stroke-width="0.95"/>
<path d="M188.94 170.85L190.86 174.17L187.01 174.17Z" fill="#fff" stroke="#1F4C84" stroke-width="0.95"/>
<path d="M196.64 174.57L198.57 177.89L194.72 177.89Z" fill="#fff" stroke="#1F4C84" stroke-width="0.95"/>
<text x="76" y="239.6" font-size="7" fill="#2a2a2a" stroke="#2a2a2a" stroke-width="0.15" textLength="66.3" lengthAdjust="spacingAndGlyphs">Plate bound CD79ab μg/ml</text>
<line x1="251.3" y1="152.5" x2="251.3" y2="217.85" stroke="#1e1e1e" stroke-width="1.15"/>
<line x1="248.3" y1="217.3" x2="251.3" y2="217.3" stroke="#1e1e1e" stroke-width="0.9"/>
<text x="246.7" y="219.5" font-size="6.2" fill="#2a2a2a" stroke="#2a2a2a" stroke-width="0.14" text-anchor="end" textLength="3.4" lengthAdjust="spacingAndGlyphs">0</text>
<line x1="248.3" y1="201.6" x2="251.3" y2="201.6" stroke="#1e1e1e" stroke-width="0.9"/>
<text x="246.7" y="203.8" font-size="6.2" fill="#2a2a2a" stroke="#2a2a2a" stroke-width="0.14" text-anchor="end" textLength="3.4" lengthAdjust="spacingAndGlyphs">2</text>
<line x1="248.3" y1="185.9" x2="251.3" y2="185.9" stroke="#1e1e1e" stroke-width="0.9"/>
<text x="246.7" y="188.1" font-size="6.2" fill="#2a2a2a" stroke="#2a2a2a" stroke-width="0.14" text-anchor="end" textLength="3.4" lengthAdjust="spacingAndGlyphs">4</text>
<line x1="248.3" y1="170.2" x2="251.3" y2="170.2" stroke="#1e1e1e" stroke-width="0.9"/>
<text x="246.7" y="172.4" font-size="6.2" fill="#2a2a2a" stroke="#2a2a2a" stroke-width="0.14" text-anchor="end" textLength="3.4" lengthAdjust="spacingAndGlyphs">6</text>
<line x1="248.3" y1="154.5" x2="251.3" y2="154.5" stroke="#1e1e1e" stroke-width="0.9"/>
<text x="246.7" y="156.7" font-size="6.2" fill="#2a2a2a" stroke="#2a2a2a" stroke-width="0.14" text-anchor="end" textLength="3.4" lengthAdjust="spacingAndGlyphs">8</text>
<line x1="250.75" y1="217.3" x2="322" y2="217.3" stroke="#1e1e1e" stroke-width="1.15"/>
<line x1="259.7" y1="217.3" x2="259.7" y2="219.9" stroke="#1e1e1e" stroke-width="0.9"/>
<text x="259.7" y="226.7" font-size="6.2" fill="#2a2a2a" stroke="#2a2a2a" stroke-width="0.14" text-anchor="middle" textLength="8.3" lengthAdjust="spacingAndGlyphs">0.1</text>
<line x1="289.5" y1="217.3" x2="289.5" y2="219.9" stroke="#1e1e1e" stroke-width="0.9"/>
<text x="289.5" y="226.7" font-size="6.2" fill="#2a2a2a" stroke="#2a2a2a" stroke-width="0.14" text-anchor="middle" textLength="3.4" lengthAdjust="spacingAndGlyphs">1</text>
<line x1="319.3" y1="217.3" x2="319.3" y2="219.9" stroke="#1e1e1e" stroke-width="0.9"/>
<text x="319.3" y="226.7" font-size="6.2" fill="#2a2a2a" stroke="#2a2a2a" stroke-width="0.14" text-anchor="middle" textLength="6.8" lengthAdjust="spacingAndGlyphs">10</text>
<line x1="268.67" y1="217.3" x2="268.67" y2="218.9" stroke="#1e1e1e" stroke-width="0.6"/>
<line x1="273.92" y1="217.3" x2="273.92" y2="218.9" stroke="#1e1e1e" stroke-width="0.6"/>
<line x1="277.64" y1="217.3" x2="277.64" y2="218.9" stroke="#1e1e1e" stroke-width="0.6"/>
<line x1="280.53" y1="217.3" x2="280.53" y2="218.9" stroke="#1e1e1e" stroke-width="0.6"/>
<line x1="282.89" y1="217.3" x2="282.89" y2="218.9" stroke="#1e1e1e" stroke-width="0.6"/>
<line x1="284.88" y1="217.3" x2="284.88" y2="218.9" stroke="#1e1e1e" stroke-width="0.6"/>
<line x1="286.61" y1="217.3" x2="286.61" y2="218.9" stroke="#1e1e1e" stroke-width="0.6"/>
<line x1="288.14" y1="217.3" x2="288.14" y2="218.9" stroke="#1e1e1e" stroke-width="0.6"/>
<line x1="298.47" y1="217.3" x2="298.47" y2="218.9" stroke="#1e1e1e" stroke-width="0.6"/>
<line x1="303.72" y1="217.3" x2="303.72" y2="218.9" stroke="#1e1e1e" stroke-width="0.6"/>
<line x1="307.44" y1="217.3" x2="307.44" y2="218.9" stroke="#1e1e1e" stroke-width="0.6"/>
<line x1="310.33" y1="217.3" x2="310.33" y2="218.9" stroke="#1e1e1e" stroke-width="0.6"/>
<line x1="312.69" y1="217.3" x2="312.69" y2="218.9" stroke="#1e1e1e" stroke-width="0.6"/>
<line x1="314.68" y1="217.3" x2="314.68" y2="218.9" stroke="#1e1e1e" stroke-width="0.6"/>
<line x1="316.41" y1="217.3" x2="316.41" y2="218.9" stroke="#1e1e1e" stroke-width="0.6"/>
<line x1="317.94" y1="217.3" x2="317.94" y2="218.9" stroke="#1e1e1e" stroke-width="0.6"/>
<text x="237.5" y="185" font-size="7" fill="#2a2a2a" stroke="#2a2a2a" stroke-width="0.12" text-anchor="middle" textLength="25" lengthAdjust="spacingAndGlyphs" transform="rotate(-90 237.5 185)">IL2 ng/ml</text>
<path d="M260.93 216.51L262.32 216.51L263.71 216.51L265.09 216.51L266.48 216.51L267.87 216.51L269.26 216.51L270.64 216.51L272.03 216.51L273.42 216.5L274.8 216.5L276.19 216.49L277.58 216.47L278.96 216.44L280.35 216.39L281.74 216.31L283.12 216.19L284.51 215.99L285.9 215.67L287.29 215.17L288.67 214.39L290.06 213.21L291.45 211.47L292.83 209.05L294.22 205.91L295.61 202.19L296.99 198.24L298.38 194.48L299.77 191.28L301.16 188.79L302.54 186.99L303.93 185.76L305.32 184.95L306.7 184.43L308.09 184.1L309.48 183.89L310.86 183.76L312.25 183.68L313.64 183.63L315.03 183.6L316.41 183.58" fill="none" stroke="#AABD8C" stroke-width="1.1" stroke-linejoin="round" stroke-linecap="round"/>
<path d="M260.93 215.73L262.32 215.73L263.71 215.73L265.09 215.73L266.48 215.73L267.87 215.73L269.26 215.73L270.64 215.72L272.03 215.72L273.42 215.71L274.8 215.7L276.19 215.69L277.58 215.66L278.96 215.62L280.35 215.55L281.74 215.44L283.12 215.27L284.51 214.99L285.9 214.54L287.29 213.84L288.67 212.77L290.06 211.16L291.45 208.88L292.83 205.81L294.22 202.02L295.61 197.79L296.99 193.57L298.38 189.81L299.77 186.77L301.16 184.51L302.54 182.93L303.93 181.87L305.32 181.18L306.7 180.74L308.09 180.47L309.48 180.3L310.86 180.19L312.25 180.12L313.64 180.08L315.03 180.05L316.41 180.04" fill="none" stroke="#38A040" stroke-width="1.1" stroke-linejoin="round" stroke-linecap="round"/>
<path d="M260.93 213.77L262.32 213.77L263.71 213.77L265.09 213.77L266.48 213.77L267.87 213.76L269.26 213.76L270.64 213.76L272.03 213.75L273.42 213.74L274.8 213.72L276.19 213.7L277.58 213.65L278.96 213.58L280.35 213.47L281.74 213.29L283.12 213L284.51 212.53L285.9 211.8L287.29 210.65L288.67 208.91L290.06 206.33L291.45 202.71L292.83 197.97L294.22 192.27L295.61 186.11L296.99 180.17L298.38 175.04L299.77 171L301.16 168.06L302.54 166.03L303.93 164.69L305.32 163.82L306.7 163.27L308.09 162.92L309.48 162.7L310.86 162.57L312.25 162.49L313.64 162.43L315.03 162.4L316.41 162.38" fill="none" stroke="#BE1238" stroke-width="1.1" stroke-linejoin="round" stroke-linecap="round"/>
<path d="M261.75 215.29L263.68 218.61L259.83 218.61Z" fill="#1F4C84" stroke="#1F4C84" stroke-width="0.95"/>
<path d="M270.72 215.29L272.65 218.61L268.8 218.61Z" fill="#1F4C84" stroke="#1F4C84" stroke-width="0.95"/>
<path d="M279.69 215.29L281.62 218.61L277.77 218.61Z" fill="#1F4C84" stroke="#1F4C84" stroke-width="0.95"/>
<path d="M288.66 215.29L290.59 218.61L286.74 218.61Z" fill="#1F4C84" stroke="#1F4C84" stroke-width="0.95"/>
<path d="M297.64 215.29L299.56 218.61L295.71 218.61Z" fill="#1F4C84" stroke="#1F4C84" stroke-width="0.95"/>
<path d="M306.61 215.29L308.53 218.61L304.68 218.61Z" fill="#1F4C84" stroke="#1F4C84" stroke-width="0.95"/>
<path d="M315.58 215.29L317.5 218.61L313.65 218.61Z" fill="#1F4C84" stroke="#1F4C84" stroke-width="0.95"/>
<line x1="270.72" y1="214.16" x2="270.72" y2="217.3" stroke="#AABD8C" stroke-width="0.85"/>
<line x1="269.32" y1="214.16" x2="272.12" y2="214.16" stroke="#AABD8C" stroke-width="0.85"/>
<line x1="269.32" y1="217.3" x2="272.12" y2="217.3" stroke="#AABD8C" stroke-width="0.85"/>
<line x1="279.69" y1="214.16" x2="279.69" y2="217.3" stroke="#AABD8C" stroke-width="0.85"/>
<line x1="278.29" y1="214.16" x2="281.09" y2="214.16" stroke="#AABD8C" stroke-width="0.85"/>
<line x1="278.29" y1="217.3" x2="281.09" y2="217.3" stroke="#AABD8C" stroke-width="0.85"/>
<line x1="288.66" y1="209.45" x2="288.66" y2="214.16" stroke="#AABD8C" stroke-width="0.85"/>
<line x1="287.26" y1="209.45" x2="290.06" y2="209.45" stroke="#AABD8C" stroke-width="0.85"/>
<line x1="287.26" y1="214.16" x2="290.06" y2="214.16" stroke="#AABD8C" stroke-width="0.85"/>
<line x1="297.64" y1="184.33" x2="297.64" y2="195.32" stroke="#AABD8C" stroke-width="0.85"/>
<line x1="296.24" y1="184.33" x2="299.04" y2="184.33" stroke="#AABD8C" stroke-width="0.85"/>
<line x1="296.24" y1="195.32" x2="299.04" y2="195.32" stroke="#AABD8C" stroke-width="0.85"/>
<line x1="306.61" y1="178.84" x2="306.61" y2="189.83" stroke="#AABD8C" stroke-width="0.85"/>
<line x1="305.21" y1="178.84" x2="308.01" y2="178.84" stroke="#AABD8C" stroke-width="0.85"/>
<line x1="305.21" y1="189.83" x2="308.01" y2="189.83" stroke="#AABD8C" stroke-width="0.85"/>
<line x1="315.58" y1="179.62" x2="315.58" y2="189.04" stroke="#AABD8C" stroke-width="0.85"/>
<line x1="314.18" y1="179.62" x2="316.98" y2="179.62" stroke="#AABD8C" stroke-width="0.85"/>
<line x1="314.18" y1="189.04" x2="316.98" y2="189.04" stroke="#AABD8C" stroke-width="0.85"/>
<path d="M261.75 215.2L263.5 217.3L261.75 219.4L260 217.3Z" fill="#fff" stroke="#AABD8C" stroke-width="0.95"/>
<path d="M270.72 213.63L272.47 215.73L270.72 217.83L268.97 215.73Z" fill="#fff" stroke="#AABD8C" stroke-width="0.95"/>
<path d="M279.69 213.63L281.44 215.73L279.69 217.83L277.94 215.73Z" fill="#fff" stroke="#AABD8C" stroke-width="0.95"/>
<path d="M288.66 209.71L290.41 211.81L288.66 213.91L286.91 211.81Z" fill="#fff" stroke="#AABD8C" stroke-width="0.95"/>
<path d="M297.64 187.73L299.39 189.83L297.64 191.93L295.89 189.83Z" fill="#fff" stroke="#AABD8C" stroke-width="0.95"/>
<path d="M306.61 182.23L308.36 184.33L306.61 186.43L304.86 184.33Z" fill="#fff" stroke="#AABD8C" stroke-width="0.95"/>
<path d="M315.58 182.23L317.33 184.33L315.58 186.43L313.83 184.33Z" fill="#fff" stroke="#AABD8C" stroke-width="0.95"/>
<line x1="270.72" y1="213.38" x2="270.72" y2="216.52" stroke="#38A040" stroke-width="0.85"/>
<line x1="269.32" y1="213.38" x2="272.12" y2="213.38" stroke="#38A040" stroke-width="0.85"/>
<line x1="269.32" y1="216.52" x2="272.12" y2="216.52" stroke="#38A040" stroke-width="0.85"/>
<line x1="279.69" y1="213.38" x2="279.69" y2="216.52" stroke="#38A040" stroke-width="0.85"/>
<line x1="278.29" y1="213.38" x2="281.09" y2="213.38" stroke="#38A040" stroke-width="0.85"/>
<line x1="278.29" y1="216.52" x2="281.09" y2="216.52" stroke="#38A040" stroke-width="0.85"/>
<line x1="288.66" y1="206.31" x2="288.66" y2="212.59" stroke="#38A040" stroke-width="0.85"/>
<line x1="287.26" y1="206.31" x2="290.06" y2="206.31" stroke="#38A040" stroke-width="0.85"/>
<line x1="287.26" y1="212.59" x2="290.06" y2="212.59" stroke="#38A040" stroke-width="0.85"/>
<line x1="297.64" y1="181.98" x2="297.64" y2="191.4" stroke="#38A040" stroke-width="0.85"/>
<line x1="296.24" y1="181.98" x2="299.04" y2="181.98" stroke="#38A040" stroke-width="0.85"/>
<line x1="296.24" y1="191.4" x2="299.04" y2="191.4" stroke="#38A040" stroke-width="0.85"/>
<line x1="306.61" y1="174.91" x2="306.61" y2="184.33" stroke="#38A040" stroke-width="0.85"/>
<line x1="305.21" y1="174.91" x2="308.01" y2="174.91" stroke="#38A040" stroke-width="0.85"/>
<line x1="305.21" y1="184.33" x2="308.01" y2="184.33" stroke="#38A040" stroke-width="0.85"/>
<line x1="315.58" y1="176.48" x2="315.58" y2="184.33" stroke="#38A040" stroke-width="0.85"/>
<line x1="314.18" y1="176.48" x2="316.98" y2="176.48" stroke="#38A040" stroke-width="0.85"/>
<line x1="314.18" y1="184.33" x2="316.98" y2="184.33" stroke="#38A040" stroke-width="0.85"/>
<path d="M261.75 219.31L263.68 215.99L259.83 215.99Z" fill="#fff" stroke="#38A040" stroke-width="0.95"/>
<path d="M270.72 216.96L272.65 213.63L268.8 213.63Z" fill="#fff" stroke="#38A040" stroke-width="0.95"/>
<path d="M279.69 216.96L281.62 213.63L277.77 213.63Z" fill="#fff" stroke="#38A040" stroke-width="0.95"/>
<path d="M288.66 211.46L290.59 208.14L286.74 208.14Z" fill="#fff" stroke="#38A040" stroke-width="0.95"/>
<path d="M297.64 188.7L299.56 185.37L295.71 185.37Z" fill="#fff" stroke="#38A040" stroke-width="0.95"/>
<path d="M306.61 181.63L308.53 178.31L304.68 178.31Z" fill="#fff" stroke="#38A040" stroke-width="0.95"/>
<path d="M315.58 182.42L317.5 179.09L313.65 179.09Z" fill="#fff" stroke="#38A040" stroke-width="0.95"/>
<line x1="270.72" y1="204.74" x2="270.72" y2="212.59" stroke="#BE1238" stroke-width="0.85"/>
<line x1="269.32" y1="204.74" x2="272.12" y2="204.74" stroke="#BE1238" stroke-width="0.85"/>
<line x1="269.32" y1="212.59" x2="272.12" y2="212.59" stroke="#BE1238" stroke-width="0.85"/>
<line x1="279.69" y1="205.13" x2="279.69" y2="212.98" stroke="#BE1238" stroke-width="0.85"/>
<line x1="278.29" y1="205.13" x2="281.09" y2="205.13" stroke="#BE1238" stroke-width="0.85"/>
<line x1="278.29" y1="212.98" x2="281.09" y2="212.98" stroke="#BE1238" stroke-width="0.85"/>
<line x1="288.66" y1="199.56" x2="288.66" y2="207.41" stroke="#BE1238" stroke-width="0.85"/>
<line x1="287.26" y1="199.56" x2="290.06" y2="199.56" stroke="#BE1238" stroke-width="0.85"/>
<line x1="287.26" y1="207.41" x2="290.06" y2="207.41" stroke="#BE1238" stroke-width="0.85"/>
<line x1="297.64" y1="173.34" x2="297.64" y2="182.76" stroke="#BE1238" stroke-width="0.85"/>
<line x1="296.24" y1="173.34" x2="299.04" y2="173.34" stroke="#BE1238" stroke-width="0.85"/>
<line x1="296.24" y1="182.76" x2="299.04" y2="182.76" stroke="#BE1238" stroke-width="0.85"/>
<line x1="306.61" y1="159.21" x2="306.61" y2="165.49" stroke="#BE1238" stroke-width="0.85"/>
<line x1="305.21" y1="159.21" x2="308.01" y2="159.21" stroke="#BE1238" stroke-width="0.85"/>
<line x1="305.21" y1="165.49" x2="308.01" y2="165.49" stroke="#BE1238" stroke-width="0.85"/>
<line x1="315.58" y1="158.43" x2="315.58" y2="166.28" stroke="#BE1238" stroke-width="0.85"/>
<line x1="314.18" y1="158.43" x2="316.98" y2="158.43" stroke="#BE1238" stroke-width="0.85"/>
<line x1="314.18" y1="166.28" x2="316.98" y2="166.28" stroke="#BE1238" stroke-width="0.85"/>
<circle cx="261.75" cy="217.3" r="1.75" fill="#fff" stroke="#BE1238" stroke-width="1.09"/>
<circle cx="270.72" cy="208.67" r="1.75" fill="#fff" stroke="#BE1238" stroke-width="1.09"/>
<circle cx="279.69" cy="209.06" r="1.75" fill="#fff" stroke="#BE1238" stroke-width="1.09"/>
<circle cx="288.66" cy="203.48" r="1.75" fill="#fff" stroke="#BE1238" stroke-width="1.09"/>
<circle cx="297.64" cy="178.05" r="1.75" fill="#fff" stroke="#BE1238" stroke-width="1.09"/>
<circle cx="306.61" cy="162.35" r="1.75" fill="#fff" stroke="#BE1238" stroke-width="1.09"/>
<circle cx="315.58" cy="162.35" r="1.75" fill="#fff" stroke="#BE1238" stroke-width="1.09"/>
<text x="297.5" y="239.4" font-size="7" fill="#2a2a2a" stroke="#2a2a2a" stroke-width="0.15" textLength="58.8" lengthAdjust="spacingAndGlyphs">Plate bound CD19 μg/ml</text>
<line x1="351.7" y1="152.5" x2="351.7" y2="217.45" stroke="#1e1e1e" stroke-width="1.15"/>
<line x1="348.7" y1="216.9" x2="351.7" y2="216.9" stroke="#1e1e1e" stroke-width="0.9"/>
<text x="347.1" y="219.1" font-size="6.2" fill="#2a2a2a" stroke="#2a2a2a" stroke-width="0.14" text-anchor="end" textLength="3.4" lengthAdjust="spacingAndGlyphs">0</text>
<line x1="348.7" y1="196" x2="351.7" y2="196" stroke="#1e1e1e" stroke-width="0.9"/>
<text x="347.1" y="198.2" font-size="6.2" fill="#2a2a2a" stroke="#2a2a2a" stroke-width="0.14" text-anchor="end" textLength="3.4" lengthAdjust="spacingAndGlyphs">2</text>
<line x1="348.7" y1="175.1" x2="351.7" y2="175.1" stroke="#1e1e1e" stroke-width="0.9"/>
<text x="347.1" y="177.3" font-size="6.2" fill="#2a2a2a" stroke="#2a2a2a" stroke-width="0.14" text-anchor="end" textLength="3.4" lengthAdjust="spacingAndGlyphs">4</text>
<line x1="348.7" y1="154.2" x2="351.7" y2="154.2" stroke="#1e1e1e" stroke-width="0.9"/>
<text x="347.1" y="156.4" font-size="6.2" fill="#2a2a2a" stroke="#2a2a2a" stroke-width="0.14" text-anchor="end" textLength="3.4" lengthAdjust="spacingAndGlyphs">6</text>
<line x1="351.15" y1="216.9" x2="423" y2="216.9" stroke="#1e1e1e" stroke-width="1.15"/>
<line x1="360.25" y1="216.9" x2="360.25" y2="219.5" stroke="#1e1e1e" stroke-width="0.9"/>
<text x="360.25" y="226.3" font-size="6.2" fill="#2a2a2a" stroke="#2a2a2a" stroke-width="0.14" text-anchor="middle" textLength="8.3" lengthAdjust="spacingAndGlyphs">0.1</text>
<line x1="390.75" y1="216.9" x2="390.75" y2="219.5" stroke="#1e1e1e" stroke-width="0.9"/>
<text x="390.75" y="226.3" font-size="6.2" fill="#2a2a2a" stroke="#2a2a2a" stroke-width="0.14" text-anchor="middle" textLength="3.4" lengthAdjust="spacingAndGlyphs">1</text>
<line x1="421.25" y1="216.9" x2="421.25" y2="219.5" stroke="#1e1e1e" stroke-width="0.9"/>
<text x="421.25" y="226.3" font-size="6.2" fill="#2a2a2a" stroke="#2a2a2a" stroke-width="0.14" text-anchor="middle" textLength="6.8" lengthAdjust="spacingAndGlyphs">10</text>
<line x1="369.43" y1="216.9" x2="369.43" y2="218.5" stroke="#1e1e1e" stroke-width="0.6"/>
<line x1="374.8" y1="216.9" x2="374.8" y2="218.5" stroke="#1e1e1e" stroke-width="0.6"/>
<line x1="378.61" y1="216.9" x2="378.61" y2="218.5" stroke="#1e1e1e" stroke-width="0.6"/>
<line x1="381.57" y1="216.9" x2="381.57" y2="218.5" stroke="#1e1e1e" stroke-width="0.6"/>
<line x1="383.98" y1="216.9" x2="383.98" y2="218.5" stroke="#1e1e1e" stroke-width="0.6"/>
<line x1="386.03" y1="216.9" x2="386.03" y2="218.5" stroke="#1e1e1e" stroke-width="0.6"/>
<line x1="387.79" y1="216.9" x2="387.79" y2="218.5" stroke="#1e1e1e" stroke-width="0.6"/>
<line x1="389.35" y1="216.9" x2="389.35" y2="218.5" stroke="#1e1e1e" stroke-width="0.6"/>
<line x1="399.93" y1="216.9" x2="399.93" y2="218.5" stroke="#1e1e1e" stroke-width="0.6"/>
<line x1="405.3" y1="216.9" x2="405.3" y2="218.5" stroke="#1e1e1e" stroke-width="0.6"/>
<line x1="409.11" y1="216.9" x2="409.11" y2="218.5" stroke="#1e1e1e" stroke-width="0.6"/>
<line x1="412.07" y1="216.9" x2="412.07" y2="218.5" stroke="#1e1e1e" stroke-width="0.6"/>
<line x1="414.48" y1="216.9" x2="414.48" y2="218.5" stroke="#1e1e1e" stroke-width="0.6"/>
<line x1="416.53" y1="216.9" x2="416.53" y2="218.5" stroke="#1e1e1e" stroke-width="0.6"/>
<line x1="418.29" y1="216.9" x2="418.29" y2="218.5" stroke="#1e1e1e" stroke-width="0.6"/>
<line x1="419.85" y1="216.9" x2="419.85" y2="218.5" stroke="#1e1e1e" stroke-width="0.6"/>
<text x="342.5" y="186.3" font-size="7" fill="#2a2a2a" stroke="#2a2a2a" stroke-width="0.12" text-anchor="middle" textLength="27.5" lengthAdjust="spacingAndGlyphs" transform="rotate(-90 342.5 186.3)">IFNγ ng/ml</text>
<path d="M361.51 216.9L362.93 216.9L364.35 216.9L365.77 216.9L367.19 216.9L368.61 216.9L370.03 216.9L371.45 216.9L372.87 216.9L374.29 216.89L375.71 216.89L377.13 216.89L378.55 216.88L379.97 216.86L381.39 216.84L382.81 216.81L384.23 216.75L385.64 216.66L387.06 216.52L388.48 216.28L389.9 215.92L391.32 215.34L392.74 214.48L394.16 213.2L395.58 211.42L397 209.1L398.42 206.34L399.84 203.4L401.26 200.59L402.68 198.18L404.1 196.31L405.52 194.95L406.94 194.02L408.36 193.41L409.78 193.01L411.2 192.76L412.62 192.6L414.04 192.5L415.46 192.44L416.87 192.4L418.29 192.38" fill="none" stroke="#AABD8C" stroke-width="1.1" stroke-linejoin="round" stroke-linecap="round"/>
<path d="M361.51 216.9L362.93 216.9L364.35 216.9L365.77 216.9L367.19 216.9L368.61 216.9L370.03 216.89L371.45 216.89L372.87 216.88L374.29 216.88L375.71 216.86L377.13 216.84L378.55 216.82L379.97 216.77L381.39 216.7L382.81 216.6L384.23 216.43L385.64 216.19L387.06 215.82L388.48 215.27L389.9 214.46L391.32 213.29L392.74 211.64L394.16 209.41L395.58 206.57L397 203.18L398.42 199.44L399.84 195.68L401.26 192.21L402.68 189.27L404.1 186.95L405.52 185.22L406.94 183.97L408.36 183.11L409.78 182.52L411.2 182.13L412.62 181.87L414.04 181.7L415.46 181.58L416.87 181.51L418.29 181.46" fill="none" stroke="#38A040" stroke-width="1.1" stroke-linejoin="round" stroke-linecap="round"/>
<path d="M361.51 216.38L362.93 216.38L364.35 216.38L365.77 216.38L367.19 216.38L368.61 216.38L370.03 216.37L371.45 216.37L372.87 216.37L374.29 216.36L375.71 216.35L377.13 216.33L378.55 216.31L379.97 216.26L381.39 216.19L382.81 216.07L384.23 215.89L385.64 215.59L387.06 215.11L388.48 214.35L389.9 213.18L391.32 211.4L392.74 208.78L394.16 205.14L395.58 200.41L397 194.82L398.42 188.86L399.84 183.21L401.26 178.38L402.68 174.64L404.1 171.93L405.52 170.08L406.94 168.86L408.36 168.07L409.78 167.57L411.2 167.25L412.62 167.06L414.04 166.94L415.46 166.86L416.87 166.82L418.29 166.79" fill="none" stroke="#BE1238" stroke-width="1.1" stroke-linejoin="round" stroke-linecap="round"/>
<path d="M362.35 214.89L364.28 218.21L360.43 218.21Z" fill="#1F4C84" stroke="#1F4C84" stroke-width="0.95"/>
<path d="M371.53 214.89L373.46 218.21L369.61 218.21Z" fill="#1F4C84" stroke="#1F4C84" stroke-width="0.95"/>
<path d="M380.71 214.89L382.64 218.21L378.79 218.21Z" fill="#1F4C84" stroke="#1F4C84" stroke-width="0.95"/>
<path d="M389.9 214.89L391.82 218.21L387.97 218.21Z" fill="#1F4C84" stroke="#1F4C84" stroke-width="0.95"/>
<path d="M399.08 214.89L401 218.21L397.15 218.21Z" fill="#1F4C84" stroke="#1F4C84" stroke-width="0.95"/>
<path d="M408.26 214.89L410.18 218.21L406.33 218.21Z" fill="#1F4C84" stroke="#1F4C84" stroke-width="0.95"/>
<path d="M417.44 214.89L419.36 218.21L415.51 218.21Z" fill="#1F4C84" stroke="#1F4C84" stroke-width="0.95"/>
<line x1="399.08" y1="192.87" x2="399.08" y2="199.14" stroke="#AABD8C" stroke-width="0.85"/>
<line x1="397.68" y1="192.87" x2="400.48" y2="192.87" stroke="#AABD8C" stroke-width="0.85"/>
<line x1="397.68" y1="199.14" x2="400.48" y2="199.14" stroke="#AABD8C" stroke-width="0.85"/>
<line x1="408.26" y1="190.25" x2="408.26" y2="194.43" stroke="#AABD8C" stroke-width="0.85"/>
<line x1="406.86" y1="190.25" x2="409.66" y2="190.25" stroke="#AABD8C" stroke-width="0.85"/>
<line x1="406.86" y1="194.43" x2="409.66" y2="194.43" stroke="#AABD8C" stroke-width="0.85"/>
<line x1="417.44" y1="190.25" x2="417.44" y2="194.43" stroke="#AABD8C" stroke-width="0.85"/>
<line x1="416.04" y1="190.25" x2="418.84" y2="190.25" stroke="#AABD8C" stroke-width="0.85"/>
<line x1="416.04" y1="194.43" x2="418.84" y2="194.43" stroke="#AABD8C" stroke-width="0.85"/>
<path d="M362.35 214.8L364.1 216.9L362.35 219L360.6 216.9Z" fill="#fff" stroke="#AABD8C" stroke-width="0.95"/>
<path d="M371.53 214.8L373.28 216.9L371.53 219L369.78 216.9Z" fill="#fff" stroke="#AABD8C" stroke-width="0.95"/>
<path d="M380.71 214.8L382.46 216.9L380.71 219L378.96 216.9Z" fill="#fff" stroke="#AABD8C" stroke-width="0.95"/>
<path d="M389.9 214.28L391.65 216.38L389.9 218.48L388.15 216.38Z" fill="#fff" stroke="#AABD8C" stroke-width="0.95"/>
<path d="M399.08 193.9L400.83 196L399.08 198.1L397.33 196Z" fill="#fff" stroke="#AABD8C" stroke-width="0.95"/>
<path d="M408.26 190.24L410.01 192.34L408.26 194.44L406.51 192.34Z" fill="#fff" stroke="#AABD8C" stroke-width="0.95"/>
<path d="M417.44 190.24L419.19 192.34L417.44 194.44L415.69 192.34Z" fill="#fff" stroke="#AABD8C" stroke-width="0.95"/>
<line x1="389.9" y1="214.81" x2="389.9" y2="216.9" stroke="#38A040" stroke-width="0.85"/>
<line x1="388.5" y1="214.81" x2="391.3" y2="214.81" stroke="#38A040" stroke-width="0.85"/>
<line x1="388.5" y1="216.9" x2="391.3" y2="216.9" stroke="#38A040" stroke-width="0.85"/>
<line x1="399.08" y1="189.21" x2="399.08" y2="195.48" stroke="#38A040" stroke-width="0.85"/>
<line x1="397.68" y1="189.21" x2="400.48" y2="189.21" stroke="#38A040" stroke-width="0.85"/>
<line x1="397.68" y1="195.48" x2="400.48" y2="195.48" stroke="#38A040" stroke-width="0.85"/>
<line x1="408.26" y1="179.28" x2="408.26" y2="183.46" stroke="#38A040" stroke-width="0.85"/>
<line x1="406.86" y1="179.28" x2="409.66" y2="179.28" stroke="#38A040" stroke-width="0.85"/>
<line x1="406.86" y1="183.46" x2="409.66" y2="183.46" stroke="#38A040" stroke-width="0.85"/>
<line x1="417.44" y1="179.28" x2="417.44" y2="183.46" stroke="#38A040" stroke-width="0.85"/>
<line x1="416.04" y1="179.28" x2="418.84" y2="179.28" stroke="#38A040" stroke-width="0.85"/>
<line x1="416.04" y1="183.46" x2="418.84" y2="183.46" stroke="#38A040" stroke-width="0.85"/>
<path d="M362.35 218.91L364.28 215.59L360.43 215.59Z" fill="#fff" stroke="#38A040" stroke-width="0.95"/>
<path d="M371.53 218.91L373.46 215.59L369.61 215.59Z" fill="#fff" stroke="#38A040" stroke-width="0.95"/>
<path d="M380.71 218.39L382.64 215.06L378.79 215.06Z" fill="#fff" stroke="#38A040" stroke-width="0.95"/>
<path d="M389.9 217.87L391.82 214.54L387.97 214.54Z" fill="#fff" stroke="#38A040" stroke-width="0.95"/>
<path d="M399.08 194.35L401 191.03L397.15 191.03Z" fill="#fff" stroke="#38A040" stroke-width="0.95"/>
<path d="M408.26 183.38L410.18 180.06L406.33 180.06Z" fill="#fff" stroke="#38A040" stroke-width="0.95"/>
<path d="M417.44 183.38L419.36 180.06L415.51 180.06Z" fill="#fff" stroke="#38A040" stroke-width="0.95"/>
<line x1="380.71" y1="211.05" x2="380.71" y2="215.23" stroke="#BE1238" stroke-width="0.85"/>
<line x1="379.31" y1="211.05" x2="382.11" y2="211.05" stroke="#BE1238" stroke-width="0.85"/>
<line x1="379.31" y1="215.23" x2="382.11" y2="215.23" stroke="#BE1238" stroke-width="0.85"/>
<line x1="389.9" y1="207.08" x2="389.9" y2="213.35" stroke="#BE1238" stroke-width="0.85"/>
<line x1="388.5" y1="207.08" x2="391.3" y2="207.08" stroke="#BE1238" stroke-width="0.85"/>
<line x1="388.5" y1="213.35" x2="391.3" y2="213.35" stroke="#BE1238" stroke-width="0.85"/>
<line x1="399.08" y1="182.42" x2="399.08" y2="188.69" stroke="#BE1238" stroke-width="0.85"/>
<line x1="397.68" y1="182.42" x2="400.48" y2="182.42" stroke="#BE1238" stroke-width="0.85"/>
<line x1="397.68" y1="188.69" x2="400.48" y2="188.69" stroke="#BE1238" stroke-width="0.85"/>
<line x1="408.26" y1="165.7" x2="408.26" y2="173.01" stroke="#BE1238" stroke-width="0.85"/>
<line x1="406.86" y1="165.7" x2="409.66" y2="165.7" stroke="#BE1238" stroke-width="0.85"/>
<line x1="406.86" y1="173.01" x2="409.66" y2="173.01" stroke="#BE1238" stroke-width="0.85"/>
<line x1="417.44" y1="161.51" x2="417.44" y2="169.88" stroke="#BE1238" stroke-width="0.85"/>
<line x1="416.04" y1="161.51" x2="418.84" y2="161.51" stroke="#BE1238" stroke-width="0.85"/>
<line x1="416.04" y1="169.88" x2="418.84" y2="169.88" stroke="#BE1238" stroke-width="0.85"/>
<circle cx="362.35" cy="216.9" r="1.75" fill="#fff" stroke="#BE1238" stroke-width="1.09"/>
<circle cx="371.53" cy="216.9" r="1.75" fill="#fff" stroke="#BE1238" stroke-width="1.09"/>
<circle cx="380.71" cy="213.14" r="1.75" fill="#fff" stroke="#BE1238" stroke-width="1.09"/>
<circle cx="389.9" cy="210.21" r="1.75" fill="#fff" stroke="#BE1238" stroke-width="1.09"/>
<circle cx="399.08" cy="185.55" r="1.75" fill="#fff" stroke="#BE1238" stroke-width="1.09"/>
<circle cx="408.26" cy="169.35" r="1.75" fill="#fff" stroke="#BE1238" stroke-width="1.09"/>
<circle cx="417.44" cy="165.69" r="1.75" fill="#fff" stroke="#BE1238" stroke-width="1.09"/>
<line x1="429.6" y1="169.8" x2="438.3" y2="169.8" stroke="#BE1238" stroke-width="1.3"/>
<circle cx="434" cy="169.8" r="1.8" fill="#fff" stroke="#BE1238" stroke-width="1.21"/>
<text x="441.5" y="171.9" font-size="5.9" fill="#2a2a2a" stroke="#2a2a2a" stroke-width="0.14" textLength="15.5" lengthAdjust="spacingAndGlyphs">CD19</text>
<line x1="429.6" y1="179.43" x2="438.3" y2="179.43" stroke="#1F4C84" stroke-width="1.3"/>
<path d="M434 177.36L435.98 180.78L432.02 180.78Z" fill="#fff" stroke="#1F4C84" stroke-width="1.05"/>
<text x="441.5" y="181.53" font-size="5.9" fill="#2a2a2a" stroke="#2a2a2a" stroke-width="0.14" textLength="18.3" lengthAdjust="spacingAndGlyphs">CD79a</text>
<line x1="429.6" y1="189.06" x2="438.3" y2="189.06" stroke="#AABD8C" stroke-width="1.3"/>
<path d="M434 186.9L435.8 189.06L434 191.22L432.2 189.06Z" fill="#fff" stroke="#AABD8C" stroke-width="1.05"/>
<text x="441.5" y="191.16" font-size="5.9" fill="#2a2a2a" stroke="#2a2a2a" stroke-width="0.14" textLength="29.5" lengthAdjust="spacingAndGlyphs">tCD79a_19</text>
<line x1="429.6" y1="198.69" x2="438.3" y2="198.69" stroke="#38A040" stroke-width="1.3"/>
<path d="M434 200.76L435.98 197.34L432.02 197.34Z" fill="#fff" stroke="#38A040" stroke-width="1.05"/>
<text x="441.5" y="200.79" font-size="5.9" fill="#2a2a2a" stroke="#2a2a2a" stroke-width="0.14" textLength="31.4" lengthAdjust="spacingAndGlyphs">bCD19_79a</text>
<path d="M185 157.5h1.6M185.4 156.8l0.8 1.39M185.4 158.2l0.8 -1.39" stroke="#B9CDA6" stroke-width="0.7" stroke-linecap="round"/>
<path d="M187.7 157.5h1.6M188.1 156.8l0.8 1.39M188.1 158.2l0.8 -1.39" stroke="#B9CDA6" stroke-width="0.7" stroke-linecap="round"/>
<path d="M190.4 157.5h1.6M190.8 156.8l0.8 1.39M190.8 158.2l0.8 -1.39" stroke="#B9CDA6" stroke-width="0.7" stroke-linecap="round"/>
<path d="M185 162.1h1.6M185.4 161.4l0.8 1.39M185.4 162.8l0.8 -1.39" stroke="#5DA35A" stroke-width="0.7" stroke-linecap="round"/>
<path d="M187.7 162.1h1.6M188.1 161.4l0.8 1.39M188.1 162.8l0.8 -1.39" stroke="#5DA35A" stroke-width="0.7" stroke-linecap="round"/>
<path d="M190.4 162.1h1.6M190.8 161.4l0.8 1.39M190.8 162.8l0.8 -1.39" stroke="#5DA35A" stroke-width="0.7" stroke-linecap="round"/>
<path d="M180.2 197.9h1.6M180.6 197.2l0.8 1.39M180.6 198.6l0.8 -1.39" stroke="#B9CDA6" stroke-width="0.7" stroke-linecap="round"/>
<path d="M177.7 201.9h1.6M178.1 201.2l0.8 1.39M178.1 202.6l0.8 -1.39" stroke="#5DA35A" stroke-width="0.7" stroke-linecap="round"/>
<path d="M180.4 201.9h1.6M180.8 201.2l0.8 1.39M180.8 202.6l0.8 -1.39" stroke="#5DA35A" stroke-width="0.7" stroke-linecap="round"/>
<path d="M183.1 201.9h1.6M183.5 201.2l0.8 1.39M183.5 202.6l0.8 -1.39" stroke="#5DA35A" stroke-width="0.7" stroke-linecap="round"/>
<path d="M192.2 199.5h1.6M192.6 198.8l0.8 1.39M192.6 200.2l0.8 -1.39" stroke="#B9CDA6" stroke-width="0.7" stroke-linecap="round"/>
<path d="M194.9 199.5h1.6M195.3 198.8l0.8 1.39M195.3 200.2l0.8 -1.39" stroke="#B9CDA6" stroke-width="0.7" stroke-linecap="round"/>
<path d="M197.6 199.5h1.6M198 198.8l0.8 1.39M198 200.2l0.8 -1.39" stroke="#B9CDA6" stroke-width="0.7" stroke-linecap="round"/>
<path d="M193.55 204.1h1.6M193.95 203.4l0.8 1.39M193.95 204.8l0.8 -1.39" stroke="#5DA35A" stroke-width="0.7" stroke-linecap="round"/>
<path d="M196.25 204.1h1.6M196.65 203.4l0.8 1.39M196.65 204.8l0.8 -1.39" stroke="#5DA35A" stroke-width="0.7" stroke-linecap="round"/>
<path d="M304.35 149.9h1.6M304.75 149.2l0.8 1.39M304.75 150.6l0.8 -1.39" stroke="#D0B8B8" stroke-width="0.7" stroke-linecap="round"/>
<path d="M307.05 149.9h1.6M307.45 149.2l0.8 1.39M307.45 150.6l0.8 -1.39" stroke="#D0B8B8" stroke-width="0.7" stroke-linecap="round"/>
<path d="M305.7 154.5h1.6M306.1 153.8l0.8 1.39M306.1 155.2l0.8 -1.39" stroke="#5DA35A" stroke-width="0.7" stroke-linecap="round"/>
<path d="M313.25 149.9h1.6M313.65 149.2l0.8 1.39M313.65 150.6l0.8 -1.39" stroke="#D0B8B8" stroke-width="0.7" stroke-linecap="round"/>
<path d="M315.95 149.9h1.6M316.35 149.2l0.8 1.39M316.35 150.6l0.8 -1.39" stroke="#D0B8B8" stroke-width="0.7" stroke-linecap="round"/>
<path d="M314.6 154.5h1.6M315 153.8l0.8 1.39M315 155.2l0.8 -1.39" stroke="#5DA35A" stroke-width="0.7" stroke-linecap="round"/>
<path d="M403.5 157.9h1.6M403.9 157.2l0.8 1.39M403.9 158.6l0.8 -1.39" stroke="#B9CDA6" stroke-width="0.7" stroke-linecap="round"/>
<path d="M406.2 157.9h1.6M406.6 157.2l0.8 1.39M406.6 158.6l0.8 -1.39" stroke="#B9CDA6" stroke-width="0.7" stroke-linecap="round"/>
<path d="M408.9 157.9h1.6M409.3 157.2l0.8 1.39M409.3 158.6l0.8 -1.39" stroke="#B9CDA6" stroke-width="0.7" stroke-linecap="round"/>
<path d="M406.8 162.1h1.6M407.2 161.4l0.8 1.39M407.2 162.8l0.8 -1.39" stroke="#555" stroke-width="0.7" stroke-linecap="round"/>
<path d="M413.5 150.9h1.6M413.9 150.2l0.8 1.39M413.9 151.6l0.8 -1.39" stroke="#B9CDA6" stroke-width="0.7" stroke-linecap="round"/>
<path d="M416.2 150.9h1.6M416.6 150.2l0.8 1.39M416.6 151.6l0.8 -1.39" stroke="#B9CDA6" stroke-width="0.7" stroke-linecap="round"/>
<path d="M418.9 150.9h1.6M419.3 150.2l0.8 1.39M419.3 151.6l0.8 -1.39" stroke="#B9CDA6" stroke-width="0.7" stroke-linecap="round"/>
<path d="M413.5 155.3h1.6M413.9 154.6l0.8 1.39M413.9 156l0.8 -1.39" stroke="#5F7560" stroke-width="0.7" stroke-linecap="round"/>
<path d="M416.2 155.3h1.6M416.6 154.6l0.8 1.39M416.6 156l0.8 -1.39" stroke="#5F7560" stroke-width="0.7" stroke-linecap="round"/>
<path d="M418.9 155.3h1.6M419.3 154.6l0.8 1.39M419.3 156l0.8 -1.39" stroke="#5F7560" stroke-width="0.7" stroke-linecap="round"/>
<path d="M407.8 186.3h1.6M408.2 185.6l0.8 1.39M408.2 187l0.8 -1.39" stroke="#222" stroke-width="0.7" stroke-linecap="round"/>
<path d="M407.8 189.3h1.6M408.2 188.6l0.8 1.39M408.2 190l0.8 -1.39" stroke="#222" stroke-width="0.7" stroke-linecap="round"/>
<path d="M419.15 320.3h1.9M419.62 319.47l0.95 1.65M419.62 321.13l0.95 -1.65" stroke="#1a1a1a" stroke-width="0.7" stroke-linecap="round"/>
<path d="M422.05 320.3h1.9M422.52 319.47l0.95 1.65M422.52 321.13l0.95 -1.65" stroke="#1a1a1a" stroke-width="0.7" stroke-linecap="round"/>
<path d="M424.95 320.3h1.9M425.42 319.47l0.95 1.65M425.42 321.13l0.95 -1.65" stroke="#1a1a1a" stroke-width="0.7" stroke-linecap="round"/>
<path d="M417.4 337.1h1.9M417.88 336.27l0.95 1.65M417.88 337.93l0.95 -1.65" stroke="#1a1a1a" stroke-width="0.7" stroke-linecap="round"/>
<path d="M420.3 337.1h1.9M420.77 336.27l0.95 1.65M420.77 337.93l0.95 -1.65" stroke="#1a1a1a" stroke-width="0.7" stroke-linecap="round"/>
<path d="M433.1 337.1h1.9M433.57 336.27l0.95 1.65M433.57 337.93l0.95 -1.65" stroke="#1a1a1a" stroke-width="0.7" stroke-linecap="round"/>
<path d="M436 337.1h1.9M436.47 336.27l0.95 1.65M436.47 337.93l0.95 -1.65" stroke="#1a1a1a" stroke-width="0.7" stroke-linecap="round"/>
<path d="M444.2 454.3h1.6M444.6 453.6l0.8 1.39M444.6 455l0.8 -1.39" stroke="#1a1a1a" stroke-width="0.7" stroke-linecap="round"/>
<path d="M493.3 61.7h1.2M493.6 61.18l0.6 1.04M493.6 62.22l0.6 -1.04" stroke="#222" stroke-width="0.7" stroke-linecap="round"/>
<path d="M495.1 61.7h1.2M495.4 61.18l0.6 1.04M495.4 62.22l0.6 -1.04" stroke="#222" stroke-width="0.7" stroke-linecap="round"/>
<path d="M500.7 65.8h1.2M501 65.28l0.6 1.04M501 66.32l0.6 -1.04" stroke="#222" stroke-width="0.7" stroke-linecap="round"/>
<path d="M510.9 74.1h1.2M511.2 73.58l0.6 1.04M511.2 74.62l0.6 -1.04" stroke="#222" stroke-width="0.7" stroke-linecap="round"/>
<path d="M512.7 74.1h1.2M513 73.58l0.6 1.04M513 74.62l0.6 -1.04" stroke="#222" stroke-width="0.7" stroke-linecap="round"/>
<path d="M515 81.9h1.2M515.3 81.38l0.6 1.04M515.3 82.42l0.6 -1.04" stroke="#222" stroke-width="0.7" stroke-linecap="round"/>
</svg>
</body></html>
